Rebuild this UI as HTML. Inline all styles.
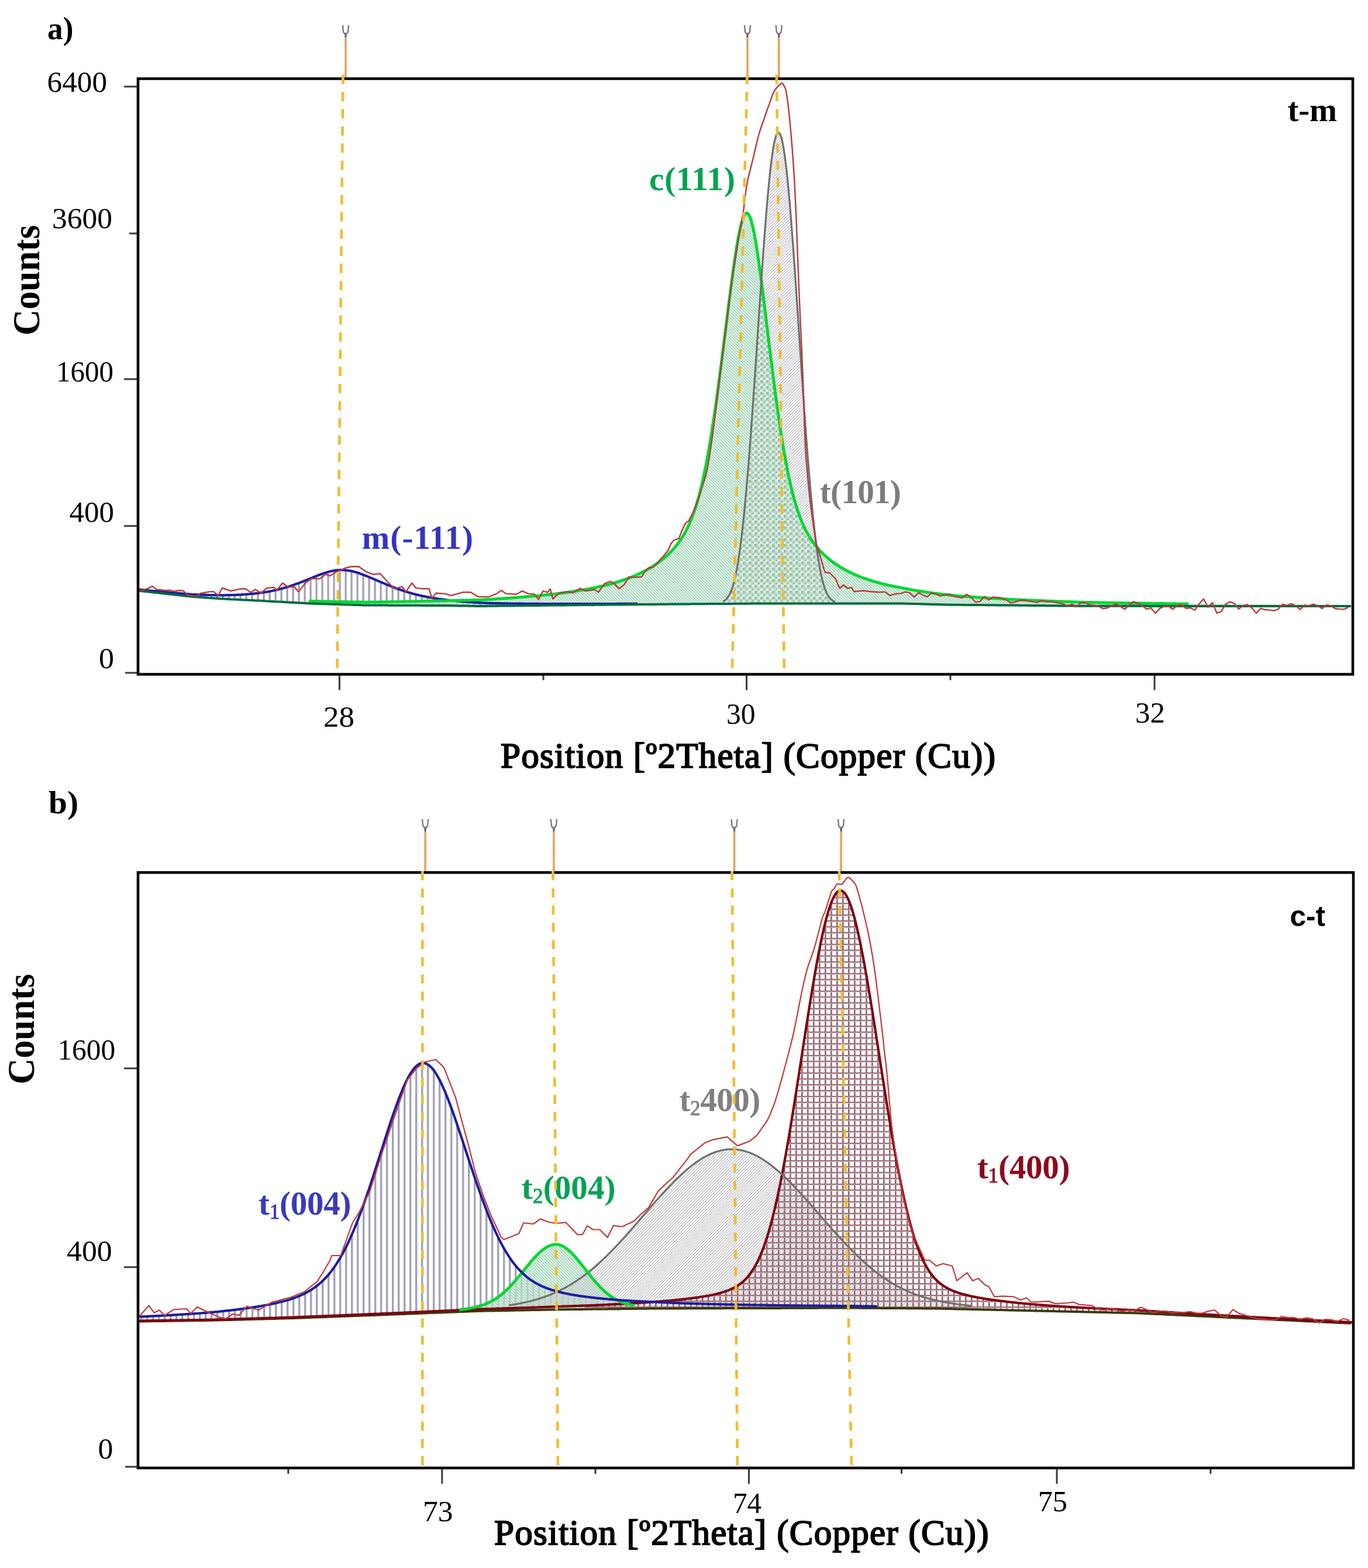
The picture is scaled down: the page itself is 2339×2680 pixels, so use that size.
<!DOCTYPE html><html><head><meta charset="utf-8"><title>XRD</title>
<style>html,body{margin:0;padding:0;background:#fff;width:2339px;height:2680px;overflow:hidden}svg{display:block}.sr{font-family:"Liberation Serif",serif}.sb{font-family:"Liberation Serif",serif;font-weight:bold}.ss{font-family:"Liberation Sans",sans-serif;font-weight:bold}.sbs{font-family:"Liberation Serif",serif;font-weight:bold}.sm{font-family:"Liberation Serif",serif;font-weight:normal;stroke-width:0.6;paint-order:stroke}</style></head><body>
<svg xmlns="http://www.w3.org/2000/svg" width="2339" height="2680" viewBox="0 0 2339 2680">
<rect width="2339" height="2680" fill="#fff"/>
<defs>
<pattern id="pv" patternUnits="userSpaceOnUse" width="10" height="10" x="0"><rect x="0" y="0" width="3.4" height="10" fill="#a2a2b8"/></pattern>
<pattern id="pva" patternUnits="userSpaceOnUse" width="10" height="10" x="-0.5"><rect x="0" y="0" width="3.2" height="10" fill="#9e9eb2"/></pattern>
<pattern id="pg" patternUnits="userSpaceOnUse" width="5" height="5"><path d="M-1,-1L6,6M-1,4L1,6M4,-1L6,1" stroke="#add6bf" stroke-width="1.9"/></pattern>
<pattern id="py" patternUnits="userSpaceOnUse" width="5" height="5"><path d="M-1,6L6,-1M-1,1L1,-1M4,6L6,4" stroke="#c9c9ce" stroke-width="1.6"/></pattern>
<pattern id="pr" patternUnits="userSpaceOnUse" width="10" height="10" x="0" y="3"><rect x="0" y="0" width="2" height="10" fill="#8e5e69"/><rect x="2" y="0" width="1.3" height="10" fill="#c8b0b5"/><rect x="0" y="0" width="10" height="1.9" fill="#976a74"/><rect x="0" y="1.9" width="10" height="1.1" fill="#d0bcc0"/></pattern>
<pattern id="pk" patternUnits="userSpaceOnUse" width="10" height="10"><rect width="10" height="10" fill="#d9efe2"/><rect x="3.8" y="0" width="2" height="10" fill="#b6d6c3"/><rect x="0" y="3.8" width="10" height="2" fill="#b6d6c3"/><rect x="0" y="0" width="3.8" height="3.8" fill="#93baa1"/><rect x="6.3" y="6.3" width="2.4" height="2.4" fill="#7fa48b"/></pattern>
</defs>
<path d="M238,1007.4L240,1007.9L242,1008.1L244,1008.3L246,1008.5L248,1008.7L250,1008.9L252,1009.1L254,1009.3L256,1009.5L258,1009.6L260,1009.8L262,1010L264,1010.2L266,1010.4L268,1010.6L270,1010.8L272,1011L274,1011.2L276,1011.3L278,1011.5L280,1011.7L282,1011.9L284,1012.1L286,1012.3L288,1012.4L290,1012.6L292,1012.8L294,1013L296,1013.2L298,1013.3L300,1013.5L302,1013.7L304,1013.9L306,1014L308,1014.2L310,1014.4L312,1014.6L314,1014.7L316,1014.9L318,1015.1L320,1015.2L322,1015.4L324,1015.6L326,1015.7L328,1015.9L330,1016L332,1016.1L334,1016.2L336,1016.3L338,1016.3L340,1016.4L342,1016.5L344,1016.6L346,1016.6L348,1016.7L350,1016.7L352,1016.8L354,1016.9L356,1016.9L358,1017L360,1017L362,1017.1L364,1017.1L366,1017.2L368,1017.2L370,1017.2L372,1017.3L374,1017.3L376,1017.3L378,1017.4L380,1017.4L382,1017.3L384,1017.3L386,1017.3L388,1017.2L390,1017.2L392,1017.2L394,1017.1L396,1017.1L398,1017L400,1016.9L402,1016.8L404,1016.8L406,1016.7L408,1016.6L410,1016.5L412,1016.4L414,1016.3L416,1016.1L418,1016L420,1015.9L422,1015.7L424,1015.6L426,1015.4L428,1015.2L430,1015L432,1014.8L434,1014.6L436,1014.4L438,1014.2L440,1014L442,1013.7L444,1013.5L446,1013.2L448,1012.9L450,1012.6L452,1012.3L454,1012L456,1011.7L458,1011.3L460,1011L462,1010.6L464,1010.2L466,1009.8L468,1009.4L470,1008.9L472,1008.5L474,1008L476,1007.5L478,1007L480,1006.5L482,1005.9L484,1005.4L486,1004.8L488,1004.2L490,1003.6L492,1003L494,1002.4L496,1001.8L498,1001.1L500,1000.4L502,999.7L504,999L506,998.3L508,997.6L510,996.9L512,996.1L514,995.4L516,994.6L518,993.8L520,993L522,992.3L524,991.5L526,990.7L528,989.8L530,989L532,988.2L534,987.4L536,986.5L538,985.7L540,984.9L542,984.1L544,983.3L546,982.6L548,981.8L550,981.1L552,980.4L554,979.7L556,979L558,978.4L560,977.8L562,977.3L564,976.8L566,976.3L568,975.8L570,975.5L572,975.1L574,974.8L576,974.6L578,974.4L580,974.3L582,974.2L584,974.2L586,974.2L588,974.3L590,974.5L592,974.7L594,974.9L596,975.2L598,975.6L600,975.9L602,976.4L604,976.9L606,977.4L608,977.9L610,978.5L612,979.1L614,979.8L616,980.5L618,981.2L620,982L622,982.7L624,983.5L626,984.3L628,985.1L630,985.9L632,986.7L634,987.6L636,988.4L638,989.2L640,990.1L642,990.9L644,991.8L646,992.7L648,993.5L650,994.4L652,995.2L654,996.1L656,996.9L658,997.8L660,998.6L662,999.4L664,1000.2L666,1001L668,1001.8L670,1002.6L672,1003.4L674,1004.2L676,1004.9L678,1005.7L680,1006.4L682,1007.1L684,1007.8L686,1008.5L688,1009.2L690,1009.8L692,1010.5L694,1011.1L696,1011.8L698,1012.4L700,1013L702,1013.5L704,1014.1L706,1014.7L708,1015.2L710,1015.7L712,1016.2L714,1016.7L716,1017.2L718,1017.7L720,1018.1L722,1018.6L724,1019L726,1019.4L728,1019.8L730,1020.2L732,1020.6L734,1021L736,1021.3L738,1021.7L740,1022L742,1022.4L744,1022.7L746,1023L748,1023.3L750,1023.6L752,1023.8L754,1024.1L756,1024.4L758,1024.6L760,1024.9L762,1025.1L764,1025.4L766,1025.6L768,1025.9L770,1026.1L772,1026.3L774,1026.5L776,1026.8L778,1027L780,1027.2L782,1027.4L784,1027.5L786,1027.7L788,1027.9L790,1028.1L792,1028.3L794,1028.4L796,1028.6L798,1028.7L800,1028.9L802,1029.1L804,1029.2L806,1029.3L808,1029.5L810,1029.6L812,1029.8L814,1029.9L816,1030L818,1030.1L820,1030.3L822,1030.3L824,1030.4L826,1030.5L828,1030.5L830,1030.6L832,1030.7L834,1030.7L836,1030.8L838,1030.8L840,1030.9L842,1030.9L844,1031L846,1031L848,1031.1L850,1031.1L852,1031.1L854,1031.2L856,1031.2L858,1031.3L860,1031.3L862,1031.3L864,1031.4L866,1031.4L868,1031.4L870,1031.5L872,1031.5L874,1031.5L876,1031.5L878,1031.6L880,1031.6L882,1031.6L884,1031.6L886,1031.7L888,1031.7L890,1031.7L892,1031.7L894,1031.7L896,1031.8L898,1031.8L900,1031.8L902,1031.8L904,1031.8L906,1031.9L908,1031.9L910,1031.9L912,1031.9L914,1031.9L916,1031.9L918,1031.9L920,1031.9L922,1032L924,1032L926,1032L928,1032L930,1032L932,1032L934,1032L936,1032L938,1032L940,1032L942,1032L944,1032L946,1032L948,1032L950,1032.1L952,1032.1L954,1032.1L956,1032.1L958,1032.1L960,1032.1L962,1032.1L964,1032.1L966,1032.1L968,1032.1L970,1032.1L972,1032.1L974,1032.1L976,1032.1L978,1032.1L980,1032.1L982,1032.1L984,1032.1L986,1032.1L988,1032.1L990,1032.1L992,1032.1L994,1032.1L996,1032.1L998,1032.1L1000,1032L1000,1034L998,1034L996,1034L994,1034.1L992,1034.1L990,1034.1L988,1034.1L986,1034.2L984,1034.2L982,1034.2L980,1034.2L978,1034.2L976,1034.3L974,1034.3L972,1034.3L970,1034.3L968,1034.4L966,1034.4L964,1034.4L962,1034.4L960,1034.4L958,1034.5L956,1034.5L954,1034.5L952,1034.5L950,1034.6L948,1034.6L946,1034.6L944,1034.6L942,1034.6L940,1034.7L938,1034.7L936,1034.7L934,1034.7L932,1034.8L930,1034.8L928,1034.8L926,1034.8L924,1034.8L922,1034.9L920,1034.9L918,1034.9L916,1034.9L914,1035L912,1035L910,1035L908,1035L906,1035L904,1035.1L902,1035.1L900,1035.1L898,1035.1L896,1035.2L894,1035.2L892,1035.2L890,1035.2L888,1035.2L886,1035.3L884,1035.3L882,1035.3L880,1035.3L878,1035.4L876,1035.4L874,1035.4L872,1035.4L870,1035.4L868,1035.5L866,1035.5L864,1035.5L862,1035.5L860,1035.6L858,1035.6L856,1035.6L854,1035.6L852,1035.6L850,1035.7L848,1035.7L846,1035.7L844,1035.7L842,1035.8L840,1035.8L838,1035.8L836,1035.8L834,1035.8L832,1035.9L830,1035.9L828,1035.9L826,1035.9L824,1036L822,1036L820,1036L818,1036L816,1035.9L814,1035.9L812,1035.9L810,1035.8L808,1035.8L806,1035.8L804,1035.7L802,1035.7L800,1035.7L798,1035.6L796,1035.6L794,1035.6L792,1035.5L790,1035.5L788,1035.5L786,1035.4L784,1035.4L782,1035.4L780,1035.3L778,1035.3L776,1035.3L774,1035.2L772,1035.2L770,1035.2L768,1035.1L766,1035.1L764,1035.1L762,1035L760,1035L758,1035L756,1035L754,1035L752,1035L750,1035L748,1035L746,1034.9L744,1034.9L742,1034.9L740,1034.9L738,1034.9L736,1034.9L734,1034.9L732,1034.9L730,1034.9L728,1034.9L726,1034.9L724,1034.9L722,1034.9L720,1034.9L718,1034.8L716,1034.8L714,1034.8L712,1034.8L710,1034.8L708,1034.8L706,1034.8L704,1034.8L702,1034.8L700,1034.8L698,1034.8L696,1034.8L694,1034.8L692,1034.7L690,1034.7L688,1034.7L686,1034.7L684,1034.7L682,1034.7L680,1034.7L678,1034.7L676,1034.7L674,1034.7L672,1034.7L670,1034.7L668,1034.7L666,1034.7L664,1034.6L662,1034.6L660,1034.6L658,1034.6L656,1034.6L654,1034.6L652,1034.6L650,1034.6L648,1034.6L646,1034.6L644,1034.6L642,1034.6L640,1034.6L638,1034.5L636,1034.5L634,1034.5L632,1034.5L630,1034.5L628,1034.5L626,1034.5L624,1034.5L622,1034.4L620,1034.3L618,1034.3L616,1034.2L614,1034.1L612,1034.1L610,1034L608,1033.9L606,1033.9L604,1033.8L602,1033.7L600,1033.7L598,1033.6L596,1033.6L594,1033.5L592,1033.4L590,1033.4L588,1033.3L586,1033.2L584,1033.2L582,1033.1L580,1033L578,1033L576,1032.9L574,1032.8L572,1032.8L570,1032.7L568,1032.6L566,1032.6L564,1032.5L562,1032.4L560,1032.4L558,1032.3L556,1032.2L554,1032.2L552,1032.1L550,1032.1L548,1032L546,1031.9L544,1031.9L542,1031.8L540,1031.7L538,1031.7L536,1031.6L534,1031.5L532,1031.5L530,1031.4L528,1031.3L526,1031.2L524,1031.1L522,1031L520,1030.9L518,1030.8L516,1030.7L514,1030.6L512,1030.5L510,1030.4L508,1030.3L506,1030.1L504,1030L502,1029.9L500,1029.8L498,1029.7L496,1029.6L494,1029.5L492,1029.4L490,1029.3L488,1029.1L486,1029L484,1028.9L482,1028.8L480,1028.7L478,1028.6L476,1028.5L474,1028.4L472,1028.3L470,1028.2L468,1028L466,1027.9L464,1027.8L462,1027.7L460,1027.6L458,1027.5L456,1027.4L454,1027.3L452,1027.2L450,1027L448,1026.9L446,1026.8L444,1026.7L442,1026.6L440,1026.5L438,1026.4L436,1026.3L434,1026.2L432,1026.1L430,1026L428,1025.9L426,1025.8L424,1025.7L422,1025.6L420,1025.5L418,1025.4L416,1025.3L414,1025.2L412,1025.1L410,1025L408,1024.9L406,1024.8L404,1024.7L402,1024.6L400,1024.5L398,1024.4L396,1024.3L394,1024.2L392,1024.1L390,1024L388,1023.9L386,1023.8L384,1023.7L382,1023.6L380,1023.5L378,1023.4L376,1023.2L374,1023.1L372,1022.9L370,1022.8L368,1022.7L366,1022.5L364,1022.4L362,1022.2L360,1022.1L358,1022L356,1021.8L354,1021.7L352,1021.5L350,1021.4L348,1021.3L346,1021.1L344,1021L342,1020.8L340,1020.7L338,1020.6L336,1020.4L334,1020.3L332,1020.1L330,1020L328,1019.8L326,1019.6L324,1019.3L322,1019.1L320,1018.9L318,1018.7L316,1018.4L314,1018.2L312,1018L310,1017.8L308,1017.6L306,1017.3L304,1017.1L302,1016.9L300,1016.7L298,1016.4L296,1016.2L294,1016L292,1015.8L290,1015.6L288,1015.3L286,1015.1L284,1014.9L282,1014.7L280,1014.4L278,1014.2L276,1014L274,1013.8L272,1013.6L270,1013.3L268,1013.1L266,1012.9L264,1012.7L262,1012.4L260,1012.2L258,1012L256,1011.8L254,1011.6L252,1011.3L250,1011.1L248,1010.9L246,1010.7L244,1010.4L242,1010.2L240,1010L238,1009.5Z" fill="url(#pva)"/>
<path d="M520,1027.1L522,1027.2L524,1027.3L526,1027.3L528,1027.4L530,1027.5L532,1027.5L534,1027.5L536,1027.6L538,1027.6L540,1027.7L542,1027.7L544,1027.7L546,1027.8L548,1027.8L550,1027.9L552,1027.9L554,1028L556,1028L558,1028L560,1028.1L562,1028.1L564,1028.1L566,1028.2L568,1028.2L570,1028.3L572,1028.3L574,1028.3L576,1028.4L578,1028.4L580,1028.5L582,1028.5L584,1028.5L586,1028.6L588,1028.6L590,1028.6L592,1028.7L594,1028.7L596,1028.7L598,1028.8L600,1028.8L602,1028.8L604,1028.9L606,1028.9L608,1028.9L610,1029L612,1029L614,1029L616,1029.1L618,1029.1L620,1029.1L622,1029.2L624,1029.2L626,1029.2L628,1029.2L630,1029.2L632,1029.1L634,1029.1L636,1029.1L638,1029.1L640,1029L642,1029L644,1029L646,1028.9L648,1028.9L650,1028.9L652,1028.9L654,1028.8L656,1028.8L658,1028.8L660,1028.7L662,1028.7L664,1028.7L666,1028.7L668,1028.6L670,1028.6L672,1028.6L674,1028.5L676,1028.5L678,1028.5L680,1028.4L682,1028.4L684,1028.4L686,1028.3L688,1028.3L690,1028.3L692,1028.2L694,1028.2L696,1028.1L698,1028.1L700,1028.1L702,1028L704,1028L706,1028L708,1027.9L710,1027.9L712,1027.8L714,1027.8L716,1027.8L718,1027.7L720,1027.7L722,1027.6L724,1027.6L726,1027.5L728,1027.5L730,1027.4L732,1027.4L734,1027.4L736,1027.3L738,1027.3L740,1027.2L742,1027.2L744,1027.1L746,1027.1L748,1027L750,1027L752,1026.9L754,1026.9L756,1026.8L758,1026.7L760,1026.7L762,1026.7L764,1026.6L766,1026.6L768,1026.6L770,1026.5L772,1026.5L774,1026.5L776,1026.4L778,1026.4L780,1026.4L782,1026.3L784,1026.3L786,1026.2L788,1026.2L790,1026.1L792,1026.1L794,1026.1L796,1026L798,1026L800,1025.9L802,1025.9L804,1025.8L806,1025.8L808,1025.7L810,1025.7L812,1025.6L814,1025.6L816,1025.5L818,1025.5L820,1025.4L822,1025.3L824,1025.2L826,1025.1L828,1025L830,1024.8L832,1024.7L834,1024.6L836,1024.5L838,1024.4L840,1024.3L842,1024.1L844,1024L846,1023.9L848,1023.8L850,1023.6L852,1023.5L854,1023.4L856,1023.3L858,1023.1L860,1023L862,1022.9L864,1022.7L866,1022.6L868,1022.4L870,1022.3L872,1022.2L874,1022L876,1021.9L878,1021.7L880,1021.6L882,1021.4L884,1021.3L886,1021.1L888,1021L890,1020.8L892,1020.6L894,1020.5L896,1020.3L898,1020.2L900,1020L902,1019.8L904,1019.6L906,1019.5L908,1019.3L910,1019.1L912,1018.9L914,1018.7L916,1018.6L918,1018.4L920,1018.2L922,1018L924,1017.8L926,1017.6L928,1017.4L930,1017.2L932,1017L934,1016.8L936,1016.5L938,1016.3L940,1016.1L942,1015.9L944,1015.7L946,1015.4L948,1015.2L950,1015L952,1014.7L954,1014.5L956,1014.2L958,1014L960,1013.7L962,1013.5L964,1013.2L966,1012.9L968,1012.7L970,1012.4L972,1012.1L974,1011.8L976,1011.5L978,1011.2L980,1010.9L982,1010.6L984,1010.3L986,1010L988,1009.7L990,1009.4L992,1009L994,1008.7L996,1008.4L998,1008L1000,1007.7L1002,1007.3L1004,1006.9L1006,1006.6L1008,1006.2L1010,1005.8L1012,1005.4L1014,1005L1016,1004.6L1018,1004.2L1020,1003.8L1022,1003.4L1024,1002.9L1026,1002.5L1028,1002L1030,1001.6L1032,1001.1L1034,1000.6L1036,1000.1L1038,999.6L1040,999.1L1042,998.6L1044,998L1046,997.5L1048,996.9L1050,996.4L1052,995.8L1054,995.2L1056,994.6L1058,994L1060,993.4L1062,992.7L1064,992L1066,991.4L1068,990.7L1070,990L1072,989.3L1074,988.5L1076,987.8L1078,987L1080,986.2L1082,985.4L1084,984.6L1086,983.7L1088,982.8L1090,981.9L1092,981L1094,980.1L1096,979.1L1098,978.1L1100,977.1L1102,976.1L1104,975L1106,973.9L1108,972.8L1110,971.7L1112,970.5L1114,969.3L1116,968L1118,966.7L1120,965.4L1122,964.1L1124,962.7L1126,961.2L1128,959.7L1130,958.2L1132,956.6L1134,955L1136,953.4L1138,951.6L1140,949.8L1142,948L1144,946.1L1146,944.1L1148,942L1150,939.9L1152,937.7L1154,935.3L1156,932.9L1158,930.4L1160,927.8L1162,925L1164,922.1L1166,919L1168,915.8L1170,912.4L1172,908.9L1174,905.1L1176,901L1178,896.8L1180,892.3L1182,887.4L1184,882.3L1186,876.9L1188,871.1L1190,864.9L1192,858.4L1194,851.4L1196,844L1198,836.2L1200,827.9L1202,819.2L1204,809.9L1206,800.2L1208,790L1210,779.2L1212,768L1214,756.3L1216,744.1L1218,731.4L1220,718.2L1222,704.7L1224,690.7L1226,676.3L1228,661.6L1230,646.5L1232,631.2L1234,615.6L1236,599.9L1238,583.9L1240,567.9L1242,551.9L1244,535.9L1246,520L1248,504.3L1250,488.9L1252,473.8L1254,459.2L1256,445.2L1258,431.9L1260,419.4L1262,407.9L1264,397.4L1266,388.2L1268,380.3L1270,373.8L1272,368.9L1274,365.7L1276,364.2L1278,364.4L1280,366.4L1282,370.1L1284,375.6L1286,382.7L1288,391.3L1290,401.3L1292,412.5L1294,424.8L1296,438.1L1298,452.1L1300,466.8L1302,482.1L1304,497.8L1306,513.8L1308,530L1310,546.4L1312,562.9L1314,579.3L1316,595.7L1318,611.9L1320,628L1322,643.8L1324,659.3L1326,674.4L1328,689.2L1330,703.6L1332,717.6L1334,731.1L1336,744.1L1338,756.6L1340,768.6L1342,780.1L1344,791.1L1346,801.5L1348,811.4L1350,820.8L1352,829.7L1354,838L1356,845.9L1358,853.4L1360,860.4L1362,866.9L1364,873.1L1366,878.9L1368,884.3L1370,889.4L1372,894.2L1374,898.7L1376,902.9L1378,906.9L1380,910.6L1382,914.2L1384,917.5L1386,920.7L1388,923.7L1390,926.5L1392,929.3L1394,931.9L1396,934.4L1398,936.7L1400,939L1402,941.2L1404,943.3L1406,945.3L1408,947.3L1410,949.2L1412,951L1414,952.7L1416,954.4L1418,956.1L1420,957.7L1422,959.2L1424,960.7L1426,962.1L1428,963.5L1430,964.9L1432,966.2L1434,967.5L1436,968.8L1438,970L1440,971.2L1442,972.3L1444,973.4L1446,974.5L1448,975.6L1450,976.6L1452,977.6L1454,978.6L1456,979.5L1458,980.5L1460,981.4L1462,982.2L1464,983.1L1466,983.9L1468,984.7L1470,985.5L1472,986.3L1474,987.1L1476,987.8L1478,988.5L1480,989.2L1482,989.9L1484,990.6L1486,991.3L1488,991.9L1490,992.5L1492,993.1L1494,993.7L1496,994.3L1498,994.9L1500,995.5L1502,996L1504,996.5L1506,997.1L1508,997.6L1510,998.1L1512,998.6L1514,999L1516,999.5L1518,1000L1520,1000.4L1522,1000.9L1524,1001.3L1526,1001.7L1528,1002.1L1530,1002.5L1532,1002.9L1534,1003.3L1536,1003.7L1538,1004.1L1540,1004.4L1542,1004.8L1544,1005.2L1546,1005.6L1548,1006L1550,1006.4L1552,1006.8L1554,1007.1L1556,1007.5L1558,1007.9L1560,1008.2L1562,1008.6L1564,1008.9L1566,1009.2L1568,1009.6L1570,1009.9L1572,1010.2L1574,1010.5L1576,1010.8L1578,1011.1L1580,1011.4L1582,1011.7L1584,1012L1586,1012.3L1588,1012.6L1590,1012.9L1592,1013.2L1594,1013.4L1596,1013.7L1598,1014L1600,1014.2L1602,1014.5L1604,1014.7L1606,1015L1608,1015.2L1610,1015.5L1612,1015.7L1614,1016L1616,1016.2L1618,1016.5L1620,1016.7L1622,1016.9L1624,1017.1L1626,1017.3L1628,1017.5L1630,1017.6L1632,1017.8L1634,1018L1636,1018.2L1638,1018.4L1640,1018.5L1642,1018.7L1644,1018.9L1646,1019L1648,1019.2L1650,1019.4L1652,1019.5L1654,1019.7L1656,1019.8L1658,1020L1660,1020.1L1662,1020.3L1664,1020.4L1666,1020.6L1668,1020.7L1670,1020.9L1672,1021L1674,1021.2L1676,1021.3L1678,1021.4L1680,1021.6L1682,1021.7L1684,1021.8L1686,1022L1688,1022.1L1690,1022.2L1692,1022.3L1694,1022.5L1696,1022.6L1698,1022.7L1700,1022.8L1702,1022.9L1704,1023.1L1706,1023.2L1708,1023.3L1710,1023.4L1712,1023.5L1714,1023.6L1716,1023.7L1718,1023.8L1720,1023.9L1722,1024L1724,1024.2L1726,1024.3L1728,1024.4L1730,1024.5L1732,1024.6L1734,1024.7L1736,1024.8L1738,1024.9L1740,1025L1742,1025.1L1744,1025.1L1746,1025.2L1748,1025.3L1750,1025.4L1752,1025.5L1754,1025.6L1756,1025.7L1758,1025.8L1760,1025.9L1762,1026L1764,1026.1L1766,1026.2L1768,1026.3L1770,1026.3L1772,1026.4L1774,1026.5L1776,1026.6L1778,1026.7L1780,1026.8L1782,1026.8L1784,1026.9L1786,1027L1788,1027.1L1790,1027.2L1792,1027.2L1794,1027.3L1796,1027.4L1798,1027.5L1800,1027.6L1802,1027.6L1804,1027.7L1806,1027.8L1808,1027.9L1810,1027.9L1812,1028L1814,1028.1L1816,1028.2L1818,1028.2L1820,1028.3L1822,1028.4L1824,1028.4L1826,1028.5L1828,1028.6L1830,1028.6L1832,1028.7L1834,1028.8L1836,1028.8L1838,1028.9L1840,1029L1842,1029L1844,1029.1L1846,1029.2L1848,1029.2L1850,1029.3L1852,1029.3L1854,1029.4L1856,1029.4L1858,1029.5L1860,1029.5L1862,1029.6L1864,1029.6L1866,1029.6L1868,1029.7L1870,1029.7L1872,1029.8L1874,1029.8L1876,1029.8L1878,1029.9L1880,1029.9L1882,1030L1884,1030L1886,1030L1888,1030.1L1890,1030.1L1892,1030.2L1894,1030.2L1896,1030.2L1898,1030.3L1900,1030.3L1902,1030.3L1904,1030.4L1906,1030.4L1908,1030.4L1910,1030.5L1912,1030.5L1914,1030.5L1916,1030.6L1918,1030.6L1920,1030.6L1922,1030.7L1924,1030.7L1926,1030.7L1928,1030.8L1930,1030.8L1932,1030.8L1934,1030.9L1936,1030.9L1938,1030.9L1940,1030.9L1942,1031L1944,1031L1946,1031L1948,1031.1L1950,1031.1L1952,1031.1L1954,1031.1L1956,1031.2L1958,1031.2L1960,1031.2L1962,1031.3L1964,1031.3L1966,1031.3L1968,1031.3L1970,1031.4L1972,1031.4L1974,1031.4L1976,1031.4L1978,1031.5L1980,1031.5L1982,1031.5L1984,1031.5L1986,1031.6L1988,1031.6L1990,1031.6L1992,1031.6L1994,1031.7L1996,1031.7L1998,1031.7L2000,1031.7L2002,1031.8L2004,1031.8L2006,1031.8L2008,1031.8L2010,1031.8L2012,1031.9L2014,1031.9L2016,1031.9L2018,1031.9L2020,1032L2022,1032L2024,1032L2026,1032L2028,1032L2030,1032.1L2032,1032.1L2034,1032.1L2036,1032.1L2038,1032.1L2040,1032.2L2042,1032.2L2044,1032.2L2046,1032.2L2048,1032.2L2050,1032.3L2052,1032.3L2054,1032.3L2056,1032.3L2058,1032.3L2060,1032.4L2062,1032.4L2064,1032.4L2066,1032.4L2068,1032.4L2070,1032.4L2072,1032.5L2074,1032.5L2076,1032.5L2078,1032.5L2080,1032.5L2082,1032.6L2084,1032.6L2086,1032.6L2088,1032.6L2090,1032.6L2092,1032.6L2094,1032.7L2096,1032.7L2098,1032.7L2100,1032.7L2102,1032.7L2104,1032.7L2106,1032.8L2108,1032.8L2110,1032.8L2112,1032.8L2114,1032.8L2116,1032.8L2118,1032.8L2120,1032.9L2122,1032.9L2124,1032.9L2126,1032.9L2128,1032.9L2130,1032.9L2132,1032.9L2134,1033L2136,1033L2138,1033L2140,1033L2142,1033L2144,1033L2146,1033L2148,1033.1L2150,1033.1L2152,1033.1L2154,1033.1L2156,1033.1L2158,1033.1L2160,1033.1L2162,1033.2L2164,1033.2L2166,1033.2L2168,1033.2L2170,1033.2L2172,1033.2L2174,1033.2L2176,1033.2L2178,1033.3L2180,1033.3L2182,1033.3L2184,1033.3L2186,1033.3L2188,1033.3L2190,1033.3L2192,1033.3L2194,1033.4L2196,1033.4L2198,1033.4L2200,1033.4L2202,1033.4L2204,1033.4L2206,1033.4L2208,1033.4L2210,1033.5L2212,1033.5L2214,1033.5L2216,1033.5L2218,1033.5L2220,1033.5L2222,1033.5L2224,1033.5L2226,1033.5L2228,1033.6L2230,1033.6L2232,1033.6L2234,1033.6L2236,1033.6L2238,1033.6L2240,1033.6L2242,1033.6L2244,1033.6L2246,1033.6L2248,1033.7L2250,1033.7L2252,1033.7L2254,1033.7L2256,1033.7L2258,1033.7L2260,1033.7L2262,1033.7L2264,1033.7L2266,1033.7L2268,1033.8L2270,1033.8L2272,1033.8L2274,1033.8L2276,1033.8L2278,1033.8L2280,1033.8L2282,1033.8L2284,1033.8L2286,1033.8L2288,1033.9L2290,1033.9L2292,1033.9L2294,1033.9L2296,1033.9L2298,1033.9L2300,1033.9L2302,1033.9L2304,1033.9L2306,1033.9L2308,1033.9L2310,1034L2310,1036L2308,1036L2306,1036L2304,1036L2302,1036L2300,1036L2298,1036L2296,1036L2294,1036L2292,1036L2290,1036L2288,1036L2286,1036L2284,1036L2282,1036L2280,1036L2278,1036L2276,1036L2274,1036L2272,1036L2270,1036L2268,1036L2266,1036L2264,1036L2262,1036L2260,1036L2258,1036L2256,1036L2254,1036L2252,1036L2250,1036L2248,1036L2246,1036L2244,1036L2242,1036L2240,1036L2238,1036L2236,1036L2234,1036L2232,1036L2230,1036L2228,1036L2226,1036L2224,1036L2222,1036L2220,1036L2218,1036L2216,1036L2214,1036L2212,1036L2210,1036L2208,1036L2206,1036L2204,1036L2202,1036L2200,1036L2198,1036L2196,1035.9L2194,1035.9L2192,1035.9L2190,1035.9L2188,1035.9L2186,1035.9L2184,1035.9L2182,1035.9L2180,1035.9L2178,1035.9L2176,1035.9L2174,1035.9L2172,1035.9L2170,1035.9L2168,1035.9L2166,1035.9L2164,1035.9L2162,1035.9L2160,1035.9L2158,1035.9L2156,1035.9L2154,1035.9L2152,1035.9L2150,1035.9L2148,1035.9L2146,1035.9L2144,1035.9L2142,1035.9L2140,1035.9L2138,1035.9L2136,1035.9L2134,1035.9L2132,1035.9L2130,1035.9L2128,1035.9L2126,1035.9L2124,1035.9L2122,1035.9L2120,1035.9L2118,1035.9L2116,1035.9L2114,1035.9L2112,1035.9L2110,1035.9L2108,1035.9L2106,1035.9L2104,1035.9L2102,1035.9L2100,1035.9L2098,1035.9L2096,1035.9L2094,1035.9L2092,1035.9L2090,1035.9L2088,1035.9L2086,1035.9L2084,1035.9L2082,1035.9L2080,1035.9L2078,1035.9L2076,1035.9L2074,1035.9L2072,1035.9L2070,1035.9L2068,1035.9L2066,1035.9L2064,1035.9L2062,1035.9L2060,1035.9L2058,1035.9L2056,1035.9L2054,1035.9L2052,1035.9L2050,1035.9L2048,1035.9L2046,1035.9L2044,1035.9L2042,1035.9L2040,1035.9L2038,1035.9L2036,1035.9L2034,1035.9L2032,1035.9L2030,1035.9L2028,1035.9L2026,1035.9L2024,1035.9L2022,1035.9L2020,1035.9L2018,1035.9L2016,1035.9L2014,1035.9L2012,1035.9L2010,1035.9L2008,1035.9L2006,1035.9L2004,1035.9L2002,1035.9L2000,1035.9L1998,1035.9L1996,1035.9L1994,1035.9L1992,1035.9L1990,1035.9L1988,1035.9L1986,1035.9L1984,1035.9L1982,1035.9L1980,1035.9L1978,1035.9L1976,1035.9L1974,1035.9L1972,1035.9L1970,1035.9L1968,1035.9L1966,1035.9L1964,1035.8L1962,1035.8L1960,1035.8L1958,1035.8L1956,1035.8L1954,1035.8L1952,1035.8L1950,1035.8L1948,1035.8L1946,1035.8L1944,1035.8L1942,1035.8L1940,1035.8L1938,1035.8L1936,1035.8L1934,1035.8L1932,1035.8L1930,1035.8L1928,1035.8L1926,1035.8L1924,1035.8L1922,1035.8L1920,1035.8L1918,1035.8L1916,1035.8L1914,1035.8L1912,1035.8L1910,1035.8L1908,1035.8L1906,1035.8L1904,1035.8L1902,1035.8L1900,1035.8L1898,1035.8L1896,1035.8L1894,1035.8L1892,1035.8L1890,1035.8L1888,1035.8L1886,1035.8L1884,1035.8L1882,1035.8L1880,1035.8L1878,1035.8L1876,1035.8L1874,1035.8L1872,1035.8L1870,1035.8L1868,1035.8L1866,1035.8L1864,1035.8L1862,1035.8L1860,1035.8L1858,1035.8L1856,1035.8L1854,1035.8L1852,1035.8L1850,1035.8L1848,1035.8L1846,1035.8L1844,1035.7L1842,1035.7L1840,1035.7L1838,1035.7L1836,1035.7L1834,1035.6L1832,1035.6L1830,1035.6L1828,1035.6L1826,1035.5L1824,1035.5L1822,1035.5L1820,1035.5L1818,1035.5L1816,1035.4L1814,1035.4L1812,1035.4L1810,1035.4L1808,1035.4L1806,1035.3L1804,1035.3L1802,1035.3L1800,1035.3L1798,1035.3L1796,1035.2L1794,1035.2L1792,1035.2L1790,1035.2L1788,1035.2L1786,1035.1L1784,1035.1L1782,1035.1L1780,1035.1L1778,1035L1776,1035L1774,1035L1772,1035L1770,1035L1768,1034.9L1766,1034.9L1764,1034.9L1762,1034.9L1760,1034.9L1758,1034.8L1756,1034.8L1754,1034.8L1752,1034.8L1750,1034.8L1748,1034.7L1746,1034.7L1744,1034.7L1742,1034.7L1740,1034.7L1738,1034.6L1736,1034.6L1734,1034.6L1732,1034.6L1730,1034.6L1728,1034.6L1726,1034.5L1724,1034.5L1722,1034.5L1720,1034.5L1718,1034.5L1716,1034.4L1714,1034.4L1712,1034.4L1710,1034.4L1708,1034.4L1706,1034.4L1704,1034.3L1702,1034.3L1700,1034.3L1698,1034.3L1696,1034.3L1694,1034.3L1692,1034.2L1690,1034.2L1688,1034.2L1686,1034.2L1684,1034.2L1682,1034.1L1680,1034.1L1678,1034.1L1676,1034.1L1674,1034.1L1672,1034.1L1670,1034L1668,1034L1666,1034L1664,1034L1662,1034L1660,1034L1658,1033.9L1656,1033.9L1654,1033.9L1652,1033.9L1650,1033.9L1648,1033.8L1646,1033.8L1644,1033.8L1642,1033.8L1640,1033.8L1638,1033.8L1636,1033.7L1634,1033.7L1632,1033.7L1630,1033.7L1628,1033.7L1626,1033.7L1624,1033.6L1622,1033.6L1620,1033.6L1618,1033.5L1616,1033.5L1614,1033.4L1612,1033.4L1610,1033.3L1608,1033.3L1606,1033.2L1604,1033.2L1602,1033.1L1600,1033L1598,1033L1596,1032.9L1594,1032.9L1592,1032.8L1590,1032.8L1588,1032.7L1586,1032.7L1584,1032.6L1582,1032.6L1580,1032.5L1578,1032.4L1576,1032.4L1574,1032.3L1572,1032.3L1570,1032.2L1568,1032.2L1566,1032.1L1564,1032.1L1562,1032L1560,1032L1558,1031.9L1556,1031.8L1554,1031.8L1552,1031.7L1550,1031.7L1548,1031.6L1546,1031.6L1544,1031.5L1542,1031.5L1540,1031.4L1538,1031.4L1536,1031.4L1534,1031.4L1532,1031.4L1530,1031.4L1528,1031.4L1526,1031.4L1524,1031.4L1522,1031.4L1520,1031.4L1518,1031.4L1516,1031.4L1514,1031.4L1512,1031.4L1510,1031.4L1508,1031.4L1506,1031.4L1504,1031.4L1502,1031.4L1500,1031.4L1498,1031.4L1496,1031.4L1494,1031.4L1492,1031.4L1490,1031.4L1488,1031.4L1486,1031.4L1484,1031.4L1482,1031.4L1480,1031.4L1478,1031.4L1476,1031.4L1474,1031.4L1472,1031.4L1470,1031.4L1468,1031.4L1466,1031.4L1464,1031.4L1462,1031.4L1460,1031.4L1458,1031.4L1456,1031.4L1454,1031.4L1452,1031.4L1450,1031.4L1448,1031.4L1446,1031.4L1444,1031.4L1442,1031.4L1440,1031.4L1438,1031.4L1436,1031.4L1434,1031.4L1432,1031.4L1430,1031.4L1428,1031.4L1426,1031.4L1424,1031.4L1422,1031.4L1420,1031.5L1418,1031.5L1416,1031.5L1414,1031.5L1412,1031.5L1410,1031.5L1408,1031.5L1406,1031.5L1404,1031.5L1402,1031.5L1400,1031.5L1398,1031.5L1396,1031.5L1394,1031.5L1392,1031.5L1390,1031.5L1388,1031.5L1386,1031.5L1384,1031.5L1382,1031.5L1380,1031.5L1378,1031.5L1376,1031.5L1374,1031.5L1372,1031.5L1370,1031.5L1368,1031.5L1366,1031.5L1364,1031.5L1362,1031.5L1360,1031.5L1358,1031.5L1356,1031.5L1354,1031.5L1352,1031.5L1350,1031.5L1348,1031.5L1346,1031.5L1344,1031.5L1342,1031.5L1340,1031.5L1338,1031.5L1336,1031.5L1334,1031.5L1332,1031.5L1330,1031.5L1328,1031.5L1326,1031.5L1324,1031.5L1322,1031.5L1320,1031.5L1318,1031.5L1316,1031.5L1314,1031.5L1312,1031.5L1310,1031.5L1308,1031.5L1306,1031.5L1304,1031.5L1302,1031.5L1300,1031.5L1298,1031.5L1296,1031.5L1294,1031.5L1292,1031.6L1290,1031.6L1288,1031.6L1286,1031.6L1284,1031.6L1282,1031.6L1280,1031.6L1278,1031.7L1276,1031.7L1274,1031.7L1272,1031.7L1270,1031.7L1268,1031.7L1266,1031.7L1264,1031.8L1262,1031.8L1260,1031.8L1258,1031.8L1256,1031.8L1254,1031.8L1252,1031.8L1250,1031.9L1248,1031.9L1246,1031.9L1244,1031.9L1242,1031.9L1240,1031.9L1238,1031.9L1236,1032L1234,1032L1232,1032L1230,1032L1228,1032L1226,1032L1224,1032L1222,1032.1L1220,1032.1L1218,1032.1L1216,1032.1L1214,1032.1L1212,1032.1L1210,1032.1L1208,1032.2L1206,1032.2L1204,1032.2L1202,1032.2L1200,1032.2L1198,1032.2L1196,1032.2L1194,1032.3L1192,1032.3L1190,1032.3L1188,1032.3L1186,1032.3L1184,1032.3L1182,1032.3L1180,1032.4L1178,1032.4L1176,1032.4L1174,1032.4L1172,1032.4L1170,1032.4L1168,1032.4L1166,1032.5L1164,1032.5L1162,1032.5L1160,1032.5L1158,1032.5L1156,1032.5L1154,1032.6L1152,1032.6L1150,1032.6L1148,1032.6L1146,1032.6L1144,1032.7L1142,1032.7L1140,1032.7L1138,1032.7L1136,1032.7L1134,1032.7L1132,1032.8L1130,1032.8L1128,1032.8L1126,1032.8L1124,1032.8L1122,1032.9L1120,1032.9L1118,1032.9L1116,1032.9L1114,1032.9L1112,1033L1110,1033L1108,1033L1106,1033L1104,1033L1102,1033L1100,1033.1L1098,1033.1L1096,1033.1L1094,1033.1L1092,1033.1L1090,1033.2L1088,1033.2L1086,1033.2L1084,1033.2L1082,1033.2L1080,1033.2L1078,1033.3L1076,1033.3L1074,1033.3L1072,1033.3L1070,1033.3L1068,1033.4L1066,1033.4L1064,1033.4L1062,1033.4L1060,1033.4L1058,1033.5L1056,1033.5L1054,1033.5L1052,1033.5L1050,1033.5L1048,1033.5L1046,1033.6L1044,1033.6L1042,1033.6L1040,1033.6L1038,1033.6L1036,1033.7L1034,1033.7L1032,1033.7L1030,1033.7L1028,1033.7L1026,1033.8L1024,1033.8L1022,1033.8L1020,1033.8L1018,1033.8L1016,1033.8L1014,1033.9L1012,1033.9L1010,1033.9L1008,1033.9L1006,1033.9L1004,1034L1002,1034L1000,1034L998,1034L996,1034L994,1034.1L992,1034.1L990,1034.1L988,1034.1L986,1034.2L984,1034.2L982,1034.2L980,1034.2L978,1034.2L976,1034.3L974,1034.3L972,1034.3L970,1034.3L968,1034.4L966,1034.4L964,1034.4L962,1034.4L960,1034.4L958,1034.5L956,1034.5L954,1034.5L952,1034.5L950,1034.6L948,1034.6L946,1034.6L944,1034.6L942,1034.6L940,1034.7L938,1034.7L936,1034.7L934,1034.7L932,1034.8L930,1034.8L928,1034.8L926,1034.8L924,1034.8L922,1034.9L920,1034.9L918,1034.9L916,1034.9L914,1035L912,1035L910,1035L908,1035L906,1035L904,1035.1L902,1035.1L900,1035.1L898,1035.1L896,1035.2L894,1035.2L892,1035.2L890,1035.2L888,1035.2L886,1035.3L884,1035.3L882,1035.3L880,1035.3L878,1035.4L876,1035.4L874,1035.4L872,1035.4L870,1035.4L868,1035.5L866,1035.5L864,1035.5L862,1035.5L860,1035.6L858,1035.6L856,1035.6L854,1035.6L852,1035.6L850,1035.7L848,1035.7L846,1035.7L844,1035.7L842,1035.8L840,1035.8L838,1035.8L836,1035.8L834,1035.8L832,1035.9L830,1035.9L828,1035.9L826,1035.9L824,1036L822,1036L820,1036L818,1036L816,1035.9L814,1035.9L812,1035.9L810,1035.8L808,1035.8L806,1035.8L804,1035.7L802,1035.7L800,1035.7L798,1035.6L796,1035.6L794,1035.6L792,1035.5L790,1035.5L788,1035.5L786,1035.4L784,1035.4L782,1035.4L780,1035.3L778,1035.3L776,1035.3L774,1035.2L772,1035.2L770,1035.2L768,1035.1L766,1035.1L764,1035.1L762,1035L760,1035L758,1035L756,1035L754,1035L752,1035L750,1035L748,1035L746,1034.9L744,1034.9L742,1034.9L740,1034.9L738,1034.9L736,1034.9L734,1034.9L732,1034.9L730,1034.9L728,1034.9L726,1034.9L724,1034.9L722,1034.9L720,1034.9L718,1034.8L716,1034.8L714,1034.8L712,1034.8L710,1034.8L708,1034.8L706,1034.8L704,1034.8L702,1034.8L700,1034.8L698,1034.8L696,1034.8L694,1034.8L692,1034.7L690,1034.7L688,1034.7L686,1034.7L684,1034.7L682,1034.7L680,1034.7L678,1034.7L676,1034.7L674,1034.7L672,1034.7L670,1034.7L668,1034.7L666,1034.7L664,1034.6L662,1034.6L660,1034.6L658,1034.6L656,1034.6L654,1034.6L652,1034.6L650,1034.6L648,1034.6L646,1034.6L644,1034.6L642,1034.6L640,1034.6L638,1034.5L636,1034.5L634,1034.5L632,1034.5L630,1034.5L628,1034.5L626,1034.5L624,1034.5L622,1034.4L620,1034.3L618,1034.3L616,1034.2L614,1034.1L612,1034.1L610,1034L608,1033.9L606,1033.9L604,1033.8L602,1033.7L600,1033.7L598,1033.6L596,1033.6L594,1033.5L592,1033.4L590,1033.4L588,1033.3L586,1033.2L584,1033.2L582,1033.1L580,1033L578,1033L576,1032.9L574,1032.8L572,1032.8L570,1032.7L568,1032.6L566,1032.6L564,1032.5L562,1032.4L560,1032.4L558,1032.3L556,1032.2L554,1032.2L552,1032.1L550,1032.1L548,1032L546,1031.9L544,1031.9L542,1031.8L540,1031.7L538,1031.7L536,1031.6L534,1031.5L532,1031.5L530,1031.4L528,1031.3L526,1031.2L524,1031.1L522,1031L520,1030.9Z" fill="#c8f2da" fill-opacity="0.5"/>
<path d="M520,1027.1L522,1027.2L524,1027.3L526,1027.3L528,1027.4L530,1027.5L532,1027.5L534,1027.5L536,1027.6L538,1027.6L540,1027.7L542,1027.7L544,1027.7L546,1027.8L548,1027.8L550,1027.9L552,1027.9L554,1028L556,1028L558,1028L560,1028.1L562,1028.1L564,1028.1L566,1028.2L568,1028.2L570,1028.3L572,1028.3L574,1028.3L576,1028.4L578,1028.4L580,1028.5L582,1028.5L584,1028.5L586,1028.6L588,1028.6L590,1028.6L592,1028.7L594,1028.7L596,1028.7L598,1028.8L600,1028.8L602,1028.8L604,1028.9L606,1028.9L608,1028.9L610,1029L612,1029L614,1029L616,1029.1L618,1029.1L620,1029.1L622,1029.2L624,1029.2L626,1029.2L628,1029.2L630,1029.2L632,1029.1L634,1029.1L636,1029.1L638,1029.1L640,1029L642,1029L644,1029L646,1028.9L648,1028.9L650,1028.9L652,1028.9L654,1028.8L656,1028.8L658,1028.8L660,1028.7L662,1028.7L664,1028.7L666,1028.7L668,1028.6L670,1028.6L672,1028.6L674,1028.5L676,1028.5L678,1028.5L680,1028.4L682,1028.4L684,1028.4L686,1028.3L688,1028.3L690,1028.3L692,1028.2L694,1028.2L696,1028.1L698,1028.1L700,1028.1L702,1028L704,1028L706,1028L708,1027.9L710,1027.9L712,1027.8L714,1027.8L716,1027.8L718,1027.7L720,1027.7L722,1027.6L724,1027.6L726,1027.5L728,1027.5L730,1027.4L732,1027.4L734,1027.4L736,1027.3L738,1027.3L740,1027.2L742,1027.2L744,1027.1L746,1027.1L748,1027L750,1027L752,1026.9L754,1026.9L756,1026.8L758,1026.7L760,1026.7L762,1026.7L764,1026.6L766,1026.6L768,1026.6L770,1026.5L772,1026.5L774,1026.5L776,1026.4L778,1026.4L780,1026.4L782,1026.3L784,1026.3L786,1026.2L788,1026.2L790,1026.1L792,1026.1L794,1026.1L796,1026L798,1026L800,1025.9L802,1025.9L804,1025.8L806,1025.8L808,1025.7L810,1025.7L812,1025.6L814,1025.6L816,1025.5L818,1025.5L820,1025.4L822,1025.3L824,1025.2L826,1025.1L828,1025L830,1024.8L832,1024.7L834,1024.6L836,1024.5L838,1024.4L840,1024.3L842,1024.1L844,1024L846,1023.9L848,1023.8L850,1023.6L852,1023.5L854,1023.4L856,1023.3L858,1023.1L860,1023L862,1022.9L864,1022.7L866,1022.6L868,1022.4L870,1022.3L872,1022.2L874,1022L876,1021.9L878,1021.7L880,1021.6L882,1021.4L884,1021.3L886,1021.1L888,1021L890,1020.8L892,1020.6L894,1020.5L896,1020.3L898,1020.2L900,1020L902,1019.8L904,1019.6L906,1019.5L908,1019.3L910,1019.1L912,1018.9L914,1018.7L916,1018.6L918,1018.4L920,1018.2L922,1018L924,1017.8L926,1017.6L928,1017.4L930,1017.2L932,1017L934,1016.8L936,1016.5L938,1016.3L940,1016.1L942,1015.9L944,1015.7L946,1015.4L948,1015.2L950,1015L952,1014.7L954,1014.5L956,1014.2L958,1014L960,1013.7L962,1013.5L964,1013.2L966,1012.9L968,1012.7L970,1012.4L972,1012.1L974,1011.8L976,1011.5L978,1011.2L980,1010.9L982,1010.6L984,1010.3L986,1010L988,1009.7L990,1009.4L992,1009L994,1008.7L996,1008.4L998,1008L1000,1007.7L1002,1007.3L1004,1006.9L1006,1006.6L1008,1006.2L1010,1005.8L1012,1005.4L1014,1005L1016,1004.6L1018,1004.2L1020,1003.8L1022,1003.4L1024,1002.9L1026,1002.5L1028,1002L1030,1001.6L1032,1001.1L1034,1000.6L1036,1000.1L1038,999.6L1040,999.1L1042,998.6L1044,998L1046,997.5L1048,996.9L1050,996.4L1052,995.8L1054,995.2L1056,994.6L1058,994L1060,993.4L1062,992.7L1064,992L1066,991.4L1068,990.7L1070,990L1072,989.3L1074,988.5L1076,987.8L1078,987L1080,986.2L1082,985.4L1084,984.6L1086,983.7L1088,982.8L1090,981.9L1092,981L1094,980.1L1096,979.1L1098,978.1L1100,977.1L1102,976.1L1104,975L1106,973.9L1108,972.8L1110,971.7L1112,970.5L1114,969.3L1116,968L1118,966.7L1120,965.4L1122,964.1L1124,962.7L1126,961.2L1128,959.7L1130,958.2L1132,956.6L1134,955L1136,953.4L1138,951.6L1140,949.8L1142,948L1144,946.1L1146,944.1L1148,942L1150,939.9L1152,937.7L1154,935.3L1156,932.9L1158,930.4L1160,927.8L1162,925L1164,922.1L1166,919L1168,915.8L1170,912.4L1172,908.9L1174,905.1L1176,901L1178,896.8L1180,892.3L1182,887.4L1184,882.3L1186,876.9L1188,871.1L1190,864.9L1192,858.4L1194,851.4L1196,844L1198,836.2L1200,827.9L1202,819.2L1204,809.9L1206,800.2L1208,790L1210,779.2L1212,768L1214,756.3L1216,744.1L1218,731.4L1220,718.2L1222,704.7L1224,690.7L1226,676.3L1228,661.6L1230,646.5L1232,631.2L1234,615.6L1236,599.9L1238,583.9L1240,567.9L1242,551.9L1244,535.9L1246,520L1248,504.3L1250,488.9L1252,473.8L1254,459.2L1256,445.2L1258,431.9L1260,419.4L1262,407.9L1264,397.4L1266,388.2L1268,380.3L1270,373.8L1272,368.9L1274,365.7L1276,364.2L1278,364.4L1280,366.4L1282,370.1L1284,375.6L1286,382.7L1288,391.3L1290,401.3L1292,412.5L1294,424.8L1296,438.1L1298,452.1L1300,466.8L1302,482.1L1304,497.8L1306,513.8L1308,530L1310,546.4L1312,562.9L1314,579.3L1316,595.7L1318,611.9L1320,628L1322,643.8L1324,659.3L1326,674.4L1328,689.2L1330,703.6L1332,717.6L1334,731.1L1336,744.1L1338,756.6L1340,768.6L1342,780.1L1344,791.1L1346,801.5L1348,811.4L1350,820.8L1352,829.7L1354,838L1356,845.9L1358,853.4L1360,860.4L1362,866.9L1364,873.1L1366,878.9L1368,884.3L1370,889.4L1372,894.2L1374,898.7L1376,902.9L1378,906.9L1380,910.6L1382,914.2L1384,917.5L1386,920.7L1388,923.7L1390,926.5L1392,929.3L1394,931.9L1396,934.4L1398,936.7L1400,939L1402,941.2L1404,943.3L1406,945.3L1408,947.3L1410,949.2L1412,951L1414,952.7L1416,954.4L1418,956.1L1420,957.7L1422,959.2L1424,960.7L1426,962.1L1428,963.5L1430,964.9L1432,966.2L1434,967.5L1436,968.8L1438,970L1440,971.2L1442,972.3L1444,973.4L1446,974.5L1448,975.6L1450,976.6L1452,977.6L1454,978.6L1456,979.5L1458,980.5L1460,981.4L1462,982.2L1464,983.1L1466,983.9L1468,984.7L1470,985.5L1472,986.3L1474,987.1L1476,987.8L1478,988.5L1480,989.2L1482,989.9L1484,990.6L1486,991.3L1488,991.9L1490,992.5L1492,993.1L1494,993.7L1496,994.3L1498,994.9L1500,995.5L1502,996L1504,996.5L1506,997.1L1508,997.6L1510,998.1L1512,998.6L1514,999L1516,999.5L1518,1000L1520,1000.4L1522,1000.9L1524,1001.3L1526,1001.7L1528,1002.1L1530,1002.5L1532,1002.9L1534,1003.3L1536,1003.7L1538,1004.1L1540,1004.4L1542,1004.8L1544,1005.2L1546,1005.6L1548,1006L1550,1006.4L1552,1006.8L1554,1007.1L1556,1007.5L1558,1007.9L1560,1008.2L1562,1008.6L1564,1008.9L1566,1009.2L1568,1009.6L1570,1009.9L1572,1010.2L1574,1010.5L1576,1010.8L1578,1011.1L1580,1011.4L1582,1011.7L1584,1012L1586,1012.3L1588,1012.6L1590,1012.9L1592,1013.2L1594,1013.4L1596,1013.7L1598,1014L1600,1014.2L1602,1014.5L1604,1014.7L1606,1015L1608,1015.2L1610,1015.5L1612,1015.7L1614,1016L1616,1016.2L1618,1016.5L1620,1016.7L1622,1016.9L1624,1017.1L1626,1017.3L1628,1017.5L1630,1017.6L1632,1017.8L1634,1018L1636,1018.2L1638,1018.4L1640,1018.5L1642,1018.7L1644,1018.9L1646,1019L1648,1019.2L1650,1019.4L1652,1019.5L1654,1019.7L1656,1019.8L1658,1020L1660,1020.1L1662,1020.3L1664,1020.4L1666,1020.6L1668,1020.7L1670,1020.9L1672,1021L1674,1021.2L1676,1021.3L1678,1021.4L1680,1021.6L1682,1021.7L1684,1021.8L1686,1022L1688,1022.1L1690,1022.2L1692,1022.3L1694,1022.5L1696,1022.6L1698,1022.7L1700,1022.8L1702,1022.9L1704,1023.1L1706,1023.2L1708,1023.3L1710,1023.4L1712,1023.5L1714,1023.6L1716,1023.7L1718,1023.8L1720,1023.9L1722,1024L1724,1024.2L1726,1024.3L1728,1024.4L1730,1024.5L1732,1024.6L1734,1024.7L1736,1024.8L1738,1024.9L1740,1025L1742,1025.1L1744,1025.1L1746,1025.2L1748,1025.3L1750,1025.4L1752,1025.5L1754,1025.6L1756,1025.7L1758,1025.8L1760,1025.9L1762,1026L1764,1026.1L1766,1026.2L1768,1026.3L1770,1026.3L1772,1026.4L1774,1026.5L1776,1026.6L1778,1026.7L1780,1026.8L1782,1026.8L1784,1026.9L1786,1027L1788,1027.1L1790,1027.2L1792,1027.2L1794,1027.3L1796,1027.4L1798,1027.5L1800,1027.6L1802,1027.6L1804,1027.7L1806,1027.8L1808,1027.9L1810,1027.9L1812,1028L1814,1028.1L1816,1028.2L1818,1028.2L1820,1028.3L1822,1028.4L1824,1028.4L1826,1028.5L1828,1028.6L1830,1028.6L1832,1028.7L1834,1028.8L1836,1028.8L1838,1028.9L1840,1029L1842,1029L1844,1029.1L1846,1029.2L1848,1029.2L1850,1029.3L1852,1029.3L1854,1029.4L1856,1029.4L1858,1029.5L1860,1029.5L1862,1029.6L1864,1029.6L1866,1029.6L1868,1029.7L1870,1029.7L1872,1029.8L1874,1029.8L1876,1029.8L1878,1029.9L1880,1029.9L1882,1030L1884,1030L1886,1030L1888,1030.1L1890,1030.1L1892,1030.2L1894,1030.2L1896,1030.2L1898,1030.3L1900,1030.3L1902,1030.3L1904,1030.4L1906,1030.4L1908,1030.4L1910,1030.5L1912,1030.5L1914,1030.5L1916,1030.6L1918,1030.6L1920,1030.6L1922,1030.7L1924,1030.7L1926,1030.7L1928,1030.8L1930,1030.8L1932,1030.8L1934,1030.9L1936,1030.9L1938,1030.9L1940,1030.9L1942,1031L1944,1031L1946,1031L1948,1031.1L1950,1031.1L1952,1031.1L1954,1031.1L1956,1031.2L1958,1031.2L1960,1031.2L1962,1031.3L1964,1031.3L1966,1031.3L1968,1031.3L1970,1031.4L1972,1031.4L1974,1031.4L1976,1031.4L1978,1031.5L1980,1031.5L1982,1031.5L1984,1031.5L1986,1031.6L1988,1031.6L1990,1031.6L1992,1031.6L1994,1031.7L1996,1031.7L1998,1031.7L2000,1031.7L2002,1031.8L2004,1031.8L2006,1031.8L2008,1031.8L2010,1031.8L2012,1031.9L2014,1031.9L2016,1031.9L2018,1031.9L2020,1032L2022,1032L2024,1032L2026,1032L2028,1032L2030,1032.1L2032,1032.1L2034,1032.1L2036,1032.1L2038,1032.1L2040,1032.2L2042,1032.2L2044,1032.2L2046,1032.2L2048,1032.2L2050,1032.3L2052,1032.3L2054,1032.3L2056,1032.3L2058,1032.3L2060,1032.4L2062,1032.4L2064,1032.4L2066,1032.4L2068,1032.4L2070,1032.4L2072,1032.5L2074,1032.5L2076,1032.5L2078,1032.5L2080,1032.5L2082,1032.6L2084,1032.6L2086,1032.6L2088,1032.6L2090,1032.6L2092,1032.6L2094,1032.7L2096,1032.7L2098,1032.7L2100,1032.7L2102,1032.7L2104,1032.7L2106,1032.8L2108,1032.8L2110,1032.8L2112,1032.8L2114,1032.8L2116,1032.8L2118,1032.8L2120,1032.9L2122,1032.9L2124,1032.9L2126,1032.9L2128,1032.9L2130,1032.9L2132,1032.9L2134,1033L2136,1033L2138,1033L2140,1033L2142,1033L2144,1033L2146,1033L2148,1033.1L2150,1033.1L2152,1033.1L2154,1033.1L2156,1033.1L2158,1033.1L2160,1033.1L2162,1033.2L2164,1033.2L2166,1033.2L2168,1033.2L2170,1033.2L2172,1033.2L2174,1033.2L2176,1033.2L2178,1033.3L2180,1033.3L2182,1033.3L2184,1033.3L2186,1033.3L2188,1033.3L2190,1033.3L2192,1033.3L2194,1033.4L2196,1033.4L2198,1033.4L2200,1033.4L2202,1033.4L2204,1033.4L2206,1033.4L2208,1033.4L2210,1033.5L2212,1033.5L2214,1033.5L2216,1033.5L2218,1033.5L2220,1033.5L2222,1033.5L2224,1033.5L2226,1033.5L2228,1033.6L2230,1033.6L2232,1033.6L2234,1033.6L2236,1033.6L2238,1033.6L2240,1033.6L2242,1033.6L2244,1033.6L2246,1033.6L2248,1033.7L2250,1033.7L2252,1033.7L2254,1033.7L2256,1033.7L2258,1033.7L2260,1033.7L2262,1033.7L2264,1033.7L2266,1033.7L2268,1033.8L2270,1033.8L2272,1033.8L2274,1033.8L2276,1033.8L2278,1033.8L2280,1033.8L2282,1033.8L2284,1033.8L2286,1033.8L2288,1033.9L2290,1033.9L2292,1033.9L2294,1033.9L2296,1033.9L2298,1033.9L2300,1033.9L2302,1033.9L2304,1033.9L2306,1033.9L2308,1033.9L2310,1034L2310,1036L2308,1036L2306,1036L2304,1036L2302,1036L2300,1036L2298,1036L2296,1036L2294,1036L2292,1036L2290,1036L2288,1036L2286,1036L2284,1036L2282,1036L2280,1036L2278,1036L2276,1036L2274,1036L2272,1036L2270,1036L2268,1036L2266,1036L2264,1036L2262,1036L2260,1036L2258,1036L2256,1036L2254,1036L2252,1036L2250,1036L2248,1036L2246,1036L2244,1036L2242,1036L2240,1036L2238,1036L2236,1036L2234,1036L2232,1036L2230,1036L2228,1036L2226,1036L2224,1036L2222,1036L2220,1036L2218,1036L2216,1036L2214,1036L2212,1036L2210,1036L2208,1036L2206,1036L2204,1036L2202,1036L2200,1036L2198,1036L2196,1035.9L2194,1035.9L2192,1035.9L2190,1035.9L2188,1035.9L2186,1035.9L2184,1035.9L2182,1035.9L2180,1035.9L2178,1035.9L2176,1035.9L2174,1035.9L2172,1035.9L2170,1035.9L2168,1035.9L2166,1035.9L2164,1035.9L2162,1035.9L2160,1035.9L2158,1035.9L2156,1035.9L2154,1035.9L2152,1035.9L2150,1035.9L2148,1035.9L2146,1035.9L2144,1035.9L2142,1035.9L2140,1035.9L2138,1035.9L2136,1035.9L2134,1035.9L2132,1035.9L2130,1035.9L2128,1035.9L2126,1035.9L2124,1035.9L2122,1035.9L2120,1035.9L2118,1035.9L2116,1035.9L2114,1035.9L2112,1035.9L2110,1035.9L2108,1035.9L2106,1035.9L2104,1035.9L2102,1035.9L2100,1035.9L2098,1035.9L2096,1035.9L2094,1035.9L2092,1035.9L2090,1035.9L2088,1035.9L2086,1035.9L2084,1035.9L2082,1035.9L2080,1035.9L2078,1035.9L2076,1035.9L2074,1035.9L2072,1035.9L2070,1035.9L2068,1035.9L2066,1035.9L2064,1035.9L2062,1035.9L2060,1035.9L2058,1035.9L2056,1035.9L2054,1035.9L2052,1035.9L2050,1035.9L2048,1035.9L2046,1035.9L2044,1035.9L2042,1035.9L2040,1035.9L2038,1035.9L2036,1035.9L2034,1035.9L2032,1035.9L2030,1035.9L2028,1035.9L2026,1035.9L2024,1035.9L2022,1035.9L2020,1035.9L2018,1035.9L2016,1035.9L2014,1035.9L2012,1035.9L2010,1035.9L2008,1035.9L2006,1035.9L2004,1035.9L2002,1035.9L2000,1035.9L1998,1035.9L1996,1035.9L1994,1035.9L1992,1035.9L1990,1035.9L1988,1035.9L1986,1035.9L1984,1035.9L1982,1035.9L1980,1035.9L1978,1035.9L1976,1035.9L1974,1035.9L1972,1035.9L1970,1035.9L1968,1035.9L1966,1035.9L1964,1035.8L1962,1035.8L1960,1035.8L1958,1035.8L1956,1035.8L1954,1035.8L1952,1035.8L1950,1035.8L1948,1035.8L1946,1035.8L1944,1035.8L1942,1035.8L1940,1035.8L1938,1035.8L1936,1035.8L1934,1035.8L1932,1035.8L1930,1035.8L1928,1035.8L1926,1035.8L1924,1035.8L1922,1035.8L1920,1035.8L1918,1035.8L1916,1035.8L1914,1035.8L1912,1035.8L1910,1035.8L1908,1035.8L1906,1035.8L1904,1035.8L1902,1035.8L1900,1035.8L1898,1035.8L1896,1035.8L1894,1035.8L1892,1035.8L1890,1035.8L1888,1035.8L1886,1035.8L1884,1035.8L1882,1035.8L1880,1035.8L1878,1035.8L1876,1035.8L1874,1035.8L1872,1035.8L1870,1035.8L1868,1035.8L1866,1035.8L1864,1035.8L1862,1035.8L1860,1035.8L1858,1035.8L1856,1035.8L1854,1035.8L1852,1035.8L1850,1035.8L1848,1035.8L1846,1035.8L1844,1035.7L1842,1035.7L1840,1035.7L1838,1035.7L1836,1035.7L1834,1035.6L1832,1035.6L1830,1035.6L1828,1035.6L1826,1035.5L1824,1035.5L1822,1035.5L1820,1035.5L1818,1035.5L1816,1035.4L1814,1035.4L1812,1035.4L1810,1035.4L1808,1035.4L1806,1035.3L1804,1035.3L1802,1035.3L1800,1035.3L1798,1035.3L1796,1035.2L1794,1035.2L1792,1035.2L1790,1035.2L1788,1035.2L1786,1035.1L1784,1035.1L1782,1035.1L1780,1035.1L1778,1035L1776,1035L1774,1035L1772,1035L1770,1035L1768,1034.9L1766,1034.9L1764,1034.9L1762,1034.9L1760,1034.9L1758,1034.8L1756,1034.8L1754,1034.8L1752,1034.8L1750,1034.8L1748,1034.7L1746,1034.7L1744,1034.7L1742,1034.7L1740,1034.7L1738,1034.6L1736,1034.6L1734,1034.6L1732,1034.6L1730,1034.6L1728,1034.6L1726,1034.5L1724,1034.5L1722,1034.5L1720,1034.5L1718,1034.5L1716,1034.4L1714,1034.4L1712,1034.4L1710,1034.4L1708,1034.4L1706,1034.4L1704,1034.3L1702,1034.3L1700,1034.3L1698,1034.3L1696,1034.3L1694,1034.3L1692,1034.2L1690,1034.2L1688,1034.2L1686,1034.2L1684,1034.2L1682,1034.1L1680,1034.1L1678,1034.1L1676,1034.1L1674,1034.1L1672,1034.1L1670,1034L1668,1034L1666,1034L1664,1034L1662,1034L1660,1034L1658,1033.9L1656,1033.9L1654,1033.9L1652,1033.9L1650,1033.9L1648,1033.8L1646,1033.8L1644,1033.8L1642,1033.8L1640,1033.8L1638,1033.8L1636,1033.7L1634,1033.7L1632,1033.7L1630,1033.7L1628,1033.7L1626,1033.7L1624,1033.6L1622,1033.6L1620,1033.6L1618,1033.5L1616,1033.5L1614,1033.4L1612,1033.4L1610,1033.3L1608,1033.3L1606,1033.2L1604,1033.2L1602,1033.1L1600,1033L1598,1033L1596,1032.9L1594,1032.9L1592,1032.8L1590,1032.8L1588,1032.7L1586,1032.7L1584,1032.6L1582,1032.6L1580,1032.5L1578,1032.4L1576,1032.4L1574,1032.3L1572,1032.3L1570,1032.2L1568,1032.2L1566,1032.1L1564,1032.1L1562,1032L1560,1032L1558,1031.9L1556,1031.8L1554,1031.8L1552,1031.7L1550,1031.7L1548,1031.6L1546,1031.6L1544,1031.5L1542,1031.5L1540,1031.4L1538,1031.4L1536,1031.4L1534,1031.4L1532,1031.4L1530,1031.4L1528,1031.4L1526,1031.4L1524,1031.4L1522,1031.4L1520,1031.4L1518,1031.4L1516,1031.4L1514,1031.4L1512,1031.4L1510,1031.4L1508,1031.4L1506,1031.4L1504,1031.4L1502,1031.4L1500,1031.4L1498,1031.4L1496,1031.4L1494,1031.4L1492,1031.4L1490,1031.4L1488,1031.4L1486,1031.4L1484,1031.4L1482,1031.4L1480,1031.4L1478,1031.4L1476,1031.4L1474,1031.4L1472,1031.4L1470,1031.4L1468,1031.4L1466,1031.4L1464,1031.4L1462,1031.4L1460,1031.4L1458,1031.4L1456,1031.4L1454,1031.4L1452,1031.4L1450,1031.4L1448,1031.4L1446,1031.4L1444,1031.4L1442,1031.4L1440,1031.4L1438,1031.4L1436,1031.4L1434,1031.4L1432,1031.4L1430,1031.4L1428,1031.4L1426,1031.4L1424,1031.4L1422,1031.4L1420,1031.5L1418,1031.5L1416,1031.5L1414,1031.5L1412,1031.5L1410,1031.5L1408,1031.5L1406,1031.5L1404,1031.5L1402,1031.5L1400,1031.5L1398,1031.5L1396,1031.5L1394,1031.5L1392,1031.5L1390,1031.5L1388,1031.5L1386,1031.5L1384,1031.5L1382,1031.5L1380,1031.5L1378,1031.5L1376,1031.5L1374,1031.5L1372,1031.5L1370,1031.5L1368,1031.5L1366,1031.5L1364,1031.5L1362,1031.5L1360,1031.5L1358,1031.5L1356,1031.5L1354,1031.5L1352,1031.5L1350,1031.5L1348,1031.5L1346,1031.5L1344,1031.5L1342,1031.5L1340,1031.5L1338,1031.5L1336,1031.5L1334,1031.5L1332,1031.5L1330,1031.5L1328,1031.5L1326,1031.5L1324,1031.5L1322,1031.5L1320,1031.5L1318,1031.5L1316,1031.5L1314,1031.5L1312,1031.5L1310,1031.5L1308,1031.5L1306,1031.5L1304,1031.5L1302,1031.5L1300,1031.5L1298,1031.5L1296,1031.5L1294,1031.5L1292,1031.6L1290,1031.6L1288,1031.6L1286,1031.6L1284,1031.6L1282,1031.6L1280,1031.6L1278,1031.7L1276,1031.7L1274,1031.7L1272,1031.7L1270,1031.7L1268,1031.7L1266,1031.7L1264,1031.8L1262,1031.8L1260,1031.8L1258,1031.8L1256,1031.8L1254,1031.8L1252,1031.8L1250,1031.9L1248,1031.9L1246,1031.9L1244,1031.9L1242,1031.9L1240,1031.9L1238,1031.9L1236,1032L1234,1032L1232,1032L1230,1032L1228,1032L1226,1032L1224,1032L1222,1032.1L1220,1032.1L1218,1032.1L1216,1032.1L1214,1032.1L1212,1032.1L1210,1032.1L1208,1032.2L1206,1032.2L1204,1032.2L1202,1032.2L1200,1032.2L1198,1032.2L1196,1032.2L1194,1032.3L1192,1032.3L1190,1032.3L1188,1032.3L1186,1032.3L1184,1032.3L1182,1032.3L1180,1032.4L1178,1032.4L1176,1032.4L1174,1032.4L1172,1032.4L1170,1032.4L1168,1032.4L1166,1032.5L1164,1032.5L1162,1032.5L1160,1032.5L1158,1032.5L1156,1032.5L1154,1032.6L1152,1032.6L1150,1032.6L1148,1032.6L1146,1032.6L1144,1032.7L1142,1032.7L1140,1032.7L1138,1032.7L1136,1032.7L1134,1032.7L1132,1032.8L1130,1032.8L1128,1032.8L1126,1032.8L1124,1032.8L1122,1032.9L1120,1032.9L1118,1032.9L1116,1032.9L1114,1032.9L1112,1033L1110,1033L1108,1033L1106,1033L1104,1033L1102,1033L1100,1033.1L1098,1033.1L1096,1033.1L1094,1033.1L1092,1033.1L1090,1033.2L1088,1033.2L1086,1033.2L1084,1033.2L1082,1033.2L1080,1033.2L1078,1033.3L1076,1033.3L1074,1033.3L1072,1033.3L1070,1033.3L1068,1033.4L1066,1033.4L1064,1033.4L1062,1033.4L1060,1033.4L1058,1033.5L1056,1033.5L1054,1033.5L1052,1033.5L1050,1033.5L1048,1033.5L1046,1033.6L1044,1033.6L1042,1033.6L1040,1033.6L1038,1033.6L1036,1033.7L1034,1033.7L1032,1033.7L1030,1033.7L1028,1033.7L1026,1033.8L1024,1033.8L1022,1033.8L1020,1033.8L1018,1033.8L1016,1033.8L1014,1033.9L1012,1033.9L1010,1033.9L1008,1033.9L1006,1033.9L1004,1034L1002,1034L1000,1034L998,1034L996,1034L994,1034.1L992,1034.1L990,1034.1L988,1034.1L986,1034.2L984,1034.2L982,1034.2L980,1034.2L978,1034.2L976,1034.3L974,1034.3L972,1034.3L970,1034.3L968,1034.4L966,1034.4L964,1034.4L962,1034.4L960,1034.4L958,1034.5L956,1034.5L954,1034.5L952,1034.5L950,1034.6L948,1034.6L946,1034.6L944,1034.6L942,1034.6L940,1034.7L938,1034.7L936,1034.7L934,1034.7L932,1034.8L930,1034.8L928,1034.8L926,1034.8L924,1034.8L922,1034.9L920,1034.9L918,1034.9L916,1034.9L914,1035L912,1035L910,1035L908,1035L906,1035L904,1035.1L902,1035.1L900,1035.1L898,1035.1L896,1035.2L894,1035.2L892,1035.2L890,1035.2L888,1035.2L886,1035.3L884,1035.3L882,1035.3L880,1035.3L878,1035.4L876,1035.4L874,1035.4L872,1035.4L870,1035.4L868,1035.5L866,1035.5L864,1035.5L862,1035.5L860,1035.6L858,1035.6L856,1035.6L854,1035.6L852,1035.6L850,1035.7L848,1035.7L846,1035.7L844,1035.7L842,1035.8L840,1035.8L838,1035.8L836,1035.8L834,1035.8L832,1035.9L830,1035.9L828,1035.9L826,1035.9L824,1036L822,1036L820,1036L818,1036L816,1035.9L814,1035.9L812,1035.9L810,1035.8L808,1035.8L806,1035.8L804,1035.7L802,1035.7L800,1035.7L798,1035.6L796,1035.6L794,1035.6L792,1035.5L790,1035.5L788,1035.5L786,1035.4L784,1035.4L782,1035.4L780,1035.3L778,1035.3L776,1035.3L774,1035.2L772,1035.2L770,1035.2L768,1035.1L766,1035.1L764,1035.1L762,1035L760,1035L758,1035L756,1035L754,1035L752,1035L750,1035L748,1035L746,1034.9L744,1034.9L742,1034.9L740,1034.9L738,1034.9L736,1034.9L734,1034.9L732,1034.9L730,1034.9L728,1034.9L726,1034.9L724,1034.9L722,1034.9L720,1034.9L718,1034.8L716,1034.8L714,1034.8L712,1034.8L710,1034.8L708,1034.8L706,1034.8L704,1034.8L702,1034.8L700,1034.8L698,1034.8L696,1034.8L694,1034.8L692,1034.7L690,1034.7L688,1034.7L686,1034.7L684,1034.7L682,1034.7L680,1034.7L678,1034.7L676,1034.7L674,1034.7L672,1034.7L670,1034.7L668,1034.7L666,1034.7L664,1034.6L662,1034.6L660,1034.6L658,1034.6L656,1034.6L654,1034.6L652,1034.6L650,1034.6L648,1034.6L646,1034.6L644,1034.6L642,1034.6L640,1034.6L638,1034.5L636,1034.5L634,1034.5L632,1034.5L630,1034.5L628,1034.5L626,1034.5L624,1034.5L622,1034.4L620,1034.3L618,1034.3L616,1034.2L614,1034.1L612,1034.1L610,1034L608,1033.9L606,1033.9L604,1033.8L602,1033.7L600,1033.7L598,1033.6L596,1033.6L594,1033.5L592,1033.4L590,1033.4L588,1033.3L586,1033.2L584,1033.2L582,1033.1L580,1033L578,1033L576,1032.9L574,1032.8L572,1032.8L570,1032.7L568,1032.6L566,1032.6L564,1032.5L562,1032.4L560,1032.4L558,1032.3L556,1032.2L554,1032.2L552,1032.1L550,1032.1L548,1032L546,1031.9L544,1031.9L542,1031.8L540,1031.7L538,1031.7L536,1031.6L534,1031.5L532,1031.5L530,1031.4L528,1031.3L526,1031.2L524,1031.1L522,1031L520,1030.9Z" fill="url(#pg)"/>
<path d="M1230,1030.6L1231,1030.3L1232,1030L1233,1029.7L1234,1029.3L1235,1028.9L1236,1028.4L1237,1027.9L1238,1027.3L1239,1026.6L1240,1025.8L1241,1024.9L1242,1023.9L1243,1022.7L1244,1021.5L1245,1020L1246,1018.5L1247,1016.7L1248,1014.8L1249,1012.6L1250,1010.3L1251,1007.7L1252,1004.8L1253,1001.7L1254,998.3L1255,994.7L1256,990.7L1257,986.5L1258,981.9L1259,976.9L1260,971.7L1261,966.1L1262,960.1L1263,953.8L1264,947.1L1265,940.1L1266,932.6L1267,924.8L1268,916.7L1269,908.1L1270,899.2L1271,889.9L1272,880.3L1273,870.3L1274,859.9L1275,849.2L1276,838.1L1277,826.7L1278,815L1279,803L1280,790.6L1281,778L1282,765.1L1283,751.9L1284,738.4L1285,724.8L1286,710.9L1287,696.7L1288,682.5L1289,668L1290,653.4L1291,638.6L1292,623.8L1293,608.9L1294,593.9L1295,578.9L1296,563.8L1297,548.8L1298,533.8L1299,518.9L1300,504L1301,489.3L1302,474.8L1303,460.3L1304,446.1L1305,432.2L1306,418.4L1307,405L1308,391.8L1309,379L1310,366.6L1311,354.5L1312,342.8L1313,331.6L1314,320.8L1315,310.6L1316,300.8L1317,291.5L1318,282.8L1319,274.7L1320,267.2L1321,260.2L1322,253.9L1323,248.2L1324,243.1L1325,238.7L1326,235L1327,231.9L1328,229.6L1329,227.9L1330,226.9L1331,226.6L1332,227L1333,228.1L1334,229.9L1335,232.3L1336,235.5L1337,239.3L1338,243.8L1339,248.9L1340,254.7L1341,261.2L1342,268.2L1343,275.8L1344,284.1L1345,292.8L1346,302.2L1347,312L1348,322.4L1349,333.2L1350,344.5L1351,356.2L1352,368.3L1353,380.8L1354,393.7L1355,406.9L1356,420.4L1357,434.2L1358,448.2L1359,462.4L1360,476.8L1361,491.4L1362,506.2L1363,521L1364,536L1365,551L1366,566L1367,581L1368,596L1369,611L1370,625.9L1371,640.8L1372,655.5L1373,670.1L1374,684.5L1375,698.8L1376,712.8L1377,726.7L1378,740.4L1379,753.8L1380,766.9L1381,779.8L1382,792.4L1383,804.7L1384,816.7L1385,828.3L1386,839.7L1387,850.7L1388,861.3L1389,871.7L1390,881.6L1391,891.2L1392,900.4L1393,909.3L1394,917.8L1395,925.9L1396,933.6L1397,941L1398,947.9L1399,954.6L1400,960.8L1401,966.7L1402,972.3L1403,977.5L1404,982.3L1405,986.8L1406,991.1L1407,995L1408,998.6L1409,1001.9L1410,1004.9L1411,1007.7L1412,1010.3L1413,1012.6L1414,1014.7L1415,1016.6L1416,1018.3L1417,1019.8L1418,1021.2L1419,1022.5L1420,1023.6L1421,1024.6L1422,1025.4L1423,1026.2L1424,1026.9L1425,1027.5L1426,1028L1427,1028.5L1428,1028.9L1429,1029.2L1430,1029.5L1430,1031.4L1429,1031.4L1428,1031.4L1427,1031.4L1426,1031.4L1425,1031.4L1424,1031.4L1423,1031.4L1422,1031.4L1421,1031.4L1420,1031.5L1419,1031.5L1418,1031.5L1417,1031.5L1416,1031.5L1415,1031.5L1414,1031.5L1413,1031.5L1412,1031.5L1411,1031.5L1410,1031.5L1409,1031.5L1408,1031.5L1407,1031.5L1406,1031.5L1405,1031.5L1404,1031.5L1403,1031.5L1402,1031.5L1401,1031.5L1400,1031.5L1399,1031.5L1398,1031.5L1397,1031.5L1396,1031.5L1395,1031.5L1394,1031.5L1393,1031.5L1392,1031.5L1391,1031.5L1390,1031.5L1389,1031.5L1388,1031.5L1387,1031.5L1386,1031.5L1385,1031.5L1384,1031.5L1383,1031.5L1382,1031.5L1381,1031.5L1380,1031.5L1379,1031.5L1378,1031.5L1377,1031.5L1376,1031.5L1375,1031.5L1374,1031.5L1373,1031.5L1372,1031.5L1371,1031.5L1370,1031.5L1369,1031.5L1368,1031.5L1367,1031.5L1366,1031.5L1365,1031.5L1364,1031.5L1363,1031.5L1362,1031.5L1361,1031.5L1360,1031.5L1359,1031.5L1358,1031.5L1357,1031.5L1356,1031.5L1355,1031.5L1354,1031.5L1353,1031.5L1352,1031.5L1351,1031.5L1350,1031.5L1349,1031.5L1348,1031.5L1347,1031.5L1346,1031.5L1345,1031.5L1344,1031.5L1343,1031.5L1342,1031.5L1341,1031.5L1340,1031.5L1339,1031.5L1338,1031.5L1337,1031.5L1336,1031.5L1335,1031.5L1334,1031.5L1333,1031.5L1332,1031.5L1331,1031.5L1330,1031.5L1329,1031.5L1328,1031.5L1327,1031.5L1326,1031.5L1325,1031.5L1324,1031.5L1323,1031.5L1322,1031.5L1321,1031.5L1320,1031.5L1319,1031.5L1318,1031.5L1317,1031.5L1316,1031.5L1315,1031.5L1314,1031.5L1313,1031.5L1312,1031.5L1311,1031.5L1310,1031.5L1309,1031.5L1308,1031.5L1307,1031.5L1306,1031.5L1305,1031.5L1304,1031.5L1303,1031.5L1302,1031.5L1301,1031.5L1300,1031.5L1299,1031.5L1298,1031.5L1297,1031.5L1296,1031.5L1295,1031.5L1294,1031.5L1293,1031.5L1292,1031.6L1291,1031.6L1290,1031.6L1289,1031.6L1288,1031.6L1287,1031.6L1286,1031.6L1285,1031.6L1284,1031.6L1283,1031.6L1282,1031.6L1281,1031.6L1280,1031.6L1279,1031.7L1278,1031.7L1277,1031.7L1276,1031.7L1275,1031.7L1274,1031.7L1273,1031.7L1272,1031.7L1271,1031.7L1270,1031.7L1269,1031.7L1268,1031.7L1267,1031.7L1266,1031.7L1265,1031.8L1264,1031.8L1263,1031.8L1262,1031.8L1261,1031.8L1260,1031.8L1259,1031.8L1258,1031.8L1257,1031.8L1256,1031.8L1255,1031.8L1254,1031.8L1253,1031.8L1252,1031.8L1251,1031.8L1250,1031.9L1249,1031.9L1248,1031.9L1247,1031.9L1246,1031.9L1245,1031.9L1244,1031.9L1243,1031.9L1242,1031.9L1241,1031.9L1240,1031.9L1239,1031.9L1238,1031.9L1237,1032L1236,1032L1235,1032L1234,1032L1233,1032L1232,1032L1231,1032L1230,1032Z" fill="url(#py)"/>
<path d="M1230,1030.6L1231,1030.3L1232,1030L1233,1029.7L1234,1029.3L1235,1028.9L1236,1028.4L1237,1027.9L1238,1027.3L1239,1026.6L1240,1025.8L1241,1024.9L1242,1023.9L1243,1022.7L1244,1021.5L1245,1020L1246,1018.5L1247,1016.7L1248,1014.8L1249,1012.6L1250,1010.3L1251,1007.7L1252,1004.8L1253,1001.7L1254,998.3L1255,994.7L1256,990.7L1257,986.5L1258,981.9L1259,976.9L1260,971.7L1261,966.1L1262,960.1L1263,953.8L1264,947.1L1265,940.1L1266,932.6L1267,924.8L1268,916.7L1269,908.1L1270,899.2L1271,889.9L1272,880.3L1273,870.3L1274,859.9L1275,849.2L1276,838.1L1277,826.7L1278,815L1279,803L1280,790.6L1281,778L1282,765.1L1283,751.9L1284,738.4L1285,724.8L1286,710.9L1287,696.7L1288,682.5L1289,668L1290,653.4L1291,638.6L1292,623.8L1293,608.9L1294,593.9L1295,578.9L1296,563.8L1297,548.8L1298,533.8L1299,518.9L1300,504L1301,489.3L1302,482.1L1303,489.9L1304,497.8L1305,505.7L1306,513.8L1307,521.9L1308,530L1309,538.2L1310,546.4L1311,554.7L1312,562.9L1313,571.1L1314,579.3L1315,587.5L1316,595.7L1317,603.9L1318,611.9L1319,620L1320,628L1321,635.9L1322,643.8L1323,651.6L1324,659.3L1325,666.9L1326,674.4L1327,681.9L1328,689.2L1329,696.5L1330,703.6L1331,710.7L1332,717.6L1333,724.4L1334,731.1L1335,737.6L1336,744.1L1337,750.4L1338,756.6L1339,762.7L1340,768.6L1341,774.4L1342,780.1L1343,785.6L1344,791.1L1345,796.3L1346,801.5L1347,806.5L1348,811.4L1349,816.1L1350,820.8L1351,825.3L1352,829.7L1353,833.9L1354,838L1355,842L1356,845.9L1357,849.7L1358,853.4L1359,856.9L1360,860.4L1361,863.7L1362,866.9L1363,870.1L1364,873.1L1365,876L1366,878.9L1367,881.6L1368,884.3L1369,886.9L1370,889.4L1371,891.8L1372,894.2L1373,896.5L1374,898.7L1375,900.8L1376,902.9L1377,904.9L1378,906.9L1379,908.8L1380,910.6L1381,912.4L1382,914.2L1383,915.9L1384,917.5L1385,919.1L1386,920.7L1387,922.2L1388,923.7L1389,925.1L1390,926.5L1391,927.9L1392,929.3L1393,930.6L1394,931.9L1395,933.1L1396,934.4L1397,941L1398,947.9L1399,954.6L1400,960.8L1401,966.7L1402,972.3L1403,977.5L1404,982.3L1405,986.8L1406,991.1L1407,995L1408,998.6L1409,1001.9L1410,1004.9L1411,1007.7L1412,1010.3L1413,1012.6L1414,1014.7L1415,1016.6L1416,1018.3L1417,1019.8L1418,1021.2L1419,1022.5L1420,1023.6L1421,1024.6L1422,1025.4L1423,1026.2L1424,1026.9L1425,1027.5L1426,1028L1427,1028.5L1428,1028.9L1429,1029.2L1430,1029.5L1430,1031.4L1429,1031.4L1428,1031.4L1427,1031.4L1426,1031.4L1425,1031.4L1424,1031.4L1423,1031.4L1422,1031.4L1421,1031.4L1420,1031.5L1419,1031.5L1418,1031.5L1417,1031.5L1416,1031.5L1415,1031.5L1414,1031.5L1413,1031.5L1412,1031.5L1411,1031.5L1410,1031.5L1409,1031.5L1408,1031.5L1407,1031.5L1406,1031.5L1405,1031.5L1404,1031.5L1403,1031.5L1402,1031.5L1401,1031.5L1400,1031.5L1399,1031.5L1398,1031.5L1397,1031.5L1396,1031.5L1395,1031.5L1394,1031.5L1393,1031.5L1392,1031.5L1391,1031.5L1390,1031.5L1389,1031.5L1388,1031.5L1387,1031.5L1386,1031.5L1385,1031.5L1384,1031.5L1383,1031.5L1382,1031.5L1381,1031.5L1380,1031.5L1379,1031.5L1378,1031.5L1377,1031.5L1376,1031.5L1375,1031.5L1374,1031.5L1373,1031.5L1372,1031.5L1371,1031.5L1370,1031.5L1369,1031.5L1368,1031.5L1367,1031.5L1366,1031.5L1365,1031.5L1364,1031.5L1363,1031.5L1362,1031.5L1361,1031.5L1360,1031.5L1359,1031.5L1358,1031.5L1357,1031.5L1356,1031.5L1355,1031.5L1354,1031.5L1353,1031.5L1352,1031.5L1351,1031.5L1350,1031.5L1349,1031.5L1348,1031.5L1347,1031.5L1346,1031.5L1345,1031.5L1344,1031.5L1343,1031.5L1342,1031.5L1341,1031.5L1340,1031.5L1339,1031.5L1338,1031.5L1337,1031.5L1336,1031.5L1335,1031.5L1334,1031.5L1333,1031.5L1332,1031.5L1331,1031.5L1330,1031.5L1329,1031.5L1328,1031.5L1327,1031.5L1326,1031.5L1325,1031.5L1324,1031.5L1323,1031.5L1322,1031.5L1321,1031.5L1320,1031.5L1319,1031.5L1318,1031.5L1317,1031.5L1316,1031.5L1315,1031.5L1314,1031.5L1313,1031.5L1312,1031.5L1311,1031.5L1310,1031.5L1309,1031.5L1308,1031.5L1307,1031.5L1306,1031.5L1305,1031.5L1304,1031.5L1303,1031.5L1302,1031.5L1301,1031.5L1300,1031.5L1299,1031.5L1298,1031.5L1297,1031.5L1296,1031.5L1295,1031.5L1294,1031.5L1293,1031.5L1292,1031.6L1291,1031.6L1290,1031.6L1289,1031.6L1288,1031.6L1287,1031.6L1286,1031.6L1285,1031.6L1284,1031.6L1283,1031.6L1282,1031.6L1281,1031.6L1280,1031.6L1279,1031.7L1278,1031.7L1277,1031.7L1276,1031.7L1275,1031.7L1274,1031.7L1273,1031.7L1272,1031.7L1271,1031.7L1270,1031.7L1269,1031.7L1268,1031.7L1267,1031.7L1266,1031.7L1265,1031.8L1264,1031.8L1263,1031.8L1262,1031.8L1261,1031.8L1260,1031.8L1259,1031.8L1258,1031.8L1257,1031.8L1256,1031.8L1255,1031.8L1254,1031.8L1253,1031.8L1252,1031.8L1251,1031.8L1250,1031.9L1249,1031.9L1248,1031.9L1247,1031.9L1246,1031.9L1245,1031.9L1244,1031.9L1243,1031.9L1242,1031.9L1241,1031.9L1240,1031.9L1239,1031.9L1238,1031.9L1237,1032L1236,1032L1235,1032L1234,1032L1233,1032L1232,1032L1231,1032L1230,1032Z" fill="url(#pk)"/>
<path d="M238,1007.4L240,1007.9L242,1008.1L244,1008.3L246,1008.5L248,1008.7L250,1008.9L252,1009.1L254,1009.3L256,1009.5L258,1009.6L260,1009.8L262,1010L264,1010.2L266,1010.4L268,1010.6L270,1010.8L272,1011L274,1011.2L276,1011.3L278,1011.5L280,1011.7L282,1011.9L284,1012.1L286,1012.3L288,1012.4L290,1012.6L292,1012.8L294,1013L296,1013.2L298,1013.3L300,1013.5L302,1013.7L304,1013.9L306,1014L308,1014.2L310,1014.4L312,1014.6L314,1014.7L316,1014.9L318,1015.1L320,1015.2L322,1015.4L324,1015.6L326,1015.7L328,1015.9L330,1016L332,1016.1L334,1016.2L336,1016.3L338,1016.3L340,1016.4L342,1016.5L344,1016.6L346,1016.6L348,1016.7L350,1016.7L352,1016.8L354,1016.9L356,1016.9L358,1017L360,1017L362,1017.1L364,1017.1L366,1017.2L368,1017.2L370,1017.2L372,1017.3L374,1017.3L376,1017.3L378,1017.4L380,1017.4L382,1017.3L384,1017.3L386,1017.3L388,1017.2L390,1017.2L392,1017.2L394,1017.1L396,1017.1L398,1017L400,1016.9L402,1016.8L404,1016.8L406,1016.7L408,1016.6L410,1016.5L412,1016.4L414,1016.3L416,1016.1L418,1016L420,1015.9L422,1015.7L424,1015.6L426,1015.4L428,1015.2L430,1015L432,1014.8L434,1014.6L436,1014.4L438,1014.2L440,1014L442,1013.7L444,1013.5L446,1013.2L448,1012.9L450,1012.6L452,1012.3L454,1012L456,1011.7L458,1011.3L460,1011L462,1010.6L464,1010.2L466,1009.8L468,1009.4L470,1008.9L472,1008.5L474,1008L476,1007.5L478,1007L480,1006.5L482,1005.9L484,1005.4L486,1004.8L488,1004.2L490,1003.6L492,1003L494,1002.4L496,1001.8L498,1001.1L500,1000.4L502,999.7L504,999L506,998.3L508,997.6L510,996.9L512,996.1L514,995.4L516,994.6L518,993.8L520,993L522,992.3L524,991.5L526,990.7L528,989.8L530,989L532,988.2L534,987.4L536,986.5L538,985.7L540,984.9L542,984.1L544,983.3L546,982.6L548,981.8L550,981.1L552,980.4L554,979.7L556,979L558,978.4L560,977.8L562,977.3L564,976.8L566,976.3L568,975.8L570,975.5L572,975.1L574,974.8L576,974.6L578,974.4L580,974.3L582,974.2L584,974.2L586,974.2L588,974.3L590,974.5L592,974.7L594,974.9L596,975.2L598,975.6L600,975.9L602,976.4L604,976.9L606,977.4L608,977.9L610,978.5L612,979.1L614,979.8L616,980.5L618,981.2L620,982L622,982.7L624,983.5L626,984.3L628,985.1L630,985.9L632,986.7L634,987.6L636,988.4L638,989.2L640,990.1L642,990.9L644,991.8L646,992.7L648,993.5L650,994.4L652,995.2L654,996.1L656,996.9L658,997.8L660,998.6L662,999.4L664,1000.2L666,1001L668,1001.8L670,1002.6L672,1003.4L674,1004.2L676,1004.9L678,1005.7L680,1006.4L682,1007.1L684,1007.8L686,1008.5L688,1009.2L690,1009.8L692,1010.5L694,1011.1L696,1011.8L698,1012.4L700,1013L702,1013.5L704,1014.1L706,1014.7L708,1015.2L710,1015.7L712,1016.2L714,1016.7L716,1017.2L718,1017.7L720,1018.1L722,1018.6L724,1019L726,1019.4L728,1019.8L730,1020.2L732,1020.6L734,1021L736,1021.3L738,1021.7L740,1022L742,1022.4L744,1022.7L746,1023L748,1023.3L750,1023.6L752,1023.8L754,1024.1L756,1024.4L758,1024.6L760,1024.9L762,1025.1L764,1025.4L766,1025.6L768,1025.9L770,1026.1L772,1026.3L774,1026.5L776,1026.8L778,1027L780,1027.2L782,1027.4L784,1027.5L786,1027.7L788,1027.9L790,1028.1L792,1028.3L794,1028.4L796,1028.6L798,1028.7L800,1028.9L802,1029.1L804,1029.2L806,1029.3L808,1029.5L810,1029.6L812,1029.8L814,1029.9L816,1030L818,1030.1L820,1030.3L822,1030.3L824,1030.4L826,1030.5L828,1030.5L830,1030.6L832,1030.7L834,1030.7L836,1030.8L838,1030.8L840,1030.9L842,1030.9L844,1031L846,1031L848,1031.1L850,1031.1L852,1031.1L854,1031.2L856,1031.2L858,1031.3L860,1031.3L862,1031.3L864,1031.4L866,1031.4L868,1031.4L870,1031.5L872,1031.5L874,1031.5L876,1031.5L878,1031.6L880,1031.6L882,1031.6L884,1031.6L886,1031.7L888,1031.7L890,1031.7L892,1031.7L894,1031.7L896,1031.8L898,1031.8L900,1031.8L902,1031.8L904,1031.8L906,1031.9L908,1031.9L910,1031.9L912,1031.9L914,1031.9L916,1031.9L918,1031.9L920,1031.9L922,1032L924,1032L926,1032L928,1032L930,1032L932,1032L934,1032L936,1032L938,1032L940,1032L942,1032L944,1032L946,1032L948,1032L950,1032.1L952,1032.1L954,1032.1L956,1032.1L958,1032.1L960,1032.1L962,1032.1L964,1032.1L966,1032.1L968,1032.1L970,1032.1L972,1032.1L974,1032.1L976,1032.1L978,1032.1L980,1032.1L982,1032.1L984,1032.1L986,1032.1L988,1032.1L990,1032.1L992,1032.1L994,1032.1L996,1032.1L998,1032.1L1000,1032L1002,1032L1004,1032L1006,1032L1008,1032L1010,1032L1012,1032L1014,1032L1016,1032L1018,1032L1020,1032L1022,1032L1024,1032L1026,1032L1028,1032L1030,1032L1032,1032L1034,1032L1036,1032L1038,1032L1040,1032L1042,1032L1044,1032L1046,1032L1048,1032L1050,1032L1052,1032L1054,1032L1056,1031.9L1058,1031.9L1060,1031.9L1062,1031.9L1064,1031.9L1066,1031.9L1068,1031.9L1070,1031.9L1072,1031.9L1074,1031.9L1076,1031.9L1078,1031.9L1080,1031.9L1082,1031.9L1084,1031.9L1086,1031.8L1088,1031.8L1090,1031.8" fill="none" stroke="#1c1ca8" stroke-width="4.2"/>
<path d="M528,1027.4L530,1027.5L532,1027.5L534,1027.5L536,1027.6L538,1027.6L540,1027.7L542,1027.7L544,1027.7L546,1027.8L548,1027.8L550,1027.9L552,1027.9L554,1028L556,1028L558,1028L560,1028.1L562,1028.1L564,1028.1L566,1028.2L568,1028.2L570,1028.3L572,1028.3L574,1028.3L576,1028.4L578,1028.4L580,1028.5L582,1028.5L584,1028.5L586,1028.6L588,1028.6L590,1028.6L592,1028.7L594,1028.7L596,1028.7L598,1028.8L600,1028.8L602,1028.8L604,1028.9L606,1028.9L608,1028.9L610,1029L612,1029L614,1029L616,1029.1L618,1029.1L620,1029.1L622,1029.2L624,1029.2L626,1029.2L628,1029.2L630,1029.2L632,1029.1L634,1029.1L636,1029.1L638,1029.1L640,1029L642,1029L644,1029L646,1028.9L648,1028.9L650,1028.9L652,1028.9L654,1028.8L656,1028.8L658,1028.8L660,1028.7L662,1028.7L664,1028.7L666,1028.7L668,1028.6L670,1028.6L672,1028.6L674,1028.5L676,1028.5L678,1028.5L680,1028.4L682,1028.4L684,1028.4L686,1028.3L688,1028.3L690,1028.3L692,1028.2L694,1028.2L696,1028.1L698,1028.1L700,1028.1L702,1028L704,1028L706,1028L708,1027.9L710,1027.9L712,1027.8L714,1027.8L716,1027.8L718,1027.7L720,1027.7L722,1027.6L724,1027.6L726,1027.5L728,1027.5L730,1027.4L732,1027.4L734,1027.4L736,1027.3L738,1027.3L740,1027.2L742,1027.2L744,1027.1L746,1027.1L748,1027L750,1027L752,1026.9L754,1026.9L756,1026.8L758,1026.7L760,1026.7L762,1026.7L764,1026.6L766,1026.6L768,1026.6L770,1026.5L772,1026.5L774,1026.5L776,1026.4L778,1026.4L780,1026.4L782,1026.3L784,1026.3L786,1026.2L788,1026.2L790,1026.1L792,1026.1L794,1026.1L796,1026L798,1026L800,1025.9L802,1025.9L804,1025.8L806,1025.8L808,1025.7L810,1025.7L812,1025.6L814,1025.6L816,1025.5L818,1025.5L820,1025.4L822,1025.3L824,1025.2L826,1025.1L828,1025L830,1024.8L832,1024.7L834,1024.6L836,1024.5L838,1024.4L840,1024.3L842,1024.1L844,1024L846,1023.9L848,1023.8L850,1023.6L852,1023.5L854,1023.4L856,1023.3L858,1023.1L860,1023L862,1022.9L864,1022.7L866,1022.6L868,1022.4L870,1022.3L872,1022.2L874,1022L876,1021.9L878,1021.7L880,1021.6L882,1021.4L884,1021.3L886,1021.1L888,1021L890,1020.8L892,1020.6L894,1020.5L896,1020.3L898,1020.2L900,1020L902,1019.8L904,1019.6L906,1019.5L908,1019.3L910,1019.1L912,1018.9L914,1018.7L916,1018.6L918,1018.4L920,1018.2L922,1018L924,1017.8L926,1017.6L928,1017.4L930,1017.2L932,1017L934,1016.8L936,1016.5L938,1016.3L940,1016.1L942,1015.9L944,1015.7L946,1015.4L948,1015.2L950,1015L952,1014.7L954,1014.5L956,1014.2L958,1014L960,1013.7L962,1013.5L964,1013.2L966,1012.9L968,1012.7L970,1012.4L972,1012.1L974,1011.8L976,1011.5L978,1011.2L980,1010.9L982,1010.6L984,1010.3L986,1010L988,1009.7L990,1009.4L992,1009L994,1008.7L996,1008.4L998,1008L1000,1007.7L1002,1007.3L1004,1006.9L1006,1006.6L1008,1006.2L1010,1005.8L1012,1005.4L1014,1005L1016,1004.6L1018,1004.2L1020,1003.8L1022,1003.4L1024,1002.9L1026,1002.5L1028,1002L1030,1001.6L1032,1001.1L1034,1000.6L1036,1000.1L1038,999.6L1040,999.1L1042,998.6L1044,998L1046,997.5L1048,996.9L1050,996.4L1052,995.8L1054,995.2L1056,994.6L1058,994L1060,993.4L1062,992.7L1064,992L1066,991.4L1068,990.7L1070,990L1072,989.3L1074,988.5L1076,987.8L1078,987L1080,986.2L1082,985.4L1084,984.6L1086,983.7L1088,982.8L1090,981.9L1092,981L1094,980.1L1096,979.1L1098,978.1L1100,977.1L1102,976.1L1104,975L1106,973.9L1108,972.8L1110,971.7L1112,970.5L1114,969.3L1116,968L1118,966.7L1120,965.4L1122,964.1L1124,962.7L1126,961.2L1128,959.7L1130,958.2L1132,956.6L1134,955L1136,953.4L1138,951.6L1140,949.8L1142,948L1144,946.1L1146,944.1L1148,942L1150,939.9L1152,937.7L1154,935.3L1156,932.9L1158,930.4L1160,927.8L1162,925L1164,922.1L1166,919L1168,915.8L1170,912.4L1172,908.9L1174,905.1L1176,901L1178,896.8L1180,892.3L1182,887.4L1184,882.3L1186,876.9L1188,871.1L1190,864.9L1192,858.4L1194,851.4L1196,844L1198,836.2L1200,827.9L1202,819.2L1204,809.9L1206,800.2L1208,790L1210,779.2L1212,768L1214,756.3L1216,744.1L1218,731.4L1220,718.2L1222,704.7L1224,690.7L1226,676.3L1228,661.6L1230,646.5L1232,631.2L1234,615.6L1236,599.9L1238,583.9L1240,567.9L1242,551.9L1244,535.9L1246,520L1248,504.3L1250,488.9L1252,473.8L1254,459.2L1256,445.2L1258,431.9L1260,419.4L1262,407.9L1264,397.4L1266,388.2L1268,380.3L1270,373.8L1272,368.9L1274,365.7L1276,364.2L1278,364.4L1280,366.4L1282,370.1L1284,375.6L1286,382.7L1288,391.3L1290,401.3L1292,412.5L1294,424.8L1296,438.1L1298,452.1L1300,466.8L1302,482.1L1304,497.8L1306,513.8L1308,530L1310,546.4L1312,562.9L1314,579.3L1316,595.7L1318,611.9L1320,628L1322,643.8L1324,659.3L1326,674.4L1328,689.2L1330,703.6L1332,717.6L1334,731.1L1336,744.1L1338,756.6L1340,768.6L1342,780.1L1344,791.1L1346,801.5L1348,811.4L1350,820.8L1352,829.7L1354,838L1356,845.9L1358,853.4L1360,860.4L1362,866.9L1364,873.1L1366,878.9L1368,884.3L1370,889.4L1372,894.2L1374,898.7L1376,902.9L1378,906.9L1380,910.6L1382,914.2L1384,917.5L1386,920.7L1388,923.7L1390,926.5L1392,929.3L1394,931.9L1396,934.4L1398,936.7L1400,939L1402,941.2L1404,943.3L1406,945.3L1408,947.3L1410,949.2L1412,951L1414,952.7L1416,954.4L1418,956.1L1420,957.7L1422,959.2L1424,960.7L1426,962.1L1428,963.5L1430,964.9L1432,966.2L1434,967.5L1436,968.8L1438,970L1440,971.2L1442,972.3L1444,973.4L1446,974.5L1448,975.6L1450,976.6L1452,977.6L1454,978.6L1456,979.5L1458,980.5L1460,981.4L1462,982.2L1464,983.1L1466,983.9L1468,984.7L1470,985.5L1472,986.3L1474,987.1L1476,987.8L1478,988.5L1480,989.2L1482,989.9L1484,990.6L1486,991.3L1488,991.9L1490,992.5L1492,993.1L1494,993.7L1496,994.3L1498,994.9L1500,995.5L1502,996L1504,996.5L1506,997.1L1508,997.6L1510,998.1L1512,998.6L1514,999L1516,999.5L1518,1000L1520,1000.4L1522,1000.9L1524,1001.3L1526,1001.7L1528,1002.1L1530,1002.5L1532,1002.9L1534,1003.3L1536,1003.7L1538,1004.1L1540,1004.4L1542,1004.8L1544,1005.2L1546,1005.6L1548,1006L1550,1006.4L1552,1006.8L1554,1007.1L1556,1007.5L1558,1007.9L1560,1008.2L1562,1008.6L1564,1008.9L1566,1009.2L1568,1009.6L1570,1009.9L1572,1010.2L1574,1010.5L1576,1010.8L1578,1011.1L1580,1011.4L1582,1011.7L1584,1012L1586,1012.3L1588,1012.6L1590,1012.9L1592,1013.2L1594,1013.4L1596,1013.7L1598,1014L1600,1014.2L1602,1014.5L1604,1014.7L1606,1015L1608,1015.2L1610,1015.5L1612,1015.7L1614,1016L1616,1016.2L1618,1016.5L1620,1016.7L1622,1016.9L1624,1017.1L1626,1017.3L1628,1017.5L1630,1017.6L1632,1017.8L1634,1018L1636,1018.2L1638,1018.4L1640,1018.5L1642,1018.7L1644,1018.9L1646,1019L1648,1019.2L1650,1019.4L1652,1019.5L1654,1019.7L1656,1019.8L1658,1020L1660,1020.1L1662,1020.3L1664,1020.4L1666,1020.6L1668,1020.7L1670,1020.9L1672,1021L1674,1021.2L1676,1021.3L1678,1021.4L1680,1021.6L1682,1021.7L1684,1021.8L1686,1022L1688,1022.1L1690,1022.2L1692,1022.3L1694,1022.5L1696,1022.6L1698,1022.7L1700,1022.8L1702,1022.9L1704,1023.1L1706,1023.2L1708,1023.3L1710,1023.4L1712,1023.5L1714,1023.6L1716,1023.7L1718,1023.8L1720,1023.9L1722,1024L1724,1024.2L1726,1024.3L1728,1024.4L1730,1024.5L1732,1024.6L1734,1024.7L1736,1024.8L1738,1024.9L1740,1025L1742,1025.1L1744,1025.1L1746,1025.2L1748,1025.3L1750,1025.4L1752,1025.5L1754,1025.6L1756,1025.7L1758,1025.8L1760,1025.9L1762,1026L1764,1026.1L1766,1026.2L1768,1026.3L1770,1026.3L1772,1026.4L1774,1026.5L1776,1026.6L1778,1026.7L1780,1026.8L1782,1026.8L1784,1026.9L1786,1027L1788,1027.1L1790,1027.2L1792,1027.2L1794,1027.3L1796,1027.4L1798,1027.5L1800,1027.6L1802,1027.6L1804,1027.7L1806,1027.8L1808,1027.9L1810,1027.9L1812,1028L1814,1028.1L1816,1028.2L1818,1028.2L1820,1028.3L1822,1028.4L1824,1028.4L1826,1028.5L1828,1028.6L1830,1028.6L1832,1028.7L1834,1028.8L1836,1028.8L1838,1028.9L1840,1029L1842,1029L1844,1029.1L1846,1029.2L1848,1029.2L1850,1029.3L1852,1029.3L1854,1029.4L1856,1029.4L1858,1029.5L1860,1029.5L1862,1029.6L1864,1029.6L1866,1029.6L1868,1029.7L1870,1029.7L1872,1029.8L1874,1029.8L1876,1029.8L1878,1029.9L1880,1029.9L1882,1030L1884,1030L1886,1030L1888,1030.1L1890,1030.1L1892,1030.2L1894,1030.2L1896,1030.2L1898,1030.3L1900,1030.3L1902,1030.3L1904,1030.4L1906,1030.4L1908,1030.4L1910,1030.5L1912,1030.5L1914,1030.5L1916,1030.6L1918,1030.6L1920,1030.6L1922,1030.7L1924,1030.7L1926,1030.7L1928,1030.8L1930,1030.8L1932,1030.8L1934,1030.9L1936,1030.9L1938,1030.9L1940,1030.9L1942,1031L1944,1031L1946,1031L1948,1031.1L1950,1031.1L1952,1031.1L1954,1031.1L1956,1031.2L1958,1031.2L1960,1031.2L1962,1031.3L1964,1031.3L1966,1031.3L1968,1031.3L1970,1031.4L1972,1031.4L1974,1031.4L1976,1031.4L1978,1031.5L1980,1031.5L1982,1031.5L1984,1031.5L1986,1031.6L1988,1031.6L1990,1031.6L1992,1031.6L1994,1031.7L1996,1031.7L1998,1031.7L2000,1031.7L2002,1031.8L2004,1031.8L2006,1031.8L2008,1031.8L2010,1031.8L2012,1031.9L2014,1031.9L2016,1031.9L2018,1031.9L2020,1032L2022,1032L2024,1032L2026,1032L2028,1032L2030,1032.1L2032,1032.1" fill="none" stroke="#00d830" stroke-width="5"/>
<path d="M1236,1028.4L1237,1027.9L1238,1027.3L1239,1026.6L1240,1025.8L1241,1024.9L1242,1023.9L1243,1022.7L1244,1021.5L1245,1020L1246,1018.5L1247,1016.7L1248,1014.8L1249,1012.6L1250,1010.3L1251,1007.7L1252,1004.8L1253,1001.7L1254,998.3L1255,994.7L1256,990.7L1257,986.5L1258,981.9L1259,976.9L1260,971.7L1261,966.1L1262,960.1L1263,953.8L1264,947.1L1265,940.1L1266,932.6L1267,924.8L1268,916.7L1269,908.1L1270,899.2L1271,889.9L1272,880.3L1273,870.3L1274,859.9L1275,849.2L1276,838.1L1277,826.7L1278,815L1279,803L1280,790.6L1281,778L1282,765.1L1283,751.9L1284,738.4L1285,724.8L1286,710.9L1287,696.7L1288,682.5L1289,668L1290,653.4L1291,638.6L1292,623.8L1293,608.9L1294,593.9L1295,578.9L1296,563.8L1297,548.8L1298,533.8L1299,518.9L1300,504L1301,489.3L1302,474.8L1303,460.3L1304,446.1L1305,432.2L1306,418.4L1307,405L1308,391.8L1309,379L1310,366.6L1311,354.5L1312,342.8L1313,331.6L1314,320.8L1315,310.6L1316,300.8L1317,291.5L1318,282.8L1319,274.7L1320,267.2L1321,260.2L1322,253.9L1323,248.2L1324,243.1L1325,238.7L1326,235L1327,231.9L1328,229.6L1329,227.9L1330,226.9L1331,226.6L1332,227L1333,228.1L1334,229.9L1335,232.3L1336,235.5L1337,239.3L1338,243.8L1339,248.9L1340,254.7L1341,261.2L1342,268.2L1343,275.8L1344,284.1L1345,292.8L1346,302.2L1347,312L1348,322.4L1349,333.2L1350,344.5L1351,356.2L1352,368.3L1353,380.8L1354,393.7L1355,406.9L1356,420.4L1357,434.2L1358,448.2L1359,462.4L1360,476.8L1361,491.4L1362,506.2L1363,521L1364,536L1365,551L1366,566L1367,581L1368,596L1369,611L1370,625.9L1371,640.8L1372,655.5L1373,670.1L1374,684.5L1375,698.8L1376,712.8L1377,726.7L1378,740.4L1379,753.8L1380,766.9L1381,779.8L1382,792.4L1383,804.7L1384,816.7L1385,828.3L1386,839.7L1387,850.7L1388,861.3L1389,871.7L1390,881.6L1391,891.2L1392,900.4L1393,909.3L1394,917.8L1395,925.9L1396,933.6L1397,941L1398,947.9L1399,954.6L1400,960.8L1401,966.7L1402,972.3L1403,977.5L1404,982.3L1405,986.8L1406,991.1L1407,995L1408,998.6L1409,1001.9L1410,1004.9L1411,1007.7L1412,1010.3L1413,1012.6L1414,1014.7L1415,1016.6L1416,1018.3L1417,1019.8L1418,1021.2L1419,1022.5L1420,1023.6L1421,1024.6L1422,1025.4L1423,1026.2L1424,1026.9L1425,1027.5L1426,1028L1427,1028.5L1428,1028.9" fill="none" stroke="#6f6f6f" stroke-width="3.2"/>
<path d="M238,1009.5L242,1010.2L246,1010.7L250,1011.1L254,1011.6L258,1012L262,1012.4L266,1012.9L270,1013.3L274,1013.8L278,1014.2L282,1014.7L286,1015.1L290,1015.6L294,1016L298,1016.4L302,1016.9L306,1017.3L310,1017.8L314,1018.2L318,1018.7L322,1019.1L326,1019.6L330,1020L334,1020.3L338,1020.6L342,1020.8L346,1021.1L350,1021.4L354,1021.7L358,1022L362,1022.2L366,1022.5L370,1022.8L374,1023.1L378,1023.4L382,1023.6L386,1023.8L390,1024L394,1024.2L398,1024.4L402,1024.6L406,1024.8L410,1025L414,1025.2L418,1025.4L422,1025.6L426,1025.8L430,1026L434,1026.2L438,1026.4L442,1026.6L446,1026.8L450,1027L454,1027.3L458,1027.5L462,1027.7L466,1027.9L470,1028.2L474,1028.4L478,1028.6L482,1028.8L486,1029L490,1029.3L494,1029.5L498,1029.7L502,1029.9L506,1030.1L510,1030.4L514,1030.6L518,1030.8L522,1031L526,1031.2L530,1031.4L534,1031.5L538,1031.7L542,1031.8L546,1031.9L550,1032.1L554,1032.2L558,1032.3L562,1032.4L566,1032.6L570,1032.7L574,1032.8L578,1033L582,1033.1L586,1033.2L590,1033.4L594,1033.5L598,1033.6L602,1033.7L606,1033.9L610,1034L614,1034.1L618,1034.3L622,1034.4L626,1034.5L630,1034.5L634,1034.5L638,1034.5L642,1034.6L646,1034.6L650,1034.6L654,1034.6L658,1034.6L662,1034.6L666,1034.7L670,1034.7L674,1034.7L678,1034.7L682,1034.7L686,1034.7L690,1034.7L694,1034.8L698,1034.8L702,1034.8L706,1034.8L710,1034.8L714,1034.8L718,1034.8L722,1034.9L726,1034.9L730,1034.9L734,1034.9L738,1034.9L742,1034.9L746,1034.9L750,1035L754,1035L758,1035L762,1035L766,1035.1L770,1035.2L774,1035.2L778,1035.3L782,1035.4L786,1035.4L790,1035.5L794,1035.6L798,1035.6L802,1035.7L806,1035.8L810,1035.8L814,1035.9L818,1036L822,1036L826,1035.9L830,1035.9L834,1035.8L838,1035.8L842,1035.8L846,1035.7L850,1035.7L854,1035.6L858,1035.6L862,1035.5L866,1035.5L870,1035.4L874,1035.4L878,1035.4L882,1035.3L886,1035.3L890,1035.2L894,1035.2L898,1035.1L902,1035.1L906,1035L910,1035L914,1035L918,1034.9L922,1034.9L926,1034.8L930,1034.8L934,1034.7L938,1034.7L942,1034.6L946,1034.6L950,1034.6L954,1034.5L958,1034.5L962,1034.4L966,1034.4L970,1034.3L974,1034.3L978,1034.2L982,1034.2L986,1034.2L990,1034.1L994,1034.1L998,1034L1002,1034L1006,1033.9L1010,1033.9L1014,1033.9L1018,1033.8L1022,1033.8L1026,1033.8L1030,1033.7L1034,1033.7L1038,1033.6L1042,1033.6L1046,1033.6L1050,1033.5L1054,1033.5L1058,1033.5L1062,1033.4L1066,1033.4L1070,1033.3L1074,1033.3L1078,1033.3L1082,1033.2L1086,1033.2L1090,1033.2L1094,1033.1L1098,1033.1L1102,1033L1106,1033L1110,1033L1114,1032.9L1118,1032.9L1122,1032.9L1126,1032.8L1130,1032.8L1134,1032.7L1138,1032.7L1142,1032.7L1146,1032.6L1150,1032.6L1154,1032.6L1158,1032.5L1162,1032.5L1166,1032.5L1170,1032.4L1174,1032.4L1178,1032.4L1182,1032.3L1186,1032.3L1190,1032.3L1194,1032.3L1198,1032.2L1202,1032.2L1206,1032.2L1210,1032.1L1214,1032.1L1218,1032.1L1222,1032.1L1226,1032L1230,1032L1234,1032L1238,1031.9L1242,1031.9L1246,1031.9L1250,1031.9L1254,1031.8L1258,1031.8L1262,1031.8L1266,1031.7L1270,1031.7L1274,1031.7L1278,1031.7L1282,1031.6L1286,1031.6L1290,1031.6L1294,1031.5L1298,1031.5L1302,1031.5L1306,1031.5L1310,1031.5L1314,1031.5L1318,1031.5L1322,1031.5L1326,1031.5L1330,1031.5L1334,1031.5L1338,1031.5L1342,1031.5L1346,1031.5L1350,1031.5L1354,1031.5L1358,1031.5L1362,1031.5L1366,1031.5L1370,1031.5L1374,1031.5L1378,1031.5L1382,1031.5L1386,1031.5L1390,1031.5L1394,1031.5L1398,1031.5L1402,1031.5L1406,1031.5L1410,1031.5L1414,1031.5L1418,1031.5L1422,1031.4L1426,1031.4L1430,1031.4L1434,1031.4L1438,1031.4L1442,1031.4L1446,1031.4L1450,1031.4L1454,1031.4L1458,1031.4L1462,1031.4L1466,1031.4L1470,1031.4L1474,1031.4L1478,1031.4L1482,1031.4L1486,1031.4L1490,1031.4L1494,1031.4L1498,1031.4L1502,1031.4L1506,1031.4L1510,1031.4L1514,1031.4L1518,1031.4L1522,1031.4L1526,1031.4L1530,1031.4L1534,1031.4L1538,1031.4L1542,1031.5L1546,1031.6L1550,1031.7L1554,1031.8L1558,1031.9L1562,1032L1566,1032.1L1570,1032.2L1574,1032.3L1578,1032.4L1582,1032.6L1586,1032.7L1590,1032.8L1594,1032.9L1598,1033L1602,1033.1L1606,1033.2L1610,1033.3L1614,1033.4L1618,1033.5L1622,1033.6L1626,1033.7L1630,1033.7L1634,1033.7L1638,1033.8L1642,1033.8L1646,1033.8L1650,1033.9L1654,1033.9L1658,1033.9L1662,1034L1666,1034L1670,1034L1674,1034.1L1678,1034.1L1682,1034.1L1686,1034.2L1690,1034.2L1694,1034.3L1698,1034.3L1702,1034.3L1706,1034.4L1710,1034.4L1714,1034.4L1718,1034.5L1722,1034.5L1726,1034.5L1730,1034.6L1734,1034.6L1738,1034.6L1742,1034.7L1746,1034.7L1750,1034.8L1754,1034.8L1758,1034.8L1762,1034.9L1766,1034.9L1770,1035L1774,1035L1778,1035L1782,1035.1L1786,1035.1L1790,1035.2L1794,1035.2L1798,1035.3L1802,1035.3L1806,1035.3L1810,1035.4L1814,1035.4L1818,1035.5L1822,1035.5L1826,1035.5L1830,1035.6L1834,1035.6L1838,1035.7L1842,1035.7L1846,1035.8L1850,1035.8L1854,1035.8L1858,1035.8L1862,1035.8L1866,1035.8L1870,1035.8L1874,1035.8L1878,1035.8L1882,1035.8L1886,1035.8L1890,1035.8L1894,1035.8L1898,1035.8L1902,1035.8L1906,1035.8L1910,1035.8L1914,1035.8L1918,1035.8L1922,1035.8L1926,1035.8L1930,1035.8L1934,1035.8L1938,1035.8L1942,1035.8L1946,1035.8L1950,1035.8L1954,1035.8L1958,1035.8L1962,1035.8L1966,1035.9L1970,1035.9L1974,1035.9L1978,1035.9L1982,1035.9L1986,1035.9L1990,1035.9L1994,1035.9L1998,1035.9L2002,1035.9L2006,1035.9L2010,1035.9L2014,1035.9L2018,1035.9L2022,1035.9L2026,1035.9L2030,1035.9L2034,1035.9L2038,1035.9L2042,1035.9L2046,1035.9L2050,1035.9L2054,1035.9L2058,1035.9L2062,1035.9L2066,1035.9L2070,1035.9L2074,1035.9L2078,1035.9L2082,1035.9L2086,1035.9L2090,1035.9L2094,1035.9L2098,1035.9L2102,1035.9L2106,1035.9L2110,1035.9L2114,1035.9L2118,1035.9L2122,1035.9L2126,1035.9L2130,1035.9L2134,1035.9L2138,1035.9L2142,1035.9L2146,1035.9L2150,1035.9L2154,1035.9L2158,1035.9L2162,1035.9L2166,1035.9L2170,1035.9L2174,1035.9L2178,1035.9L2182,1035.9L2186,1035.9L2190,1035.9L2194,1035.9L2198,1036L2202,1036L2206,1036L2210,1036L2214,1036L2218,1036L2222,1036L2226,1036L2230,1036L2234,1036L2238,1036L2242,1036L2246,1036L2250,1036L2254,1036L2258,1036L2262,1036L2266,1036L2270,1036L2274,1036L2278,1036L2282,1036L2286,1036L2290,1036L2294,1036L2298,1036L2302,1036L2306,1036L2310,1036" fill="none" stroke="#006a40" stroke-width="4"/>
<path d="M238,1011.5L245.5,1008.1L253,1005.8L260.5,1002.2L268,1007.5L275.5,1008.3L283,1009.2L290.5,1008.8L298,1010.7L305.5,1009.2L313,1009.5L320.5,1016.7L328,1018.1L335.5,1019.2L343,1014L350.5,1012.7L358,1011.4L365.5,1011.1L373,1017.8L380,1005L394.7,1010L409.5,1006.8L419.3,1006.3L429.1,1012.4L436.5,1007.5L446.3,1013.7L456.1,1005.1L468.4,1003.8L473.3,1008.7L483.1,996.5L492.9,1003.8L502.8,1002.6L510.1,1011.2L522.4,996.5L532.2,989.1L547,989.1L556.8,981.7L564.1,984.2L576.4,976.8L591.1,970.7L600,968.5L613.2,968.2L625.5,976.8L637.8,981.7L650.1,980.5L662.3,994L674.6,1006.3L686.9,1002.6L694.3,1011.2L704.1,996.5L711.5,1005.1L723.7,1006.3L733.5,1006.3L738.5,1022.2L745.8,1013.7L760.6,1014.9L771.2,1017.9L791.3,1012.3L804.6,1012.3L818,1020.1L835.9,1020.1L849.3,1014.6L857.1,1009L864.9,1014.6L882.8,1015.7L892.8,1010.1L902.9,1014.6L914,1015.7L920.7,1024.6L928.5,1010.1L936.3,1012.3L940.8,1006.7L945.3,1023.5L956.4,1013.4L969.8,1011.2L978.8,1013.4L992.1,1005.6L1001.1,1010.1L1016.7,1007.8L1023.4,1012L1033.5,997.7L1043.5,993.5L1050.2,997.7L1058.6,1006.1L1067,999.4L1075.3,986L1083.7,986.9L1097.1,986L1102.1,977.6L1108.8,971L1117.2,969.3L1125.6,960.1L1133.9,950.9L1142.3,940.8L1147.3,929.1L1152.4,923.2L1160.7,920.7L1165.7,907.3L1172.4,893.9L1177.5,890.6L1184.2,877.2L1192.5,857.1C1195.3,849.6 1198.1,841.2 1200.9,832C1203.7,822.8 1206.8,813.9 1209.3,801.9C1211.8,789.9 1213.5,777 1216,760C1218.5,743 1221.5,720 1224,700C1226.5,680 1228.5,660 1231,640C1233.5,620 1235.6,605 1238.8,580C1242,555 1246.3,516.7 1250,490C1253.7,463.3 1257.3,440.9 1260.7,420C1264.1,399.1 1267.8,382 1270.5,364.4C1273.2,346.8 1274.4,329.5 1277.2,314.2C1280,298.9 1284,286.2 1287.3,272.3C1290.6,258.4 1293.9,242.5 1297.3,230.5C1300.7,218.5 1304.1,210.1 1307.4,200.3C1310.8,190.5 1314.6,179.4 1317.4,171.9C1320.2,164.4 1321,160 1324.1,155.1C1327.2,150.2 1333.1,144.1 1335.8,142.6C1338.5,141.1 1338.7,144.2 1340,146C1341.3,147.8 1342.1,147.7 1343.4,153.4C1344.7,159.1 1346.1,167.3 1347.6,180.2C1349.1,193 1350.9,211 1352.6,230.5C1354.3,250 1356.2,275.1 1357.6,297.4C1359,319.7 1360,342.3 1361,364.4C1362,386.5 1362.4,402.1 1363.5,430C1364.6,457.9 1366.6,506.8 1367.7,531.8C1368.8,556.8 1369.1,560.3 1370,580C1370.9,599.7 1371.9,620 1373,650C1374.1,680 1375.5,732.6 1376.8,760C1378.1,787.4 1379.5,798.7 1380.9,814.6C1382.3,830.5 1383.4,841.9 1385,855.5C1386.6,869.1 1388.7,883.9 1390.5,896.4C1392.3,908.9 1393.9,921.4 1395.9,930.5L1402.7,950.9L1408.2,971.4L1410.9,978.2L1419.1,979.6L1428.7,989.1L1435.5,1005.5L1442.3,1000L1449.1,1005.5L1455.9,1004.1L1460,1011L1476.4,1009.6L1487.3,1011L1503.7,1012.3L1513.2,1011.6L1521.4,1017.8L1531,1015L1540,1014.4L1548,1011.6L1555.5,1013.3L1563,1020.7L1570.5,1013.2L1578,1017L1585.5,1020.2L1593,1013L1600.5,1015.8L1608,1018.7L1615.5,1016.7L1623,1015.6L1630.5,1019.4L1638,1020.5L1645.5,1021.8L1653,1015.7L1660.5,1021.5L1668,1029L1675.5,1028.1L1683,1019.5L1690.5,1025.4L1698,1020.4L1705.5,1021.2L1713,1022L1720.5,1025.5L1728,1030.3L1735.5,1028.9L1743,1026.5L1750.5,1025.8L1758,1027.3L1765.5,1028.2L1773,1029.9L1780.5,1026.1L1788,1028.3L1795.5,1028.3L1803,1029.2L1810.5,1030.7L1818,1032.4L1825.5,1035.3L1833,1032.6L1840.5,1036.9L1848,1030.1L1855.5,1030.5L1863,1033.4L1870.5,1034.7L1878,1036L1885.5,1040.3L1893,1039.2L1900.5,1035.7L1908,1032.7L1915.5,1036.2L1923,1041.4L1930.5,1034.1L1938,1028.3L1945.5,1031.4L1953,1034.8L1960.5,1041.2L1968,1039.2L1975.5,1048.3L1983,1039.9L1990.5,1036.5L1998,1036.3L2005.5,1041.4L2013,1034.3L2020.5,1033.7L2028,1039.8L2035.5,1039L2043,1042.8L2050.5,1031.7L2058,1023.7L2065.5,1037.7L2073,1030L2080.5,1047.8L2088,1045.4L2095.5,1032.8L2103,1028.7L2110.5,1031.3L2118,1041L2125.5,1034.9L2133,1033.5L2140.5,1039.2L2148,1048.1L2155.5,1039.9L2163,1042L2170.5,1042.6L2178,1043.9L2185.5,1041.1L2193,1033L2200.5,1034.6L2208,1031.9L2215.5,1035.3L2223,1041.9L2230.5,1034.3L2238,1035.4L2245.5,1032.5L2253,1035.3L2260.5,1040.2L2268,1033.9L2275.5,1035.4L2283,1040.3L2290.5,1040.9L2298,1041.3L2305.5,1037.9" fill="none" stroke="#b83a3a" stroke-width="2.4" stroke-linejoin="round"/>
<path d="M238,2250.5L240,2250.4L242,2250.3L244,2250.3L246,2250.2L248,2250.1L250,2250L252,2249.9L254,2249.8L256,2249.7L258,2249.6L260,2249.5L262,2249.4L264,2249.3L266,2249.2L268,2249.1L270,2249L272,2248.9L274,2248.8L276,2248.7L278,2248.6L280,2248.5L282,2248.3L284,2248.2L286,2248.1L288,2248L290,2247.9L292,2247.8L294,2247.7L296,2247.6L298,2247.4L300,2247.3L302,2247.2L304,2247.1L306,2247L308,2246.8L310,2246.7L312,2246.6L314,2246.5L316,2246.3L318,2246.2L320,2246.1L322,2245.9L324,2245.8L326,2245.7L328,2245.5L330,2245.4L332,2245.2L334,2245.1L336,2245L338,2244.8L340,2244.7L342,2244.5L344,2244.4L346,2244.2L348,2244.1L350,2243.9L352,2243.7L354,2243.6L356,2243.4L358,2243.3L360,2243.1L362,2242.9L364,2242.8L366,2242.6L368,2242.4L370,2242.2L372,2242L374,2241.8L376,2241.5L378,2241.3L380,2241.1L382,2240.9L384,2240.7L386,2240.5L388,2240.2L390,2240L392,2239.8L394,2239.6L396,2239.3L398,2239.1L400,2238.8L402,2238.6L404,2238.4L406,2238.1L408,2237.9L410,2237.6L412,2237.3L414,2237.1L416,2236.8L418,2236.5L420,2236.3L422,2236L424,2235.7L426,2235.4L428,2235.1L430,2234.8L432,2234.5L434,2234.2L436,2233.9L438,2233.6L440,2233.3L442,2232.9L444,2232.6L446,2232.3L448,2231.9L450,2231.6L452,2231.2L454,2230.8L456,2230.5L458,2230.1L460,2229.7L462,2229.3L464,2228.9L466,2228.5L468,2228.1L470,2227.6L472,2227.2L474,2226.7L476,2226.3L478,2225.8L480,2225.3L482,2224.8L484,2224.3L486,2223.8L488,2223.2L490,2222.7L492,2222.1L494,2221.5L496,2220.9L498,2220.2L500,2219.5L502,2218.8L504,2218.1L506,2217.4L508,2216.6L510,2215.8L512,2215L514,2214.1L516,2213.2L518,2212.3L520,2211.3L522,2210.3L524,2209.2L526,2208.1L528,2207L530,2205.8L532,2204.6L534,2203.3L536,2201.9L538,2200.5L540,2199.1L542,2197.5L544,2195.9L546,2194.3L548,2192.5L550,2190.7L552,2188.8L554,2186.9L556,2184.8L558,2182.7L560,2180.5L562,2178.1L564,2175.7L566,2173.2L568,2170.6L570,2167.9L572,2165.1L574,2162.1L576,2159.1L578,2155.9L580,2152.7L582,2149.3L584,2145.8L586,2142.2L588,2138.5L590,2134.7L592,2130.7L594,2126.6L596,2122.5L598,2118.1L600,2113.7L602,2109.2L604,2104.5L606,2099.8L608,2094.9L610,2089.9L612,2084.8L614,2079.6L616,2074.3L618,2068.9L620,2063.5L622,2057.9L624,2052.2L626,2046.5L628,2040.7L630,2034.8L632,2028.8L634,2022.8L636,2016.7L638,2010.6L640,2004.4L642,1998.2L644,1992L646,1985.7L648,1979.5L650,1973.2L652,1966.9L654,1960.6L656,1954.3L658,1948.1L660,1941.8L662,1935.7L664,1929.5L666,1923.4L668,1917.4L670,1911.4L672,1905.6L674,1899.8L676,1894.1L678,1888.6L680,1883.1L682,1877.8L684,1872.7L686,1867.7L688,1862.8L690,1858.2L692,1853.7L694,1849.4L696,1845.4L698,1841.6L700,1838L702,1834.7L704,1831.6L706,1828.8L708,1826.2L710,1824L712,1822.1L714,1820.4L716,1819.1L718,1818L720,1817.3L722,1816.9L724,1816.9L726,1817.1L728,1817.6L730,1818.5L732,1819.7L734,1821.1L736,1822.9L738,1824.9L740,1827.2L742,1829.8L744,1832.7L746,1835.8L748,1839.2L750,1842.8L752,1846.6L754,1850.6L756,1854.8L758,1859.3L760,1863.9L762,1868.6L764,1873.6L766,1878.6L768,1883.8L770,1889.2L772,1894.6L774,1900.2L776,1905.8L778,1911.5L780,1917.3L782,1923.2L784,1929.1L786,1935.1L788,1941.1L790,1947.2L792,1953.2L794,1959.3L796,1965.4L798,1971.5L800,1977.6L802,1983.7L804,1989.7L806,1995.7L808,2001.7L810,2007.7L812,2013.6L814,2019.4L816,2025.2L818,2031L820,2036.6L822,2042.3L824,2047.8L826,2053.3L828,2058.6L830,2063.9L832,2069.1L834,2074.2L836,2079.2L838,2084.1L840,2088.9L842,2093.6L844,2098.2L846,2102.6L848,2107L850,2111.2L852,2115.3L854,2119.4L856,2123.3L858,2127L860,2130.7L862,2134.3L864,2137.7L866,2141L868,2144.2L870,2147.3L872,2150.3L874,2153.2L876,2156L878,2158.7L880,2161.2L882,2163.7L884,2166.1L886,2168.3L888,2170.5L890,2172.6L892,2174.6L894,2176.6L896,2178.4L898,2180.2L900,2181.8L902,2183.5L904,2185L906,2186.5L908,2187.9L910,2189.2L912,2190.5L914,2191.7L916,2192.9L918,2194L920,2195.1L922,2196.1L924,2197.1L926,2198L928,2198.9L930,2199.8L932,2200.6L934,2201.4L936,2202.1L938,2202.8L940,2203.5L942,2204.2L944,2204.8L946,2205.4L948,2206L950,2206.6L952,2207.1L954,2207.6L956,2208.2L958,2208.7L960,2209.1L962,2209.6L964,2210L966,2210.5L968,2210.9L970,2211.3L972,2211.7L974,2212.1L976,2212.5L978,2212.8L980,2213.2L982,2213.5L984,2213.8L986,2214.2L988,2214.5L990,2214.8L992,2215.1L994,2215.4L996,2215.6L998,2215.9L1000,2216.2L1002,2216.5L1004,2216.7L1006,2217L1008,2217.2L1010,2217.5L1012,2217.7L1014,2217.9L1016,2218.1L1018,2218.4L1020,2218.6L1022,2218.8L1024,2219L1026,2219.2L1028,2219.4L1030,2219.6L1032,2219.8L1034,2220L1036,2220.2L1038,2220.3L1040,2220.5L1042,2220.7L1044,2220.9L1046,2221L1048,2221.2L1050,2221.4L1052,2221.5L1054,2221.7L1056,2221.8L1058,2222L1060,2222.1L1062,2222.3L1064,2222.4L1066,2222.5L1068,2222.7L1070,2222.8L1072,2222.9L1074,2223.1L1076,2223.2L1078,2223.3L1080,2223.4L1082,2223.5L1084,2223.7L1086,2223.8L1088,2223.9L1090,2224L1092,2224.1L1094,2224.2L1096,2224.3L1098,2224.4L1100,2224.5L1102,2224.6L1104,2224.7L1106,2224.8L1108,2224.9L1110,2225L1112,2225.1L1114,2225.2L1116,2225.3L1118,2225.4L1120,2225.5L1122,2225.6L1124,2225.6L1126,2225.7L1128,2225.8L1130,2225.9L1132,2226L1134,2226.1L1136,2226.2L1138,2226.3L1140,2226.4L1142,2226.5L1144,2226.5L1146,2226.6L1148,2226.7L1150,2226.8L1152,2226.9L1154,2226.9L1156,2227L1158,2227.1L1160,2227.2L1162,2227.2L1164,2227.3L1166,2227.4L1168,2227.5L1170,2227.5L1172,2227.6L1174,2227.7L1176,2227.7L1178,2227.8L1180,2227.9L1182,2227.9L1184,2228L1186,2228.1L1188,2228.1L1190,2228.2L1192,2228.2L1194,2228.3L1196,2228.4L1198,2228.4L1200,2228.5L1202,2228.5L1204,2228.6L1206,2228.6L1208,2228.7L1210,2228.8L1212,2228.8L1214,2228.9L1216,2228.9L1218,2229L1220,2229L1222,2229.1L1224,2229.1L1226,2229.2L1228,2229.2L1230,2229.3L1232,2229.3L1234,2229.3L1236,2229.4L1238,2229.4L1240,2229.5L1242,2229.5L1244,2229.6L1246,2229.6L1248,2229.6L1250,2229.7L1252,2229.7L1254,2229.8L1256,2229.8L1258,2229.9L1260,2229.9L1262,2229.9L1264,2230L1266,2230L1268,2230L1270,2230.1L1272,2230.1L1274,2230.1L1276,2230.2L1278,2230.2L1280,2230.3L1282,2230.3L1284,2230.3L1286,2230.4L1288,2230.4L1290,2230.4L1292,2230.5L1294,2230.5L1296,2230.5L1298,2230.5L1300,2230.6L1300,2236L1298,2236L1296,2236L1294,2236L1292,2236L1290,2236L1288,2236L1286,2236L1284,2236L1282,2236L1280,2236L1278,2236L1276,2236L1274,2236L1272,2236L1270,2236L1268,2236.1L1266,2236.1L1264,2236.1L1262,2236.1L1260,2236.1L1258,2236.1L1256,2236.1L1254,2236.1L1252,2236.1L1250,2236.1L1248,2236.1L1246,2236.1L1244,2236.1L1242,2236.1L1240,2236.1L1238,2236.1L1236,2236.1L1234,2236.2L1232,2236.2L1230,2236.2L1228,2236.2L1226,2236.2L1224,2236.2L1222,2236.2L1220,2236.2L1218,2236.2L1216,2236.2L1214,2236.2L1212,2236.2L1210,2236.2L1208,2236.2L1206,2236.2L1204,2236.2L1202,2236.3L1200,2236.3L1198,2236.3L1196,2236.3L1194,2236.3L1192,2236.3L1190,2236.3L1188,2236.3L1186,2236.3L1184,2236.3L1182,2236.3L1180,2236.3L1178,2236.3L1176,2236.3L1174,2236.3L1172,2236.3L1170,2236.3L1168,2236.4L1166,2236.4L1164,2236.4L1162,2236.4L1160,2236.4L1158,2236.4L1156,2236.4L1154,2236.4L1152,2236.4L1150,2236.4L1148,2236.4L1146,2236.4L1144,2236.4L1142,2236.4L1140,2236.4L1138,2236.4L1136,2236.5L1134,2236.5L1132,2236.5L1130,2236.5L1128,2236.5L1126,2236.5L1124,2236.5L1122,2236.5L1120,2236.5L1118,2236.5L1116,2236.5L1114,2236.6L1112,2236.6L1110,2236.6L1108,2236.6L1106,2236.7L1104,2236.7L1102,2236.7L1100,2236.7L1098,2236.7L1096,2236.8L1094,2236.8L1092,2236.8L1090,2236.8L1088,2236.8L1086,2236.9L1084,2236.9L1082,2236.9L1080,2236.9L1078,2237L1076,2237L1074,2237L1072,2237L1070,2237L1068,2237.1L1066,2237.1L1064,2237.1L1062,2237.1L1060,2237.2L1058,2237.2L1056,2237.2L1054,2237.2L1052,2237.2L1050,2237.3L1048,2237.3L1046,2237.3L1044,2237.3L1042,2237.3L1040,2237.4L1038,2237.4L1036,2237.4L1034,2237.4L1032,2237.5L1030,2237.5L1028,2237.5L1026,2237.5L1024,2237.5L1022,2237.6L1020,2237.6L1018,2237.6L1016,2237.6L1014,2237.6L1012,2237.7L1010,2237.7L1008,2237.7L1006,2237.7L1004,2237.8L1002,2237.8L1000,2237.8L998,2237.8L996,2237.8L994,2237.9L992,2237.9L990,2237.9L988,2237.9L986,2238L984,2238L982,2238L980,2238L978,2238L976,2238.1L974,2238.1L972,2238.1L970,2238.1L968,2238.1L966,2238.2L964,2238.2L962,2238.2L960,2238.2L958,2238.3L956,2238.3L954,2238.3L952,2238.3L950,2238.4L948,2238.4L946,2238.4L944,2238.5L942,2238.5L940,2238.6L938,2238.6L936,2238.6L934,2238.7L932,2238.7L930,2238.7L928,2238.8L926,2238.8L924,2238.9L922,2238.9L920,2238.9L918,2239L916,2239L914,2239L912,2239.1L910,2239.1L908,2239.2L906,2239.2L904,2239.2L902,2239.3L900,2239.3L898,2239.3L896,2239.4L894,2239.4L892,2239.5L890,2239.5L888,2239.5L886,2239.6L884,2239.6L882,2239.6L880,2239.7L878,2239.7L876,2239.8L874,2239.8L872,2239.8L870,2239.9L868,2239.9L866,2239.9L864,2240L862,2240L860,2240.1L858,2240.1L856,2240.1L854,2240.2L852,2240.2L850,2240.2L848,2240.3L846,2240.3L844,2240.4L842,2240.4L840,2240.4L838,2240.5L836,2240.5L834,2240.5L832,2240.6L830,2240.6L828,2240.7L826,2240.7L824,2240.7L822,2240.8L820,2240.8L818,2240.9L816,2241L814,2241L812,2241.1L810,2241.2L808,2241.3L806,2241.3L804,2241.4L802,2241.5L800,2241.6L798,2241.7L796,2241.7L794,2241.8L792,2241.9L790,2242L788,2242L786,2242.1L784,2242.2L782,2242.3L780,2242.4L778,2242.4L776,2242.5L774,2242.6L772,2242.7L770,2242.7L768,2242.8L766,2242.9L764,2243L762,2243.1L760,2243.1L758,2243.2L756,2243.3L754,2243.4L752,2243.4L750,2243.5L748,2243.6L746,2243.7L744,2243.8L742,2243.8L740,2243.9L738,2244L736,2244.1L734,2244.1L732,2244.2L730,2244.3L728,2244.4L726,2244.5L724,2244.5L722,2244.6L720,2244.7L718,2244.8L716,2244.9L714,2244.9L712,2245L710,2245.1L708,2245.2L706,2245.2L704,2245.3L702,2245.4L700,2245.5L698,2245.6L696,2245.6L694,2245.7L692,2245.8L690,2245.9L688,2245.9L686,2246L684,2246.1L682,2246.2L680,2246.3L678,2246.3L676,2246.4L674,2246.5L672,2246.6L670,2246.6L668,2246.7L666,2246.8L664,2246.9L662,2247L660,2247L658,2247.1L656,2247.2L654,2247.3L652,2247.3L650,2247.4L648,2247.5L646,2247.6L644,2247.7L642,2247.7L640,2247.8L638,2247.9L636,2248L634,2248L632,2248.1L630,2248.2L628,2248.3L626,2248.3L624,2248.4L622,2248.5L620,2248.6L618,2248.6L616,2248.7L614,2248.8L612,2248.9L610,2248.9L608,2249L606,2249.1L604,2249.2L602,2249.2L600,2249.3L598,2249.4L596,2249.5L594,2249.5L592,2249.6L590,2249.7L588,2249.8L586,2249.8L584,2249.9L582,2250L580,2250.1L578,2250.1L576,2250.2L574,2250.3L572,2250.4L570,2250.4L568,2250.5L566,2250.6L564,2250.6L562,2250.7L560,2250.8L558,2250.9L556,2250.9L554,2251L552,2251.1L550,2251.2L548,2251.2L546,2251.3L544,2251.4L542,2251.5L540,2251.5L538,2251.6L536,2251.7L534,2251.8L532,2251.8L530,2251.9L528,2252L526,2252.1L524,2252.1L522,2252.2L520,2252.3L518,2252.4L516,2252.4L514,2252.5L512,2252.6L510,2252.7L508,2252.7L506,2252.8L504,2252.9L502,2252.9L500,2253L498,2253.1L496,2253.2L494,2253.2L492,2253.3L490,2253.3L488,2253.4L486,2253.4L484,2253.5L482,2253.5L480,2253.6L478,2253.6L476,2253.7L474,2253.7L472,2253.8L470,2253.9L468,2253.9L466,2254L464,2254L462,2254.1L460,2254.1L458,2254.2L456,2254.2L454,2254.3L452,2254.3L450,2254.4L448,2254.4L446,2254.5L444,2254.5L442,2254.6L440,2254.7L438,2254.7L436,2254.8L434,2254.8L432,2254.9L430,2254.9L428,2255L426,2255L424,2255.1L422,2255.1L420,2255.2L418,2255.2L416,2255.3L414,2255.4L412,2255.4L410,2255.5L408,2255.5L406,2255.6L404,2255.6L402,2255.7L400,2255.7L398,2255.8L396,2255.8L394,2255.9L392,2255.9L390,2256L388,2256.1L386,2256.1L384,2256.2L382,2256.2L380,2256.3L378,2256.3L376,2256.4L374,2256.4L372,2256.5L370,2256.5L368,2256.6L366,2256.6L364,2256.7L362,2256.7L360,2256.8L358,2256.8L356,2256.8L354,2256.8L352,2256.9L350,2256.9L348,2256.9L346,2257L344,2257L342,2257L340,2257L338,2257.1L336,2257.1L334,2257.1L332,2257.1L330,2257.2L328,2257.2L326,2257.2L324,2257.3L322,2257.3L320,2257.3L318,2257.3L316,2257.4L314,2257.4L312,2257.4L310,2257.5L308,2257.5L306,2257.5L304,2257.5L302,2257.6L300,2257.6L298,2257.6L296,2257.7L294,2257.7L292,2257.7L290,2257.7L288,2257.8L286,2257.8L284,2257.8L282,2257.9L280,2257.9L278,2257.9L276,2257.9L274,2258L272,2258L270,2258L268,2258.1L266,2258.1L264,2258.1L262,2258.1L260,2258.2L258,2258.2L256,2258.2L254,2258.2L252,2258.3L250,2258.3L248,2258.3L246,2258.4L244,2258.4L242,2258.4L240,2258.4L238,2258.5Z" fill="url(#pv)"/>
<path d="M770,2240.2L772,2240L774,2239.8L776,2239.7L778,2239.5L780,2239.3L782,2239.1L784,2238.9L786,2238.7L788,2238.5L790,2238.2L792,2238L794,2237.7L796,2237.4L798,2237.1L800,2236.8L802,2236.5L804,2236.1L806,2235.7L808,2235.3L810,2234.9L812,2234.4L814,2233.9L816,2233.4L818,2232.8L820,2232.2L822,2231.7L824,2231L826,2230.3L828,2229.6L830,2228.8L832,2228L834,2227.1L836,2226.2L838,2225.2L840,2224.2L842,2223.1L844,2221.9L846,2220.7L848,2219.4L850,2218.1L852,2216.6L854,2215.2L856,2213.6L858,2212L860,2210.3L862,2208.6L864,2206.7L866,2204.9L868,2202.9L870,2200.9L872,2198.9L874,2196.7L876,2194.6L878,2192.4L880,2190.1L882,2187.8L884,2185.4L886,2183.1L888,2180.7L890,2178.2L892,2175.8L894,2173.3L896,2170.9L898,2168.4L900,2166L902,2163.5L904,2161.1L906,2158.7L908,2156.4L910,2154L912,2151.8L914,2149.5L916,2147.4L918,2145.3L920,2143.3L922,2141.4L924,2139.6L926,2137.8L928,2136.2L930,2134.7L932,2133.3L934,2132L936,2130.9L938,2129.9L940,2129L942,2128.3L944,2127.8L946,2127.3L948,2127.1L950,2127L952,2127L954,2127.2L956,2127.7L958,2128.2L960,2129L962,2129.9L964,2131L966,2132.2L968,2133.6L970,2135.1L972,2136.7L974,2138.4L976,2140.3L978,2142.3L980,2144.4L982,2146.5L984,2148.8L986,2151.1L988,2153.5L990,2155.9L992,2158.4L994,2160.9L996,2163.4L998,2165.9L1000,2168.5L1002,2171.1L1004,2173.6L1006,2176.2L1008,2178.7L1010,2181.2L1012,2183.7L1014,2186.1L1016,2188.5L1018,2190.9L1020,2193.1L1022,2195.4L1024,2197.5L1026,2199.6L1028,2201.7L1030,2203.7L1032,2205.6L1034,2207.4L1036,2209.1L1038,2210.8L1040,2212.4L1042,2213.9L1044,2215.4L1046,2216.7L1048,2218L1050,2219.2L1052,2220.4L1054,2221.5L1056,2222.5L1058,2223.5L1060,2224.3L1062,2225.2L1064,2226L1066,2226.7L1068,2227.3L1070,2228L1072,2228.5L1074,2229.1L1076,2229.6L1078,2230L1080,2230.4L1082,2230.8L1084,2231.1L1086,2231.5L1088,2231.7L1090,2232L1092,2232.3L1094,2232.5L1096,2232.7L1098,2232.9L1100,2233L1102,2233.2L1104,2233.3L1106,2233.4L1108,2233.5L1110,2233.6L1112,2233.7L1114,2233.8L1116,2233.9L1118,2234L1120,2234L1120,2236.5L1118,2236.5L1116,2236.5L1114,2236.6L1112,2236.6L1110,2236.6L1108,2236.6L1106,2236.7L1104,2236.7L1102,2236.7L1100,2236.7L1098,2236.7L1096,2236.8L1094,2236.8L1092,2236.8L1090,2236.8L1088,2236.8L1086,2236.9L1084,2236.9L1082,2236.9L1080,2236.9L1078,2237L1076,2237L1074,2237L1072,2237L1070,2237L1068,2237.1L1066,2237.1L1064,2237.1L1062,2237.1L1060,2237.2L1058,2237.2L1056,2237.2L1054,2237.2L1052,2237.2L1050,2237.3L1048,2237.3L1046,2237.3L1044,2237.3L1042,2237.3L1040,2237.4L1038,2237.4L1036,2237.4L1034,2237.4L1032,2237.5L1030,2237.5L1028,2237.5L1026,2237.5L1024,2237.5L1022,2237.6L1020,2237.6L1018,2237.6L1016,2237.6L1014,2237.6L1012,2237.7L1010,2237.7L1008,2237.7L1006,2237.7L1004,2237.8L1002,2237.8L1000,2237.8L998,2237.8L996,2237.8L994,2237.9L992,2237.9L990,2237.9L988,2237.9L986,2238L984,2238L982,2238L980,2238L978,2238L976,2238.1L974,2238.1L972,2238.1L970,2238.1L968,2238.1L966,2238.2L964,2238.2L962,2238.2L960,2238.2L958,2238.3L956,2238.3L954,2238.3L952,2238.3L950,2238.4L948,2238.4L946,2238.4L944,2238.5L942,2238.5L940,2238.6L938,2238.6L936,2238.6L934,2238.7L932,2238.7L930,2238.7L928,2238.8L926,2238.8L924,2238.9L922,2238.9L920,2238.9L918,2239L916,2239L914,2239L912,2239.1L910,2239.1L908,2239.2L906,2239.2L904,2239.2L902,2239.3L900,2239.3L898,2239.3L896,2239.4L894,2239.4L892,2239.5L890,2239.5L888,2239.5L886,2239.6L884,2239.6L882,2239.6L880,2239.7L878,2239.7L876,2239.8L874,2239.8L872,2239.8L870,2239.9L868,2239.9L866,2239.9L864,2240L862,2240L860,2240.1L858,2240.1L856,2240.1L854,2240.2L852,2240.2L850,2240.2L848,2240.3L846,2240.3L844,2240.4L842,2240.4L840,2240.4L838,2240.5L836,2240.5L834,2240.5L832,2240.6L830,2240.6L828,2240.7L826,2240.7L824,2240.7L822,2240.8L820,2240.8L818,2240.9L816,2241L814,2241L812,2241.1L810,2241.2L808,2241.3L806,2241.3L804,2241.4L802,2241.5L800,2241.6L798,2241.7L796,2241.7L794,2241.8L792,2241.9L790,2242L788,2242L786,2242.1L784,2242.2L782,2242.3L780,2242.4L778,2242.4L776,2242.5L774,2242.6L772,2242.7L770,2242.7Z" fill="#c8f2da" fill-opacity="0.5"/>
<path d="M770,2240.2L772,2240L774,2239.8L776,2239.7L778,2239.5L780,2239.3L782,2239.1L784,2238.9L786,2238.7L788,2238.5L790,2238.2L792,2238L794,2237.7L796,2237.4L798,2237.1L800,2236.8L802,2236.5L804,2236.1L806,2235.7L808,2235.3L810,2234.9L812,2234.4L814,2233.9L816,2233.4L818,2232.8L820,2232.2L822,2231.7L824,2231L826,2230.3L828,2229.6L830,2228.8L832,2228L834,2227.1L836,2226.2L838,2225.2L840,2224.2L842,2223.1L844,2221.9L846,2220.7L848,2219.4L850,2218.1L852,2216.6L854,2215.2L856,2213.6L858,2212L860,2210.3L862,2208.6L864,2206.7L866,2204.9L868,2202.9L870,2200.9L872,2198.9L874,2196.7L876,2194.6L878,2192.4L880,2190.1L882,2187.8L884,2185.4L886,2183.1L888,2180.7L890,2178.2L892,2175.8L894,2173.3L896,2170.9L898,2168.4L900,2166L902,2163.5L904,2161.1L906,2158.7L908,2156.4L910,2154L912,2151.8L914,2149.5L916,2147.4L918,2145.3L920,2143.3L922,2141.4L924,2139.6L926,2137.8L928,2136.2L930,2134.7L932,2133.3L934,2132L936,2130.9L938,2129.9L940,2129L942,2128.3L944,2127.8L946,2127.3L948,2127.1L950,2127L952,2127L954,2127.2L956,2127.7L958,2128.2L960,2129L962,2129.9L964,2131L966,2132.2L968,2133.6L970,2135.1L972,2136.7L974,2138.4L976,2140.3L978,2142.3L980,2144.4L982,2146.5L984,2148.8L986,2151.1L988,2153.5L990,2155.9L992,2158.4L994,2160.9L996,2163.4L998,2165.9L1000,2168.5L1002,2171.1L1004,2173.6L1006,2176.2L1008,2178.7L1010,2181.2L1012,2183.7L1014,2186.1L1016,2188.5L1018,2190.9L1020,2193.1L1022,2195.4L1024,2197.5L1026,2199.6L1028,2201.7L1030,2203.7L1032,2205.6L1034,2207.4L1036,2209.1L1038,2210.8L1040,2212.4L1042,2213.9L1044,2215.4L1046,2216.7L1048,2218L1050,2219.2L1052,2220.4L1054,2221.5L1056,2222.5L1058,2223.5L1060,2224.3L1062,2225.2L1064,2226L1066,2226.7L1068,2227.3L1070,2228L1072,2228.5L1074,2229.1L1076,2229.6L1078,2230L1080,2230.4L1082,2230.8L1084,2231.1L1086,2231.5L1088,2231.7L1090,2232L1092,2232.3L1094,2232.5L1096,2232.7L1098,2232.9L1100,2233L1102,2233.2L1104,2233.3L1106,2233.4L1108,2233.5L1110,2233.6L1112,2233.7L1114,2233.8L1116,2233.9L1118,2234L1120,2234L1120,2236.5L1118,2236.5L1116,2236.5L1114,2236.6L1112,2236.6L1110,2236.6L1108,2236.6L1106,2236.7L1104,2236.7L1102,2236.7L1100,2236.7L1098,2236.7L1096,2236.8L1094,2236.8L1092,2236.8L1090,2236.8L1088,2236.8L1086,2236.9L1084,2236.9L1082,2236.9L1080,2236.9L1078,2237L1076,2237L1074,2237L1072,2237L1070,2237L1068,2237.1L1066,2237.1L1064,2237.1L1062,2237.1L1060,2237.2L1058,2237.2L1056,2237.2L1054,2237.2L1052,2237.2L1050,2237.3L1048,2237.3L1046,2237.3L1044,2237.3L1042,2237.3L1040,2237.4L1038,2237.4L1036,2237.4L1034,2237.4L1032,2237.5L1030,2237.5L1028,2237.5L1026,2237.5L1024,2237.5L1022,2237.6L1020,2237.6L1018,2237.6L1016,2237.6L1014,2237.6L1012,2237.7L1010,2237.7L1008,2237.7L1006,2237.7L1004,2237.8L1002,2237.8L1000,2237.8L998,2237.8L996,2237.8L994,2237.9L992,2237.9L990,2237.9L988,2237.9L986,2238L984,2238L982,2238L980,2238L978,2238L976,2238.1L974,2238.1L972,2238.1L970,2238.1L968,2238.1L966,2238.2L964,2238.2L962,2238.2L960,2238.2L958,2238.3L956,2238.3L954,2238.3L952,2238.3L950,2238.4L948,2238.4L946,2238.4L944,2238.5L942,2238.5L940,2238.6L938,2238.6L936,2238.6L934,2238.7L932,2238.7L930,2238.7L928,2238.8L926,2238.8L924,2238.9L922,2238.9L920,2238.9L918,2239L916,2239L914,2239L912,2239.1L910,2239.1L908,2239.2L906,2239.2L904,2239.2L902,2239.3L900,2239.3L898,2239.3L896,2239.4L894,2239.4L892,2239.5L890,2239.5L888,2239.5L886,2239.6L884,2239.6L882,2239.6L880,2239.7L878,2239.7L876,2239.8L874,2239.8L872,2239.8L870,2239.9L868,2239.9L866,2239.9L864,2240L862,2240L860,2240.1L858,2240.1L856,2240.1L854,2240.2L852,2240.2L850,2240.2L848,2240.3L846,2240.3L844,2240.4L842,2240.4L840,2240.4L838,2240.5L836,2240.5L834,2240.5L832,2240.6L830,2240.6L828,2240.7L826,2240.7L824,2240.7L822,2240.8L820,2240.8L818,2240.9L816,2241L814,2241L812,2241.1L810,2241.2L808,2241.3L806,2241.3L804,2241.4L802,2241.5L800,2241.6L798,2241.7L796,2241.7L794,2241.8L792,2241.9L790,2242L788,2242L786,2242.1L784,2242.2L782,2242.3L780,2242.4L778,2242.4L776,2242.5L774,2242.6L772,2242.7L770,2242.7Z" fill="url(#pg)"/>
<path d="M860,2232.3L862,2232L864,2231.8L866,2231.5L868,2231.2L870,2231L872,2230.7L874,2230.4L876,2230.1L878,2229.7L880,2229.4L882,2229.1L884,2228.7L886,2228.4L888,2228L890,2227.6L892,2227.2L894,2226.8L896,2226.4L898,2225.9L900,2225.5L902,2225L904,2224.6L906,2224.1L908,2223.6L910,2223L912,2222.5L914,2222L916,2221.4L918,2220.8L920,2220.2L922,2219.6L924,2219L926,2218.3L928,2217.6L930,2216.9L932,2216.2L934,2215.5L936,2214.8L938,2214L940,2213.2L942,2212.4L944,2211.6L946,2210.7L948,2209.9L950,2209L952,2208L954,2207.1L956,2206.2L958,2205.2L960,2204.2L962,2203.2L964,2202.1L966,2201.1L968,2200L970,2198.9L972,2197.7L974,2196.6L976,2195.4L978,2194.2L980,2192.9L982,2191.7L984,2190.4L986,2189L988,2187.7L990,2186.3L992,2184.9L994,2183.5L996,2182.1L998,2180.6L1000,2179.1L1002,2177.6L1004,2176L1006,2174.4L1008,2172.8L1010,2171.2L1012,2169.6L1014,2167.9L1016,2166.2L1018,2164.5L1020,2162.7L1022,2160.9L1024,2159.1L1026,2157.3L1028,2155.5L1030,2153.6L1032,2151.7L1034,2149.8L1036,2147.9L1038,2145.9L1040,2143.9L1042,2141.9L1044,2139.9L1046,2137.9L1048,2135.8L1050,2133.7L1052,2131.6L1054,2129.5L1056,2127.4L1058,2125.3L1060,2123.1L1062,2120.9L1064,2118.7L1066,2116.5L1068,2114.3L1070,2112.1L1072,2109.8L1074,2107.6L1076,2105.3L1078,2103.1L1080,2100.8L1082,2098.5L1084,2096.2L1086,2093.9L1088,2091.6L1090,2089.3L1092,2086.9L1094,2084.6L1096,2082.3L1098,2080L1100,2077.6L1102,2075.3L1104,2073L1106,2070.7L1108,2068.4L1110,2066L1112,2063.7L1114,2061.4L1116,2059.1L1118,2056.8L1120,2054.5L1122,2052.3L1124,2050L1126,2047.8L1128,2045.5L1130,2043.3L1132,2041.1L1134,2038.9L1136,2036.7L1138,2034.6L1140,2032.4L1142,2030.3L1144,2028.2L1146,2026.1L1148,2024L1150,2022L1152,2019.9L1154,2017.9L1156,2016L1158,2014L1160,2012.1L1162,2010.2L1164,2008.3L1166,2006.5L1168,2004.6L1170,2002.9L1172,2001.1L1174,1999.4L1176,1997.7L1178,1996L1180,1994.4L1182,1992.8L1184,1991.3L1186,1989.8L1188,1988.3L1190,1986.8L1192,1985.4L1194,1984.1L1196,1982.8L1198,1981.5L1200,1980.2L1202,1979L1204,1977.9L1206,1976.8L1208,1975.7L1210,1974.7L1212,1973.7L1214,1972.8L1216,1971.9L1218,1971L1220,1970.3L1222,1969.5L1224,1968.8L1226,1968.2L1228,1967.6L1230,1967L1232,1966.5L1234,1966.1L1236,1965.7L1238,1965.3L1240,1965L1242,1964.7L1244,1964.5L1246,1964.4L1248,1964.3L1250,1964.3L1252,1964.3L1254,1964.3L1256,1964.4L1258,1964.6L1260,1964.8L1262,1965L1264,1965.3L1266,1965.7L1268,1966.1L1270,1966.5L1272,1967L1274,1967.6L1276,1968.2L1278,1968.9L1280,1969.6L1282,1970.3L1284,1971.1L1286,1971.9L1288,1972.8L1290,1973.7L1292,1974.7L1294,1975.7L1296,1976.8L1298,1977.9L1300,1979.1L1302,1980.3L1304,1981.5L1306,1982.8L1308,1984.1L1310,1985.5L1312,1986.9L1314,1988.3L1316,1989.8L1318,1991.3L1320,1992.8L1322,1994.4L1324,1996L1326,1997.7L1328,1999.4L1330,2001.1L1332,2002.8L1334,2004.6L1336,2006.4L1338,2008.3L1340,2010.1L1342,2012L1344,2013.9L1346,2015.9L1348,2017.9L1350,2019.8L1352,2021.9L1354,2023.9L1356,2026L1358,2028L1360,2030.1L1362,2032.3L1364,2034.4L1366,2036.6L1368,2038.7L1370,2040.9L1372,2043.1L1374,2045.3L1376,2047.5L1378,2049.8L1380,2052L1382,2054.3L1384,2056.5L1386,2058.8L1388,2061.1L1390,2063.4L1392,2065.7L1394,2068L1396,2070.3L1398,2072.5L1400,2074.8L1402,2077.1L1404,2079.5L1406,2081.7L1408,2084L1410,2086.3L1412,2088.6L1414,2090.9L1416,2093.2L1418,2095.5L1420,2097.7L1422,2100L1424,2102.3L1426,2104.5L1428,2106.7L1430,2109L1432,2111.2L1434,2113.4L1436,2115.6L1438,2117.7L1440,2119.9L1442,2122L1444,2124.2L1446,2126.3L1448,2128.4L1450,2130.5L1452,2132.5L1454,2134.6L1456,2136.6L1458,2138.7L1460,2140.7L1462,2142.6L1464,2144.6L1466,2146.6L1468,2148.5L1470,2150.4L1472,2152.2L1474,2154.1L1476,2155.9L1478,2157.7L1480,2159.5L1482,2161.3L1484,2163L1486,2164.7L1488,2166.4L1490,2168.1L1492,2169.7L1494,2171.3L1496,2172.9L1498,2174.4L1500,2176L1502,2177.5L1504,2179L1506,2180.4L1508,2181.8L1510,2183.3L1512,2184.6L1514,2186L1516,2187.3L1518,2188.6L1520,2189.9L1522,2191.1L1524,2192.4L1526,2193.6L1528,2194.7L1530,2195.9L1532,2197L1534,2198.1L1536,2199.2L1538,2200.2L1540,2201.3L1542,2202.3L1544,2203.2L1546,2204.2L1548,2205.1L1550,2206L1552,2206.9L1554,2207.8L1556,2208.6L1558,2209.5L1560,2210.3L1562,2211L1564,2211.8L1566,2212.5L1568,2213.3L1570,2214L1572,2214.6L1574,2215.3L1576,2216L1578,2216.6L1580,2217.2L1582,2217.8L1584,2218.3L1586,2218.9L1588,2219.4L1590,2220L1592,2220.5L1594,2221L1596,2221.4L1598,2221.9L1600,2222.4L1602,2222.8L1604,2223.3L1606,2223.7L1608,2224.1L1610,2224.6L1612,2225L1614,2225.3L1616,2225.7L1618,2226.1L1620,2226.4L1622,2226.8L1624,2227.1L1626,2227.5L1628,2227.8L1630,2228.1L1632,2228.4L1634,2228.7L1636,2228.9L1638,2229.2L1640,2229.5L1642,2229.7L1644,2230L1646,2230.2L1648,2230.5L1650,2230.7L1652,2230.9L1654,2231.1L1656,2231.3L1658,2231.5L1660,2231.7L1662,2231.9L1664,2232.1L1666,2232.3L1668,2232.5L1670,2232.6L1672,2232.8L1674,2233L1676,2233.1L1678,2233.3L1680,2233.4L1682,2233.6L1684,2233.7L1686,2233.9L1688,2234L1690,2234.1L1692,2234.3L1694,2234.4L1696,2234.5L1698,2234.6L1700,2234.8L1700,2238.8L1698,2238.7L1696,2238.7L1694,2238.6L1692,2238.6L1690,2238.6L1688,2238.5L1686,2238.5L1684,2238.4L1682,2238.4L1680,2238.3L1678,2238.3L1676,2238.2L1674,2238.2L1672,2238.1L1670,2238.1L1668,2238.1L1666,2238L1664,2238L1662,2237.9L1660,2237.9L1658,2237.8L1656,2237.8L1654,2237.7L1652,2237.7L1650,2237.6L1648,2237.6L1646,2237.6L1644,2237.5L1642,2237.5L1640,2237.4L1638,2237.4L1636,2237.3L1634,2237.3L1632,2237.2L1630,2237.2L1628,2237.1L1626,2237.1L1624,2237L1622,2237L1620,2237L1618,2236.9L1616,2236.9L1614,2236.8L1612,2236.8L1610,2236.7L1608,2236.7L1606,2236.6L1604,2236.6L1602,2236.5L1600,2236.5L1598,2236.5L1596,2236.5L1594,2236.5L1592,2236.4L1590,2236.4L1588,2236.4L1586,2236.4L1584,2236.4L1582,2236.4L1580,2236.4L1578,2236.4L1576,2236.3L1574,2236.3L1572,2236.3L1570,2236.3L1568,2236.3L1566,2236.3L1564,2236.3L1562,2236.2L1560,2236.2L1558,2236.2L1556,2236.2L1554,2236.2L1552,2236.2L1550,2236.2L1548,2236.2L1546,2236.1L1544,2236.1L1542,2236.1L1540,2236.1L1538,2236.1L1536,2236.1L1534,2236.1L1532,2236L1530,2236L1528,2236L1526,2236L1524,2236L1522,2236L1520,2236L1518,2236L1516,2235.9L1514,2235.9L1512,2235.9L1510,2235.9L1508,2235.9L1506,2235.9L1504,2235.9L1502,2235.8L1500,2235.8L1498,2235.8L1496,2235.8L1494,2235.8L1492,2235.8L1490,2235.8L1488,2235.8L1486,2235.7L1484,2235.7L1482,2235.7L1480,2235.7L1478,2235.7L1476,2235.7L1474,2235.7L1472,2235.6L1470,2235.6L1468,2235.6L1466,2235.6L1464,2235.6L1462,2235.6L1460,2235.6L1458,2235.6L1456,2235.5L1454,2235.5L1452,2235.5L1450,2235.5L1448,2235.5L1446,2235.5L1444,2235.5L1442,2235.5L1440,2235.5L1438,2235.5L1436,2235.5L1434,2235.5L1432,2235.6L1430,2235.6L1428,2235.6L1426,2235.6L1424,2235.6L1422,2235.6L1420,2235.6L1418,2235.6L1416,2235.6L1414,2235.6L1412,2235.6L1410,2235.6L1408,2235.6L1406,2235.6L1404,2235.6L1402,2235.6L1400,2235.7L1398,2235.7L1396,2235.7L1394,2235.7L1392,2235.7L1390,2235.7L1388,2235.7L1386,2235.7L1384,2235.7L1382,2235.7L1380,2235.7L1378,2235.7L1376,2235.7L1374,2235.7L1372,2235.7L1370,2235.7L1368,2235.7L1366,2235.8L1364,2235.8L1362,2235.8L1360,2235.8L1358,2235.8L1356,2235.8L1354,2235.8L1352,2235.8L1350,2235.8L1348,2235.8L1346,2235.8L1344,2235.8L1342,2235.8L1340,2235.8L1338,2235.8L1336,2235.8L1334,2235.9L1332,2235.9L1330,2235.9L1328,2235.9L1326,2235.9L1324,2235.9L1322,2235.9L1320,2235.9L1318,2235.9L1316,2235.9L1314,2235.9L1312,2235.9L1310,2235.9L1308,2235.9L1306,2235.9L1304,2235.9L1302,2235.9L1300,2236L1298,2236L1296,2236L1294,2236L1292,2236L1290,2236L1288,2236L1286,2236L1284,2236L1282,2236L1280,2236L1278,2236L1276,2236L1274,2236L1272,2236L1270,2236L1268,2236.1L1266,2236.1L1264,2236.1L1262,2236.1L1260,2236.1L1258,2236.1L1256,2236.1L1254,2236.1L1252,2236.1L1250,2236.1L1248,2236.1L1246,2236.1L1244,2236.1L1242,2236.1L1240,2236.1L1238,2236.1L1236,2236.1L1234,2236.2L1232,2236.2L1230,2236.2L1228,2236.2L1226,2236.2L1224,2236.2L1222,2236.2L1220,2236.2L1218,2236.2L1216,2236.2L1214,2236.2L1212,2236.2L1210,2236.2L1208,2236.2L1206,2236.2L1204,2236.2L1202,2236.3L1200,2236.3L1198,2236.3L1196,2236.3L1194,2236.3L1192,2236.3L1190,2236.3L1188,2236.3L1186,2236.3L1184,2236.3L1182,2236.3L1180,2236.3L1178,2236.3L1176,2236.3L1174,2236.3L1172,2236.3L1170,2236.3L1168,2236.4L1166,2236.4L1164,2236.4L1162,2236.4L1160,2236.4L1158,2236.4L1156,2236.4L1154,2236.4L1152,2236.4L1150,2236.4L1148,2236.4L1146,2236.4L1144,2236.4L1142,2236.4L1140,2236.4L1138,2236.4L1136,2236.5L1134,2236.5L1132,2236.5L1130,2236.5L1128,2236.5L1126,2236.5L1124,2236.5L1122,2236.5L1120,2236.5L1118,2236.5L1116,2236.5L1114,2236.6L1112,2236.6L1110,2236.6L1108,2236.6L1106,2236.7L1104,2236.7L1102,2236.7L1100,2236.7L1098,2236.7L1096,2236.8L1094,2236.8L1092,2236.8L1090,2236.8L1088,2236.8L1086,2236.9L1084,2236.9L1082,2236.9L1080,2236.9L1078,2237L1076,2237L1074,2237L1072,2237L1070,2237L1068,2237.1L1066,2237.1L1064,2237.1L1062,2237.1L1060,2237.2L1058,2237.2L1056,2237.2L1054,2237.2L1052,2237.2L1050,2237.3L1048,2237.3L1046,2237.3L1044,2237.3L1042,2237.3L1040,2237.4L1038,2237.4L1036,2237.4L1034,2237.4L1032,2237.5L1030,2237.5L1028,2237.5L1026,2237.5L1024,2237.5L1022,2237.6L1020,2237.6L1018,2237.6L1016,2237.6L1014,2237.6L1012,2237.7L1010,2237.7L1008,2237.7L1006,2237.7L1004,2237.8L1002,2237.8L1000,2237.8L998,2237.8L996,2237.8L994,2237.9L992,2237.9L990,2237.9L988,2237.9L986,2238L984,2238L982,2238L980,2238L978,2238L976,2238.1L974,2238.1L972,2238.1L970,2238.1L968,2238.1L966,2238.2L964,2238.2L962,2238.2L960,2238.2L958,2238.3L956,2238.3L954,2238.3L952,2238.3L950,2238.4L948,2238.4L946,2238.4L944,2238.5L942,2238.5L940,2238.6L938,2238.6L936,2238.6L934,2238.7L932,2238.7L930,2238.7L928,2238.8L926,2238.8L924,2238.9L922,2238.9L920,2238.9L918,2239L916,2239L914,2239L912,2239.1L910,2239.1L908,2239.2L906,2239.2L904,2239.2L902,2239.3L900,2239.3L898,2239.3L896,2239.4L894,2239.4L892,2239.5L890,2239.5L888,2239.5L886,2239.6L884,2239.6L882,2239.6L880,2239.7L878,2239.7L876,2239.8L874,2239.8L872,2239.8L870,2239.9L868,2239.9L866,2239.9L864,2240L862,2240L860,2240.1Z" fill="url(#py)"/>
<path d="M1000,2231.5L1002,2231.4L1004,2231.4L1006,2231.3L1008,2231.2L1010,2231.1L1012,2231L1014,2231L1016,2230.9L1018,2230.8L1020,2230.7L1022,2230.6L1024,2230.5L1026,2230.5L1028,2230.4L1030,2230.3L1032,2230.2L1034,2230.1L1036,2230L1038,2229.9L1040,2229.8L1042,2229.7L1044,2229.6L1046,2229.5L1048,2229.4L1050,2229.3L1052,2229.2L1054,2229.1L1056,2229L1058,2228.9L1060,2228.8L1062,2228.7L1064,2228.6L1066,2228.5L1068,2228.4L1070,2228.3L1072,2228.2L1074,2228L1076,2227.9L1078,2227.8L1080,2227.7L1082,2227.6L1084,2227.5L1086,2227.3L1088,2227.2L1090,2227.1L1092,2226.9L1094,2226.8L1096,2226.7L1098,2226.6L1100,2226.4L1102,2226.3L1104,2226.1L1106,2226L1108,2225.9L1110,2225.7L1112,2225.6L1114,2225.4L1116,2225.3L1118,2225.1L1120,2224.9L1122,2224.8L1124,2224.7L1126,2224.5L1128,2224.4L1130,2224.2L1132,2224L1134,2223.9L1136,2223.7L1138,2223.6L1140,2223.4L1142,2223.2L1144,2223L1146,2222.9L1148,2222.7L1150,2222.5L1152,2222.3L1154,2222.1L1156,2221.9L1158,2221.7L1160,2221.5L1162,2221.3L1164,2221.1L1166,2220.9L1168,2220.7L1170,2220.4L1172,2220.2L1174,2220L1176,2219.7L1178,2219.5L1180,2219.2L1182,2219L1184,2218.7L1186,2218.5L1188,2218.2L1190,2217.9L1192,2217.6L1194,2217.3L1196,2217L1198,2216.7L1200,2216.4L1202,2216.1L1204,2215.8L1206,2215.4L1208,2215.1L1210,2214.7L1212,2214.3L1214,2214L1216,2213.6L1218,2213.2L1220,2212.7L1222,2212.3L1224,2211.8L1226,2211.4L1228,2210.9L1230,2210.3L1232,2209.8L1234,2209.2L1236,2208.6L1238,2208L1240,2207.3L1242,2206.6L1244,2205.9L1246,2205.1L1248,2204.3L1250,2203.4L1252,2202.5L1254,2201.5L1256,2200.5L1258,2199.4L1260,2198.2L1262,2196.9L1264,2195.5L1266,2194L1268,2192.5L1270,2190.8L1272,2189L1274,2187.1L1276,2185L1278,2182.8L1280,2180.4L1282,2177.9L1284,2175.2L1286,2172.3L1288,2169.2L1290,2165.9L1292,2162.3L1294,2158.6L1296,2154.6L1298,2150.3L1300,2145.8L1302,2141.1L1304,2136L1306,2130.7L1308,2125L1310,2119.1L1312,2112.9L1314,2106.3L1316,2099.4L1318,2092.3L1320,2084.7L1322,2076.9L1324,2068.8L1326,2060.3L1328,2051.5L1330,2042.4L1332,2033L1334,2023.3L1336,2013.3L1338,2003L1340,1992.5L1342,1981.6L1344,1970.5L1346,1959.2L1348,1947.6L1350,1935.9L1352,1923.9L1354,1911.7L1356,1899.4L1358,1886.9L1360,1874.3L1362,1861.6L1364,1848.8L1366,1835.9L1368,1823L1370,1810L1372,1797.1L1374,1784.1L1376,1771.2L1378,1758.4L1380,1745.6L1382,1732.9L1384,1720.4L1386,1708L1388,1695.9L1390,1683.9L1392,1672.1L1394,1660.7L1396,1649.4L1398,1638.5L1400,1628L1402,1617.8L1404,1608L1406,1598.5L1408,1589.6L1410,1581L1412,1573L1414,1565.5L1416,1558.5L1418,1552.1L1420,1546.2L1422,1540.9L1424,1536.3L1426,1532.3L1428,1528.9L1430,1526.2L1432,1524.1L1434,1522.8L1436,1522.1L1438,1522.1L1440,1522.8L1442,1524.2L1444,1526.2L1446,1528.9L1448,1532.3L1450,1536.3L1452,1540.9L1454,1546.1L1456,1551.9L1458,1558.3L1460,1565.3L1462,1572.8L1464,1580.7L1466,1589.2L1468,1598.1L1470,1607.5L1472,1617.2L1474,1627.3L1476,1637.8L1478,1648.7L1480,1659.8L1482,1671.2L1484,1682.9L1486,1694.8L1488,1706.9L1490,1719.2L1492,1731.6L1494,1744.2L1496,1756.9L1498,1769.7L1500,1782.5L1502,1795.4L1504,1808.3L1506,1821.2L1508,1834.1L1510,1846.9L1512,1859.6L1514,1872.3L1516,1884.9L1518,1897.3L1520,1909.6L1522,1921.7L1524,1933.7L1526,1945.5L1528,1957L1530,1968.3L1532,1979.4L1534,1990.3L1536,2000.8L1538,2011.1L1540,2021.2L1542,2030.9L1544,2040.3L1546,2049.5L1548,2058.3L1550,2066.8L1552,2075L1554,2082.9L1556,2090.4L1558,2097.7L1560,2104.6L1562,2111.2L1564,2117.5L1566,2123.5L1568,2129.3L1570,2134.7L1572,2139.8L1574,2144.6L1576,2149.2L1578,2153.5L1580,2157.6L1582,2161.4L1584,2165L1586,2168.4L1588,2171.6L1590,2174.5L1592,2177.3L1594,2179.9L1596,2182.3L1598,2184.6L1600,2186.7L1602,2188.7L1604,2190.6L1606,2192.3L1608,2194L1610,2195.5L1612,2196.9L1614,2198.3L1616,2199.5L1618,2200.7L1620,2201.8L1622,2202.9L1624,2203.9L1626,2204.8L1628,2205.7L1630,2206.5L1632,2207.3L1634,2208L1636,2208.8L1638,2209.4L1640,2210.1L1642,2210.7L1644,2211.3L1646,2211.9L1648,2212.4L1650,2212.9L1652,2213.4L1654,2213.9L1656,2214.4L1658,2214.8L1660,2215.3L1662,2215.7L1664,2216.1L1666,2216.5L1668,2216.9L1670,2217.3L1672,2217.7L1674,2218L1676,2218.4L1678,2218.7L1680,2219.1L1682,2219.4L1684,2219.7L1686,2220.1L1688,2220.4L1690,2220.7L1692,2221L1694,2221.3L1696,2221.6L1698,2221.9L1700,2222.1L1702,2222.4L1704,2222.7L1706,2222.9L1708,2223.2L1710,2223.5L1712,2223.7L1714,2224L1716,2224.2L1718,2224.4L1720,2224.7L1722,2224.9L1724,2225.1L1726,2225.4L1728,2225.6L1730,2225.8L1732,2226L1734,2226.2L1736,2226.4L1738,2226.7L1740,2226.9L1742,2227.1L1744,2227.3L1746,2227.4L1748,2227.6L1750,2227.8L1752,2228L1754,2228.2L1756,2228.4L1758,2228.6L1760,2228.7L1762,2228.9L1764,2229.1L1766,2229.3L1768,2229.4L1770,2229.6L1772,2229.8L1774,2229.9L1776,2230.1L1778,2230.3L1780,2230.4L1782,2230.6L1784,2230.7L1786,2230.9L1788,2231L1790,2231.2L1792,2231.3L1794,2231.5L1796,2231.6L1798,2231.8L1800,2231.9L1802,2232L1804,2232.2L1806,2232.3L1808,2232.4L1810,2232.6L1812,2232.7L1814,2232.8L1816,2233L1818,2233.1L1820,2233.2L1822,2233.4L1824,2233.5L1826,2233.6L1828,2233.7L1830,2233.9L1832,2234L1834,2234.1L1836,2234.2L1838,2234.3L1840,2234.4L1842,2234.6L1844,2234.7L1846,2234.8L1848,2234.9L1850,2235L1852,2235.1L1854,2235.2L1856,2235.3L1858,2235.5L1860,2235.6L1862,2235.7L1864,2235.8L1866,2235.9L1868,2236L1870,2236.1L1872,2236.2L1874,2236.3L1876,2236.4L1878,2236.5L1880,2236.6L1882,2236.7L1884,2236.8L1886,2236.9L1888,2237L1890,2237.1L1892,2237.2L1894,2237.3L1896,2237.4L1898,2237.5L1900,2237.6L1902,2237.7L1904,2237.7L1906,2237.8L1908,2237.9L1910,2238L1912,2238.1L1914,2238.2L1916,2238.3L1918,2238.4L1920,2238.5L1922,2238.6L1924,2238.6L1926,2238.7L1928,2238.8L1930,2238.9L1932,2239L1934,2239.1L1936,2239.2L1938,2239.2L1940,2239.3L1942,2239.4L1944,2239.5L1946,2239.6L1948,2239.7L1950,2239.8L1952,2240L1954,2240.1L1956,2240.2L1958,2240.3L1960,2240.5L1962,2240.6L1964,2240.7L1966,2240.9L1968,2241L1970,2241.1L1972,2241.2L1974,2241.4L1976,2241.5L1978,2241.6L1980,2241.7L1982,2241.9L1984,2242L1986,2242.1L1988,2242.2L1990,2242.4L1992,2242.5L1994,2242.6L1996,2242.7L1998,2242.9L2000,2243L2002,2243.1L2004,2243.2L2006,2243.3L2008,2243.5L2010,2243.6L2012,2243.7L2014,2243.8L2016,2243.9L2018,2244.1L2020,2244.2L2022,2244.3L2024,2244.4L2026,2244.5L2028,2244.7L2030,2244.8L2032,2244.9L2034,2245L2036,2245.1L2038,2245.3L2040,2245.4L2042,2245.5L2044,2245.6L2046,2245.7L2048,2245.8L2050,2246L2052,2246.1L2054,2246.2L2056,2246.3L2058,2246.4L2060,2246.5L2062,2246.6L2064,2246.8L2066,2246.9L2068,2247L2070,2247.1L2072,2247.2L2074,2247.3L2076,2247.4L2078,2247.6L2080,2247.7L2082,2247.8L2084,2247.9L2086,2248L2088,2248.1L2090,2248.2L2092,2248.4L2094,2248.5L2096,2248.6L2098,2248.7L2100,2248.8L2102,2248.9L2104,2249L2106,2249.1L2108,2249.3L2110,2249.4L2112,2249.5L2114,2249.6L2116,2249.7L2118,2249.8L2120,2249.9L2122,2250L2124,2250.1L2126,2250.3L2128,2250.4L2130,2250.5L2132,2250.6L2134,2250.7L2136,2250.8L2138,2250.9L2140,2251L2142,2251.1L2144,2251.2L2146,2251.4L2148,2251.5L2150,2251.6L2152,2251.7L2154,2251.8L2156,2251.9L2158,2252L2160,2252.1L2162,2252.2L2164,2252.3L2166,2252.4L2168,2252.5L2170,2252.7L2172,2252.8L2174,2252.9L2176,2253L2178,2253.1L2180,2253.2L2182,2253.3L2184,2253.4L2186,2253.5L2188,2253.6L2190,2253.7L2192,2253.8L2194,2253.9L2196,2254L2198,2254.2L2200,2254.3L2202,2254.4L2204,2254.5L2206,2254.6L2208,2254.7L2210,2254.8L2212,2254.9L2214,2255L2216,2255.1L2218,2255.2L2220,2255.3L2222,2255.4L2224,2255.5L2226,2255.6L2228,2255.7L2230,2255.9L2232,2256L2234,2256.1L2236,2256.2L2238,2256.3L2240,2256.4L2242,2256.5L2244,2256.6L2246,2256.7L2248,2256.8L2250,2256.9L2252,2257L2254,2257.1L2256,2257.2L2258,2257.3L2260,2257.4L2262,2257.5L2264,2257.6L2266,2257.7L2268,2257.8L2270,2257.9L2272,2258.1L2274,2258.2L2276,2258.3L2278,2258.4L2280,2258.5L2282,2258.6L2284,2258.7L2286,2258.8L2288,2258.9L2290,2259L2292,2259.1L2294,2259.2L2296,2259.3L2298,2259.4L2300,2259.5L2302,2259.6L2304,2259.7L2306,2259.8L2308,2259.9L2310,2260L2312,2260.1L2312,2261.9L2310,2261.8L2308,2261.7L2306,2261.6L2304,2261.5L2302,2261.4L2300,2261.3L2298,2261.2L2296,2261.1L2294,2261L2292,2260.9L2290,2260.9L2288,2260.8L2286,2260.7L2284,2260.6L2282,2260.5L2280,2260.4L2278,2260.3L2276,2260.2L2274,2260.1L2272,2260L2270,2259.9L2268,2259.8L2266,2259.7L2264,2259.6L2262,2259.5L2260,2259.4L2258,2259.3L2256,2259.2L2254,2259.1L2252,2259L2250,2258.9L2248,2258.8L2246,2258.7L2244,2258.7L2242,2258.6L2240,2258.5L2238,2258.4L2236,2258.3L2234,2258.2L2232,2258.1L2230,2258L2228,2257.9L2226,2257.8L2224,2257.7L2222,2257.6L2220,2257.5L2218,2257.4L2216,2257.3L2214,2257.2L2212,2257.1L2210,2257L2208,2256.9L2206,2256.8L2204,2256.7L2202,2256.6L2200,2256.5L2198,2256.5L2196,2256.4L2194,2256.3L2192,2256.2L2190,2256.1L2188,2256L2186,2255.9L2184,2255.8L2182,2255.7L2180,2255.6L2178,2255.5L2176,2255.4L2174,2255.3L2172,2255.2L2170,2255.1L2168,2255L2166,2254.9L2164,2254.8L2162,2254.7L2160,2254.6L2158,2254.5L2156,2254.4L2154,2254.3L2152,2254.3L2150,2254.2L2148,2254.1L2146,2254L2144,2253.9L2142,2253.8L2140,2253.7L2138,2253.6L2136,2253.5L2134,2253.4L2132,2253.3L2130,2253.2L2128,2253.1L2126,2253L2124,2252.9L2122,2252.8L2120,2252.7L2118,2252.6L2116,2252.5L2114,2252.4L2112,2252.3L2110,2252.2L2108,2252.1L2106,2252.1L2104,2252L2102,2251.9L2100,2251.8L2098,2251.7L2096,2251.6L2094,2251.5L2092,2251.4L2090,2251.3L2088,2251.2L2086,2251.1L2084,2251L2082,2250.9L2080,2250.8L2078,2250.7L2076,2250.6L2074,2250.5L2072,2250.4L2070,2250.3L2068,2250.2L2066,2250.1L2064,2250L2062,2249.9L2060,2249.9L2058,2249.8L2056,2249.7L2054,2249.6L2052,2249.5L2050,2249.4L2048,2249.3L2046,2249.2L2044,2249.1L2042,2249L2040,2248.9L2038,2248.8L2036,2248.7L2034,2248.6L2032,2248.5L2030,2248.4L2028,2248.3L2026,2248.2L2024,2248.1L2022,2248L2020,2247.9L2018,2247.8L2016,2247.7L2014,2247.7L2012,2247.6L2010,2247.5L2008,2247.4L2006,2247.3L2004,2247.2L2002,2247.1L2000,2247L1998,2246.9L1996,2246.8L1994,2246.7L1992,2246.6L1990,2246.5L1988,2246.4L1986,2246.3L1984,2246.2L1982,2246.1L1980,2246L1978,2245.9L1976,2245.8L1974,2245.7L1972,2245.6L1970,2245.5L1968,2245.5L1966,2245.4L1964,2245.3L1962,2245.2L1960,2245.1L1958,2245L1956,2244.9L1954,2244.8L1952,2244.7L1950,2244.6L1948,2244.5L1946,2244.4L1944,2244.4L1942,2244.3L1940,2244.3L1938,2244.2L1936,2244.2L1934,2244.1L1932,2244.1L1930,2244L1928,2244L1926,2243.9L1924,2243.9L1922,2243.9L1920,2243.8L1918,2243.8L1916,2243.7L1914,2243.7L1912,2243.6L1910,2243.6L1908,2243.5L1906,2243.5L1904,2243.4L1902,2243.4L1900,2243.3L1898,2243.3L1896,2243.3L1894,2243.2L1892,2243.2L1890,2243.1L1888,2243.1L1886,2243L1884,2243L1882,2242.9L1880,2242.9L1878,2242.8L1876,2242.8L1874,2242.8L1872,2242.7L1870,2242.7L1868,2242.6L1866,2242.6L1864,2242.5L1862,2242.5L1860,2242.4L1858,2242.4L1856,2242.3L1854,2242.3L1852,2242.3L1850,2242.2L1848,2242.2L1846,2242.1L1844,2242.1L1842,2242L1840,2242L1838,2241.9L1836,2241.9L1834,2241.8L1832,2241.8L1830,2241.8L1828,2241.7L1826,2241.7L1824,2241.6L1822,2241.6L1820,2241.5L1818,2241.5L1816,2241.4L1814,2241.4L1812,2241.3L1810,2241.3L1808,2241.2L1806,2241.2L1804,2241.2L1802,2241.1L1800,2241.1L1798,2241L1796,2241L1794,2240.9L1792,2240.9L1790,2240.8L1788,2240.8L1786,2240.7L1784,2240.7L1782,2240.7L1780,2240.6L1778,2240.6L1776,2240.5L1774,2240.5L1772,2240.4L1770,2240.4L1768,2240.3L1766,2240.3L1764,2240.2L1762,2240.2L1760,2240.2L1758,2240.1L1756,2240.1L1754,2240L1752,2240L1750,2239.9L1748,2239.9L1746,2239.8L1744,2239.8L1742,2239.7L1740,2239.7L1738,2239.7L1736,2239.6L1734,2239.6L1732,2239.5L1730,2239.5L1728,2239.4L1726,2239.4L1724,2239.3L1722,2239.3L1720,2239.2L1718,2239.2L1716,2239.1L1714,2239.1L1712,2239.1L1710,2239L1708,2239L1706,2238.9L1704,2238.9L1702,2238.8L1700,2238.8L1698,2238.7L1696,2238.7L1694,2238.6L1692,2238.6L1690,2238.6L1688,2238.5L1686,2238.5L1684,2238.4L1682,2238.4L1680,2238.3L1678,2238.3L1676,2238.2L1674,2238.2L1672,2238.1L1670,2238.1L1668,2238.1L1666,2238L1664,2238L1662,2237.9L1660,2237.9L1658,2237.8L1656,2237.8L1654,2237.7L1652,2237.7L1650,2237.6L1648,2237.6L1646,2237.6L1644,2237.5L1642,2237.5L1640,2237.4L1638,2237.4L1636,2237.3L1634,2237.3L1632,2237.2L1630,2237.2L1628,2237.1L1626,2237.1L1624,2237L1622,2237L1620,2237L1618,2236.9L1616,2236.9L1614,2236.8L1612,2236.8L1610,2236.7L1608,2236.7L1606,2236.6L1604,2236.6L1602,2236.5L1600,2236.5L1598,2236.5L1596,2236.5L1594,2236.5L1592,2236.4L1590,2236.4L1588,2236.4L1586,2236.4L1584,2236.4L1582,2236.4L1580,2236.4L1578,2236.4L1576,2236.3L1574,2236.3L1572,2236.3L1570,2236.3L1568,2236.3L1566,2236.3L1564,2236.3L1562,2236.2L1560,2236.2L1558,2236.2L1556,2236.2L1554,2236.2L1552,2236.2L1550,2236.2L1548,2236.2L1546,2236.1L1544,2236.1L1542,2236.1L1540,2236.1L1538,2236.1L1536,2236.1L1534,2236.1L1532,2236L1530,2236L1528,2236L1526,2236L1524,2236L1522,2236L1520,2236L1518,2236L1516,2235.9L1514,2235.9L1512,2235.9L1510,2235.9L1508,2235.9L1506,2235.9L1504,2235.9L1502,2235.8L1500,2235.8L1498,2235.8L1496,2235.8L1494,2235.8L1492,2235.8L1490,2235.8L1488,2235.8L1486,2235.7L1484,2235.7L1482,2235.7L1480,2235.7L1478,2235.7L1476,2235.7L1474,2235.7L1472,2235.6L1470,2235.6L1468,2235.6L1466,2235.6L1464,2235.6L1462,2235.6L1460,2235.6L1458,2235.6L1456,2235.5L1454,2235.5L1452,2235.5L1450,2235.5L1448,2235.5L1446,2235.5L1444,2235.5L1442,2235.5L1440,2235.5L1438,2235.5L1436,2235.5L1434,2235.5L1432,2235.6L1430,2235.6L1428,2235.6L1426,2235.6L1424,2235.6L1422,2235.6L1420,2235.6L1418,2235.6L1416,2235.6L1414,2235.6L1412,2235.6L1410,2235.6L1408,2235.6L1406,2235.6L1404,2235.6L1402,2235.6L1400,2235.7L1398,2235.7L1396,2235.7L1394,2235.7L1392,2235.7L1390,2235.7L1388,2235.7L1386,2235.7L1384,2235.7L1382,2235.7L1380,2235.7L1378,2235.7L1376,2235.7L1374,2235.7L1372,2235.7L1370,2235.7L1368,2235.7L1366,2235.8L1364,2235.8L1362,2235.8L1360,2235.8L1358,2235.8L1356,2235.8L1354,2235.8L1352,2235.8L1350,2235.8L1348,2235.8L1346,2235.8L1344,2235.8L1342,2235.8L1340,2235.8L1338,2235.8L1336,2235.8L1334,2235.9L1332,2235.9L1330,2235.9L1328,2235.9L1326,2235.9L1324,2235.9L1322,2235.9L1320,2235.9L1318,2235.9L1316,2235.9L1314,2235.9L1312,2235.9L1310,2235.9L1308,2235.9L1306,2235.9L1304,2235.9L1302,2235.9L1300,2236L1298,2236L1296,2236L1294,2236L1292,2236L1290,2236L1288,2236L1286,2236L1284,2236L1282,2236L1280,2236L1278,2236L1276,2236L1274,2236L1272,2236L1270,2236L1268,2236.1L1266,2236.1L1264,2236.1L1262,2236.1L1260,2236.1L1258,2236.1L1256,2236.1L1254,2236.1L1252,2236.1L1250,2236.1L1248,2236.1L1246,2236.1L1244,2236.1L1242,2236.1L1240,2236.1L1238,2236.1L1236,2236.1L1234,2236.2L1232,2236.2L1230,2236.2L1228,2236.2L1226,2236.2L1224,2236.2L1222,2236.2L1220,2236.2L1218,2236.2L1216,2236.2L1214,2236.2L1212,2236.2L1210,2236.2L1208,2236.2L1206,2236.2L1204,2236.2L1202,2236.3L1200,2236.3L1198,2236.3L1196,2236.3L1194,2236.3L1192,2236.3L1190,2236.3L1188,2236.3L1186,2236.3L1184,2236.3L1182,2236.3L1180,2236.3L1178,2236.3L1176,2236.3L1174,2236.3L1172,2236.3L1170,2236.3L1168,2236.4L1166,2236.4L1164,2236.4L1162,2236.4L1160,2236.4L1158,2236.4L1156,2236.4L1154,2236.4L1152,2236.4L1150,2236.4L1148,2236.4L1146,2236.4L1144,2236.4L1142,2236.4L1140,2236.4L1138,2236.4L1136,2236.5L1134,2236.5L1132,2236.5L1130,2236.5L1128,2236.5L1126,2236.5L1124,2236.5L1122,2236.5L1120,2236.5L1118,2236.5L1116,2236.5L1114,2236.6L1112,2236.6L1110,2236.6L1108,2236.6L1106,2236.7L1104,2236.7L1102,2236.7L1100,2236.7L1098,2236.7L1096,2236.8L1094,2236.8L1092,2236.8L1090,2236.8L1088,2236.8L1086,2236.9L1084,2236.9L1082,2236.9L1080,2236.9L1078,2237L1076,2237L1074,2237L1072,2237L1070,2237L1068,2237.1L1066,2237.1L1064,2237.1L1062,2237.1L1060,2237.2L1058,2237.2L1056,2237.2L1054,2237.2L1052,2237.2L1050,2237.3L1048,2237.3L1046,2237.3L1044,2237.3L1042,2237.3L1040,2237.4L1038,2237.4L1036,2237.4L1034,2237.4L1032,2237.5L1030,2237.5L1028,2237.5L1026,2237.5L1024,2237.5L1022,2237.6L1020,2237.6L1018,2237.6L1016,2237.6L1014,2237.6L1012,2237.7L1010,2237.7L1008,2237.7L1006,2237.7L1004,2237.8L1002,2237.8L1000,2237.8Z" fill="url(#pr)"/>
<path d="M238,2258.5L242,2258.4L246,2258.4L250,2258.3L254,2258.2L258,2258.2L262,2258.1L266,2258.1L270,2258L274,2258L278,2257.9L282,2257.9L286,2257.8L290,2257.7L294,2257.7L298,2257.6L302,2257.6L306,2257.5L310,2257.5L314,2257.4L318,2257.3L322,2257.3L326,2257.2L330,2257.2L334,2257.1L338,2257.1L342,2257L346,2257L350,2256.9L354,2256.8L358,2256.8L362,2256.7L366,2256.6L370,2256.5L374,2256.4L378,2256.3L382,2256.2L386,2256.1L390,2256L394,2255.9L398,2255.8L402,2255.7L406,2255.6L410,2255.5L414,2255.4L418,2255.2L422,2255.1L426,2255L430,2254.9L434,2254.8L438,2254.7L442,2254.6L446,2254.5L450,2254.4L454,2254.3L458,2254.2L462,2254.1L466,2254L470,2253.9L474,2253.7L478,2253.6L482,2253.5L486,2253.4L490,2253.3L494,2253.2L498,2253.1L502,2252.9L506,2252.8L510,2252.7L514,2252.5L518,2252.4L522,2252.2L526,2252.1L530,2251.9L534,2251.8L538,2251.6L542,2251.5L546,2251.3L550,2251.2L554,2251L558,2250.9L562,2250.7L566,2250.6L570,2250.4L574,2250.3L578,2250.1L582,2250L586,2249.8L590,2249.7L594,2249.5L598,2249.4L602,2249.2L606,2249.1L610,2248.9L614,2248.8L618,2248.6L622,2248.5L626,2248.3L630,2248.2L634,2248L638,2247.9L642,2247.7L646,2247.6L650,2247.4L654,2247.3L658,2247.1L662,2247L666,2246.8L670,2246.6L674,2246.5L678,2246.3L682,2246.2L686,2246L690,2245.9L694,2245.7L698,2245.6L702,2245.4L706,2245.2L710,2245.1L714,2244.9L718,2244.8L722,2244.6L726,2244.5L730,2244.3L734,2244.1L738,2244L742,2243.8L746,2243.7L750,2243.5L754,2243.4L758,2243.2L762,2243.1L766,2242.9L770,2242.7L774,2242.6L778,2242.4L782,2242.3L786,2242.1L790,2242L794,2241.8L798,2241.7L802,2241.5L806,2241.3L810,2241.2L814,2241L818,2240.9L822,2240.8L826,2240.7L830,2240.6L834,2240.5L838,2240.5L842,2240.4L846,2240.3L850,2240.2L854,2240.2L858,2240.1L862,2240L866,2239.9L870,2239.9L874,2239.8L878,2239.7L882,2239.6L886,2239.6L890,2239.5L894,2239.4L898,2239.3L902,2239.3L906,2239.2L910,2239.1L914,2239L918,2239L922,2238.9L926,2238.8L930,2238.7L934,2238.7L938,2238.6L942,2238.5L946,2238.4L950,2238.4L954,2238.3L958,2238.3L962,2238.2L966,2238.2L970,2238.1L974,2238.1L978,2238L982,2238L986,2238L990,2237.9L994,2237.9L998,2237.8L1002,2237.8L1006,2237.7L1010,2237.7L1014,2237.6L1018,2237.6L1022,2237.6L1026,2237.5L1030,2237.5L1034,2237.4L1038,2237.4L1042,2237.3L1046,2237.3L1050,2237.3L1054,2237.2L1058,2237.2L1062,2237.1L1066,2237.1L1070,2237L1074,2237L1078,2237L1082,2236.9L1086,2236.9L1090,2236.8L1094,2236.8L1098,2236.7L1102,2236.7L1106,2236.7L1110,2236.6L1114,2236.6L1118,2236.5L1122,2236.5L1126,2236.5L1130,2236.5L1134,2236.5L1138,2236.4L1142,2236.4L1146,2236.4L1150,2236.4L1154,2236.4L1158,2236.4L1162,2236.4L1166,2236.4L1170,2236.3L1174,2236.3L1178,2236.3L1182,2236.3L1186,2236.3L1190,2236.3L1194,2236.3L1198,2236.3L1202,2236.3L1206,2236.2L1210,2236.2L1214,2236.2L1218,2236.2L1222,2236.2L1226,2236.2L1230,2236.2L1234,2236.2L1238,2236.1L1242,2236.1L1246,2236.1L1250,2236.1L1254,2236.1L1258,2236.1L1262,2236.1L1266,2236.1L1270,2236L1274,2236L1278,2236L1282,2236L1286,2236L1290,2236L1294,2236L1298,2236L1302,2235.9L1306,2235.9L1310,2235.9L1314,2235.9L1318,2235.9L1322,2235.9L1326,2235.9L1330,2235.9L1334,2235.9L1338,2235.8L1342,2235.8L1346,2235.8L1350,2235.8L1354,2235.8L1358,2235.8L1362,2235.8L1366,2235.8L1370,2235.7L1374,2235.7L1378,2235.7L1382,2235.7L1386,2235.7L1390,2235.7L1394,2235.7L1398,2235.7L1402,2235.6L1406,2235.6L1410,2235.6L1414,2235.6L1418,2235.6L1422,2235.6L1426,2235.6L1430,2235.6L1434,2235.5L1438,2235.5L1442,2235.5L1446,2235.5L1450,2235.5L1454,2235.5L1458,2235.6L1462,2235.6L1466,2235.6L1470,2235.6L1474,2235.7L1478,2235.7L1482,2235.7L1486,2235.7L1490,2235.8L1494,2235.8L1498,2235.8L1502,2235.8L1506,2235.9L1510,2235.9L1514,2235.9L1518,2236L1522,2236L1526,2236L1530,2236L1534,2236.1L1538,2236.1L1542,2236.1L1546,2236.1L1550,2236.2L1554,2236.2L1558,2236.2L1562,2236.2L1566,2236.3L1570,2236.3L1574,2236.3L1578,2236.4L1582,2236.4L1586,2236.4L1590,2236.4L1594,2236.5L1598,2236.5L1602,2236.5L1606,2236.6L1610,2236.7L1614,2236.8L1618,2236.9L1622,2237L1626,2237.1L1630,2237.2L1634,2237.3L1638,2237.4L1642,2237.5L1646,2237.6L1650,2237.6L1654,2237.7L1658,2237.8L1662,2237.9L1666,2238L1670,2238.1L1674,2238.2L1678,2238.3L1682,2238.4L1686,2238.5L1690,2238.6L1694,2238.6L1698,2238.7L1702,2238.8L1706,2238.9L1710,2239L1714,2239.1L1718,2239.2L1722,2239.3L1726,2239.4L1730,2239.5L1734,2239.6L1738,2239.7L1742,2239.7L1746,2239.8L1750,2239.9L1754,2240L1758,2240.1L1762,2240.2L1766,2240.3L1770,2240.4L1774,2240.5L1778,2240.6L1782,2240.7L1786,2240.7L1790,2240.8L1794,2240.9L1798,2241L1802,2241.1L1806,2241.2L1810,2241.3L1814,2241.4L1818,2241.5L1822,2241.6L1826,2241.7L1830,2241.8L1834,2241.8L1838,2241.9L1842,2242L1846,2242.1L1850,2242.2L1854,2242.3L1858,2242.4L1862,2242.5L1866,2242.6L1870,2242.7L1874,2242.8L1878,2242.8L1882,2242.9L1886,2243L1890,2243.1L1894,2243.2L1898,2243.3L1902,2243.4L1906,2243.5L1910,2243.6L1914,2243.7L1918,2243.8L1922,2243.9L1926,2243.9L1930,2244L1934,2244.1L1938,2244.2L1942,2244.3L1946,2244.4L1950,2244.6L1954,2244.8L1958,2245L1962,2245.2L1966,2245.4L1970,2245.5L1974,2245.7L1978,2245.9L1982,2246.1L1986,2246.3L1990,2246.5L1994,2246.7L1998,2246.9L2002,2247.1L2006,2247.3L2010,2247.5L2014,2247.7L2018,2247.8L2022,2248L2026,2248.2L2030,2248.4L2034,2248.6L2038,2248.8L2042,2249L2046,2249.2L2050,2249.4L2054,2249.6L2058,2249.8L2062,2249.9L2066,2250.1L2070,2250.3L2074,2250.5L2078,2250.7L2082,2250.9L2086,2251.1L2090,2251.3L2094,2251.5L2098,2251.7L2102,2251.9L2106,2252.1L2110,2252.2L2114,2252.4L2118,2252.6L2122,2252.8L2126,2253L2130,2253.2L2134,2253.4L2138,2253.6L2142,2253.8L2146,2254L2150,2254.2L2154,2254.3L2158,2254.5L2162,2254.7L2166,2254.9L2170,2255.1L2174,2255.3L2178,2255.5L2182,2255.7L2186,2255.9L2190,2256.1L2194,2256.3L2198,2256.5L2202,2256.6L2206,2256.8L2210,2257L2214,2257.2L2218,2257.4L2222,2257.6L2226,2257.8L2230,2258L2234,2258.2L2238,2258.4L2242,2258.6L2246,2258.7L2250,2258.9L2254,2259.1L2258,2259.3L2262,2259.5L2266,2259.7L2270,2259.9L2274,2260.1L2278,2260.3L2282,2260.5L2286,2260.7L2290,2260.9L2294,2261L2298,2261.2L2302,2261.4L2306,2261.6L2310,2261.8" fill="none" stroke="#3a3a10" stroke-width="4"/>
<path d="M238,2257.5L240,2257.5L242,2257.5L244,2257.4L246,2257.4L248,2257.4L250,2257.4L252,2257.3L254,2257.3L256,2257.3L258,2257.2L260,2257.2L262,2257.2L264,2257.1L266,2257.1L268,2257.1L270,2257L272,2257L274,2257L276,2256.9L278,2256.9L280,2256.9L282,2256.9L284,2256.8L286,2256.8L288,2256.8L290,2256.7L292,2256.7L294,2256.7L296,2256.6L298,2256.6L300,2256.6L302,2256.5L304,2256.5L306,2256.5L308,2256.4L310,2256.4L312,2256.4L314,2256.3L316,2256.3L318,2256.3L320,2256.3L322,2256.2L324,2256.2L326,2256.2L328,2256.1L330,2256.1L332,2256.1L334,2256L336,2256L338,2256L340,2255.9L342,2255.9L344,2255.9L346,2255.8L348,2255.8L350,2255.8L352,2255.7L354,2255.7L356,2255.7L358,2255.6L360,2255.6L362,2255.6L364,2255.5L366,2255.5L368,2255.4L370,2255.4L372,2255.3L374,2255.3L376,2255.2L378,2255.1L380,2255.1L382,2255L384,2255L386,2254.9L388,2254.9L390,2254.8L392,2254.7L394,2254.7L396,2254.6L398,2254.6L400,2254.5L402,2254.4L404,2254.4L406,2254.3L408,2254.3L410,2254.2L412,2254.2L414,2254.1L416,2254L418,2254L420,2253.9L422,2253.9L424,2253.8L426,2253.7L428,2253.7L430,2253.6L432,2253.6L434,2253.5L436,2253.5L438,2253.4L440,2253.3L442,2253.3L444,2253.2L446,2253.2L448,2253.1L450,2253L452,2253L454,2252.9L456,2252.9L458,2252.8L460,2252.7L462,2252.7L464,2252.6L466,2252.6L468,2252.5L470,2252.5L472,2252.4L474,2252.3L476,2252.3L478,2252.2L480,2252.2L482,2252.1L484,2252L486,2252L488,2251.9L490,2251.9L492,2251.8L494,2251.7L496,2251.7L498,2251.6L500,2251.5L502,2251.5L504,2251.4L506,2251.3L508,2251.2L510,2251.1L512,2251.1L514,2251L516,2250.9L518,2250.8L520,2250.7L522,2250.7L524,2250.6L526,2250.5L528,2250.4L530,2250.3L532,2250.3L534,2250.2L536,2250.1L538,2250L540,2249.9L542,2249.8L544,2249.8L546,2249.7L548,2249.6L550,2249.5L552,2249.4L554,2249.4L556,2249.3L558,2249.2L560,2249.1L562,2249L564,2249L566,2248.9L568,2248.8L570,2248.7L572,2248.6L574,2248.5L576,2248.5L578,2248.4L580,2248.3L582,2248.2L584,2248.1L586,2248.1L588,2248L590,2247.9L592,2247.8L594,2247.7L596,2247.6L598,2247.6L600,2247.5L602,2247.4L604,2247.3L606,2247.2L608,2247.2L610,2247.1L612,2247L614,2246.9L616,2246.8L618,2246.7L620,2246.7L622,2246.6L624,2246.5L626,2246.4L628,2246.3L630,2246.2L632,2246.2L634,2246.1L636,2246L638,2245.9L640,2245.8L642,2245.7L644,2245.6L646,2245.5L648,2245.5L650,2245.4L652,2245.3L654,2245.2L656,2245.1L658,2245L660,2244.9L662,2244.8L664,2244.8L666,2244.7L668,2244.6L670,2244.5L672,2244.4L674,2244.3L676,2244.2L678,2244.1L680,2244L682,2244L684,2243.9L686,2243.8L688,2243.7L690,2243.6L692,2243.5L694,2243.4L696,2243.3L698,2243.2L700,2243.2L702,2243.1L704,2243L706,2242.9L708,2242.8L710,2242.7L712,2242.6L714,2242.5L716,2242.4L718,2242.3L720,2242.3L722,2242.2L724,2242.1L726,2242L728,2241.9L730,2241.8L732,2241.7L734,2241.6L736,2241.5L738,2241.4L740,2241.3L742,2241.2L744,2241.2L746,2241.1L748,2241L750,2240.9L752,2240.8L754,2240.7L756,2240.6L758,2240.5L760,2240.4L762,2240.3L764,2240.2L766,2240.1L768,2240L770,2240L772,2239.9L774,2239.8L776,2239.7L778,2239.6L780,2239.5L782,2239.4L784,2239.3L786,2239.2L788,2239.1L790,2239L792,2238.9L794,2238.8L796,2238.7L798,2238.6L800,2238.5L802,2238.4L804,2238.3L806,2238.2L808,2238.1L810,2238L812,2238L814,2237.9L816,2237.8L818,2237.7L820,2237.6L822,2237.5L824,2237.4L826,2237.4L828,2237.3L830,2237.3L832,2237.2L834,2237.2L836,2237.1L838,2237L840,2237L842,2236.9L844,2236.9L846,2236.8L848,2236.7L850,2236.7L852,2236.6L854,2236.6L856,2236.5L858,2236.4L860,2236.4L862,2236.3L864,2236.2L866,2236.2L868,2236.1L870,2236.1L872,2236L874,2235.9L876,2235.9L878,2235.8L880,2235.7L882,2235.7L884,2235.6L886,2235.5L888,2235.5L890,2235.4L892,2235.3L894,2235.3L896,2235.2L898,2235.1L900,2235.1L902,2235L904,2234.9L906,2234.9L908,2234.8L910,2234.7L912,2234.7L914,2234.6L916,2234.5L918,2234.5L920,2234.4L922,2234.3L924,2234.2L926,2234.2L928,2234.1L930,2234L932,2234L934,2233.9L936,2233.8L938,2233.7L940,2233.7L942,2233.6L944,2233.5L946,2233.4L948,2233.4L950,2233.3L952,2233.2L954,2233.1L956,2233.1L958,2233L960,2232.9L962,2232.9L964,2232.8L966,2232.7L968,2232.7L970,2232.6L972,2232.5L974,2232.5L976,2232.4L978,2232.3L980,2232.3L982,2232.2L984,2232.1L986,2232L988,2232L990,2231.9L992,2231.8L994,2231.7L996,2231.7L998,2231.6L1000,2231.5L1002,2231.4L1004,2231.4L1006,2231.3L1008,2231.2L1010,2231.1L1012,2231L1014,2231L1016,2230.9L1018,2230.8L1020,2230.7L1022,2230.6L1024,2230.5L1026,2230.5L1028,2230.4L1030,2230.3L1032,2230.2L1034,2230.1L1036,2230L1038,2229.9L1040,2229.8L1042,2229.7L1044,2229.6L1046,2229.5L1048,2229.4L1050,2229.3L1052,2229.2L1054,2229.1L1056,2229L1058,2228.9L1060,2228.8L1062,2228.7L1064,2228.6L1066,2228.5L1068,2228.4L1070,2228.3L1072,2228.2L1074,2228L1076,2227.9L1078,2227.8L1080,2227.7L1082,2227.6L1084,2227.5L1086,2227.3L1088,2227.2L1090,2227.1L1092,2226.9L1094,2226.8L1096,2226.7L1098,2226.6L1100,2226.4L1102,2226.3L1104,2226.1L1106,2226L1108,2225.9L1110,2225.7L1112,2225.6L1114,2225.4L1116,2225.3L1118,2225.1L1120,2224.9L1122,2224.8L1124,2224.7L1126,2224.5L1128,2224.4L1130,2224.2L1132,2224L1134,2223.9L1136,2223.7L1138,2223.6L1140,2223.4L1142,2223.2L1144,2223L1146,2222.9L1148,2222.7L1150,2222.5L1152,2222.3L1154,2222.1L1156,2221.9L1158,2221.7L1160,2221.5L1162,2221.3L1164,2221.1L1166,2220.9L1168,2220.7L1170,2220.4L1172,2220.2L1174,2220L1176,2219.7L1178,2219.5L1180,2219.2L1182,2219L1184,2218.7L1186,2218.5L1188,2218.2L1190,2217.9L1192,2217.6L1194,2217.3L1196,2217L1198,2216.7L1200,2216.4L1202,2216.1L1204,2215.8L1206,2215.4L1208,2215.1L1210,2214.7L1212,2214.3L1214,2214L1216,2213.6L1218,2213.2L1220,2212.7L1222,2212.3L1224,2211.8L1226,2211.4L1228,2210.9L1230,2210.3L1232,2209.8L1234,2209.2L1236,2208.6L1238,2208L1240,2207.3L1242,2206.6L1244,2205.9L1246,2205.1L1248,2204.3L1250,2203.4L1252,2202.5L1254,2201.5L1256,2200.5L1258,2199.4L1260,2198.2L1262,2196.9L1264,2195.5L1266,2194L1268,2192.5L1270,2190.8L1272,2189L1274,2187.1L1276,2185L1278,2182.8L1280,2180.4L1282,2177.9L1284,2175.2L1286,2172.3L1288,2169.2L1290,2165.9L1292,2162.3L1294,2158.6L1296,2154.6L1298,2150.3L1300,2145.8L1302,2141.1L1304,2136L1306,2130.7L1308,2125L1310,2119.1L1312,2112.9L1314,2106.3L1316,2099.4L1318,2092.3L1320,2084.7L1322,2076.9L1324,2068.8L1326,2060.3L1328,2051.5L1330,2042.4L1332,2033L1334,2023.3L1336,2013.3L1338,2003L1340,1992.5L1342,1981.6L1344,1970.5L1346,1959.2L1348,1947.6L1350,1935.9L1352,1923.9L1354,1911.7L1356,1899.4L1358,1886.9L1360,1874.3L1362,1861.6L1364,1848.8L1366,1835.9L1368,1823L1370,1810L1372,1797.1L1374,1784.1L1376,1771.2L1378,1758.4L1380,1745.6L1382,1732.9L1384,1720.4L1386,1708L1388,1695.9L1390,1683.9L1392,1672.1L1394,1660.7L1396,1649.4L1398,1638.5L1400,1628L1402,1617.8L1404,1608L1406,1598.5L1408,1589.6L1410,1581L1412,1573L1414,1565.5L1416,1558.5L1418,1552.1L1420,1546.2L1422,1540.9L1424,1536.3L1426,1532.3L1428,1528.9L1430,1526.2L1432,1524.1L1434,1522.8L1436,1522.1L1438,1522.1L1440,1522.8L1442,1524.2L1444,1526.2L1446,1528.9L1448,1532.3L1450,1536.3L1452,1540.9L1454,1546.1L1456,1551.9L1458,1558.3L1460,1565.3L1462,1572.8L1464,1580.7L1466,1589.2L1468,1598.1L1470,1607.5L1472,1617.2L1474,1627.3L1476,1637.8L1478,1648.7L1480,1659.8L1482,1671.2L1484,1682.9L1486,1694.8L1488,1706.9L1490,1719.2L1492,1731.6L1494,1744.2L1496,1756.9L1498,1769.7L1500,1782.5L1502,1795.4L1504,1808.3L1506,1821.2L1508,1834.1L1510,1846.9L1512,1859.6L1514,1872.3L1516,1884.9L1518,1897.3L1520,1909.6L1522,1921.7L1524,1933.7L1526,1945.5L1528,1957L1530,1968.3L1532,1979.4L1534,1990.3L1536,2000.8L1538,2011.1L1540,2021.2L1542,2030.9L1544,2040.3L1546,2049.5L1548,2058.3L1550,2066.8L1552,2075L1554,2082.9L1556,2090.4L1558,2097.7L1560,2104.6L1562,2111.2L1564,2117.5L1566,2123.5L1568,2129.3L1570,2134.7L1572,2139.8L1574,2144.6L1576,2149.2L1578,2153.5L1580,2157.6L1582,2161.4L1584,2165L1586,2168.4L1588,2171.6L1590,2174.5L1592,2177.3L1594,2179.9L1596,2182.3L1598,2184.6L1600,2186.7L1602,2188.7L1604,2190.6L1606,2192.3L1608,2194L1610,2195.5L1612,2196.9L1614,2198.3L1616,2199.5L1618,2200.7L1620,2201.8L1622,2202.9L1624,2203.9L1626,2204.8L1628,2205.7L1630,2206.5L1632,2207.3L1634,2208L1636,2208.8L1638,2209.4L1640,2210.1L1642,2210.7L1644,2211.3L1646,2211.9L1648,2212.4L1650,2212.9L1652,2213.4L1654,2213.9L1656,2214.4L1658,2214.8L1660,2215.3L1662,2215.7L1664,2216.1L1666,2216.5L1668,2216.9L1670,2217.3L1672,2217.7L1674,2218L1676,2218.4L1678,2218.7L1680,2219.1L1682,2219.4L1684,2219.7L1686,2220.1L1688,2220.4L1690,2220.7L1692,2221L1694,2221.3L1696,2221.6L1698,2221.9L1700,2222.1L1702,2222.4L1704,2222.7L1706,2222.9L1708,2223.2L1710,2223.5L1712,2223.7L1714,2224L1716,2224.2L1718,2224.4L1720,2224.7L1722,2224.9L1724,2225.1L1726,2225.4L1728,2225.6L1730,2225.8L1732,2226L1734,2226.2L1736,2226.4L1738,2226.7L1740,2226.9L1742,2227.1L1744,2227.3L1746,2227.4L1748,2227.6L1750,2227.8L1752,2228L1754,2228.2L1756,2228.4L1758,2228.6L1760,2228.7L1762,2228.9L1764,2229.1L1766,2229.3L1768,2229.4L1770,2229.6L1772,2229.8L1774,2229.9L1776,2230.1L1778,2230.3L1780,2230.4L1782,2230.6L1784,2230.7L1786,2230.9L1788,2231L1790,2231.2L1792,2231.3L1794,2231.5L1796,2231.6L1798,2231.8L1800,2231.9L1802,2232L1804,2232.2L1806,2232.3L1808,2232.4L1810,2232.6L1812,2232.7L1814,2232.8L1816,2233L1818,2233.1L1820,2233.2L1822,2233.4L1824,2233.5L1826,2233.6L1828,2233.7L1830,2233.9L1832,2234L1834,2234.1L1836,2234.2L1838,2234.3L1840,2234.4L1842,2234.6L1844,2234.7L1846,2234.8L1848,2234.9L1850,2235L1852,2235.1L1854,2235.2L1856,2235.3L1858,2235.5L1860,2235.6L1862,2235.7L1864,2235.8L1866,2235.9L1868,2236L1870,2236.1L1872,2236.2L1874,2236.3L1876,2236.4L1878,2236.5L1880,2236.6L1882,2236.7L1884,2236.8L1886,2236.9L1888,2237L1890,2237.1L1892,2237.2L1894,2237.3L1896,2237.4L1898,2237.5L1900,2237.6L1902,2237.7L1904,2237.7L1906,2237.8L1908,2237.9L1910,2238L1912,2238.1L1914,2238.2L1916,2238.3L1918,2238.4L1920,2238.5L1922,2238.6L1924,2238.6L1926,2238.7L1928,2238.8L1930,2238.9L1932,2239L1934,2239.1L1936,2239.2L1938,2239.2L1940,2239.3L1942,2239.4L1944,2239.5L1946,2239.6L1948,2239.7L1950,2239.8L1952,2240L1954,2240.1L1956,2240.2L1958,2240.3L1960,2240.5L1962,2240.6L1964,2240.7L1966,2240.9L1968,2241L1970,2241.1L1972,2241.2L1974,2241.4L1976,2241.5L1978,2241.6L1980,2241.7L1982,2241.9L1984,2242L1986,2242.1L1988,2242.2L1990,2242.4L1992,2242.5L1994,2242.6L1996,2242.7L1998,2242.9L2000,2243L2002,2243.1L2004,2243.2L2006,2243.3L2008,2243.5L2010,2243.6L2012,2243.7L2014,2243.8L2016,2243.9L2018,2244.1L2020,2244.2L2022,2244.3L2024,2244.4L2026,2244.5L2028,2244.7L2030,2244.8L2032,2244.9L2034,2245L2036,2245.1L2038,2245.3L2040,2245.4L2042,2245.5L2044,2245.6L2046,2245.7L2048,2245.8L2050,2246L2052,2246.1L2054,2246.2L2056,2246.3L2058,2246.4L2060,2246.5L2062,2246.6L2064,2246.8L2066,2246.9L2068,2247L2070,2247.1L2072,2247.2L2074,2247.3L2076,2247.4L2078,2247.6L2080,2247.7L2082,2247.8L2084,2247.9L2086,2248L2088,2248.1L2090,2248.2L2092,2248.4L2094,2248.5L2096,2248.6L2098,2248.7L2100,2248.8L2102,2248.9L2104,2249L2106,2249.1L2108,2249.3L2110,2249.4L2112,2249.5L2114,2249.6L2116,2249.7L2118,2249.8L2120,2249.9L2122,2250L2124,2250.1L2126,2250.3L2128,2250.4L2130,2250.5L2132,2250.6L2134,2250.7L2136,2250.8L2138,2250.9L2140,2251L2142,2251.1L2144,2251.2L2146,2251.4L2148,2251.5L2150,2251.6L2152,2251.7L2154,2251.8L2156,2251.9L2158,2252L2160,2252.1L2162,2252.2L2164,2252.3L2166,2252.4L2168,2252.5L2170,2252.7L2172,2252.8L2174,2252.9L2176,2253L2178,2253.1L2180,2253.2L2182,2253.3L2184,2253.4L2186,2253.5L2188,2253.6L2190,2253.7L2192,2253.8L2194,2253.9L2196,2254L2198,2254.2L2200,2254.3L2202,2254.4L2204,2254.5L2206,2254.6L2208,2254.7L2210,2254.8L2212,2254.9L2214,2255L2216,2255.1L2218,2255.2L2220,2255.3L2222,2255.4L2224,2255.5L2226,2255.6L2228,2255.7L2230,2255.9L2232,2256L2234,2256.1L2236,2256.2L2238,2256.3L2240,2256.4L2242,2256.5L2244,2256.6L2246,2256.7L2248,2256.8L2250,2256.9L2252,2257L2254,2257.1L2256,2257.2L2258,2257.3L2260,2257.4L2262,2257.5L2264,2257.6L2266,2257.7L2268,2257.8L2270,2257.9L2272,2258.1L2274,2258.2L2276,2258.3L2278,2258.4L2280,2258.5L2282,2258.6L2284,2258.7L2286,2258.8L2288,2258.9L2290,2259L2292,2259.1L2294,2259.2L2296,2259.3L2298,2259.4L2300,2259.5L2302,2259.6L2304,2259.7L2306,2259.8L2308,2259.9L2310,2260L2312,2260.1" fill="none" stroke="#7e0010" stroke-width="4.2"/>
<path d="M870,2231L872,2230.7L874,2230.4L876,2230.1L878,2229.7L880,2229.4L882,2229.1L884,2228.7L886,2228.4L888,2228L890,2227.6L892,2227.2L894,2226.8L896,2226.4L898,2225.9L900,2225.5L902,2225L904,2224.6L906,2224.1L908,2223.6L910,2223L912,2222.5L914,2222L916,2221.4L918,2220.8L920,2220.2L922,2219.6L924,2219L926,2218.3L928,2217.6L930,2216.9L932,2216.2L934,2215.5L936,2214.8L938,2214L940,2213.2L942,2212.4L944,2211.6L946,2210.7L948,2209.9L950,2209L952,2208L954,2207.1L956,2206.2L958,2205.2L960,2204.2L962,2203.2L964,2202.1L966,2201.1L968,2200L970,2198.9L972,2197.7L974,2196.6L976,2195.4L978,2194.2L980,2192.9L982,2191.7L984,2190.4L986,2189L988,2187.7L990,2186.3L992,2184.9L994,2183.5L996,2182.1L998,2180.6L1000,2179.1L1002,2177.6L1004,2176L1006,2174.4L1008,2172.8L1010,2171.2L1012,2169.6L1014,2167.9L1016,2166.2L1018,2164.5L1020,2162.7L1022,2160.9L1024,2159.1L1026,2157.3L1028,2155.5L1030,2153.6L1032,2151.7L1034,2149.8L1036,2147.9L1038,2145.9L1040,2143.9L1042,2141.9L1044,2139.9L1046,2137.9L1048,2135.8L1050,2133.7L1052,2131.6L1054,2129.5L1056,2127.4L1058,2125.3L1060,2123.1L1062,2120.9L1064,2118.7L1066,2116.5L1068,2114.3L1070,2112.1L1072,2109.8L1074,2107.6L1076,2105.3L1078,2103.1L1080,2100.8L1082,2098.5L1084,2096.2L1086,2093.9L1088,2091.6L1090,2089.3L1092,2086.9L1094,2084.6L1096,2082.3L1098,2080L1100,2077.6L1102,2075.3L1104,2073L1106,2070.7L1108,2068.4L1110,2066L1112,2063.7L1114,2061.4L1116,2059.1L1118,2056.8L1120,2054.5L1122,2052.3L1124,2050L1126,2047.8L1128,2045.5L1130,2043.3L1132,2041.1L1134,2038.9L1136,2036.7L1138,2034.6L1140,2032.4L1142,2030.3L1144,2028.2L1146,2026.1L1148,2024L1150,2022L1152,2019.9L1154,2017.9L1156,2016L1158,2014L1160,2012.1L1162,2010.2L1164,2008.3L1166,2006.5L1168,2004.6L1170,2002.9L1172,2001.1L1174,1999.4L1176,1997.7L1178,1996L1180,1994.4L1182,1992.8L1184,1991.3L1186,1989.8L1188,1988.3L1190,1986.8L1192,1985.4L1194,1984.1L1196,1982.8L1198,1981.5L1200,1980.2L1202,1979L1204,1977.9L1206,1976.8L1208,1975.7L1210,1974.7L1212,1973.7L1214,1972.8L1216,1971.9L1218,1971L1220,1970.3L1222,1969.5L1224,1968.8L1226,1968.2L1228,1967.6L1230,1967L1232,1966.5L1234,1966.1L1236,1965.7L1238,1965.3L1240,1965L1242,1964.7L1244,1964.5L1246,1964.4L1248,1964.3L1250,1964.3L1252,1964.3L1254,1964.3L1256,1964.4L1258,1964.6L1260,1964.8L1262,1965L1264,1965.3L1266,1965.7L1268,1966.1L1270,1966.5L1272,1967L1274,1967.6L1276,1968.2L1278,1968.9L1280,1969.6L1282,1970.3L1284,1971.1L1286,1971.9L1288,1972.8L1290,1973.7L1292,1974.7L1294,1975.7L1296,1976.8L1298,1977.9L1300,1979.1L1302,1980.3L1304,1981.5L1306,1982.8L1308,1984.1L1310,1985.5L1312,1986.9L1314,1988.3L1316,1989.8L1318,1991.3L1320,1992.8L1322,1994.4L1324,1996L1326,1997.7L1328,1999.4L1330,2001.1L1332,2002.8L1334,2004.6L1336,2006.4L1338,2008.3L1340,2010.1L1342,2012L1344,2013.9L1346,2015.9L1348,2017.9L1350,2019.8L1352,2021.9L1354,2023.9L1356,2026L1358,2028L1360,2030.1L1362,2032.3L1364,2034.4L1366,2036.6L1368,2038.7L1370,2040.9L1372,2043.1L1374,2045.3L1376,2047.5L1378,2049.8L1380,2052L1382,2054.3L1384,2056.5L1386,2058.8L1388,2061.1L1390,2063.4L1392,2065.7L1394,2068L1396,2070.3L1398,2072.5L1400,2074.8L1402,2077.1L1404,2079.5L1406,2081.7L1408,2084L1410,2086.3L1412,2088.6L1414,2090.9L1416,2093.2L1418,2095.5L1420,2097.7L1422,2100L1424,2102.3L1426,2104.5L1428,2106.7L1430,2109L1432,2111.2L1434,2113.4L1436,2115.6L1438,2117.7L1440,2119.9L1442,2122L1444,2124.2L1446,2126.3L1448,2128.4L1450,2130.5L1452,2132.5L1454,2134.6L1456,2136.6L1458,2138.7L1460,2140.7L1462,2142.6L1464,2144.6L1466,2146.6L1468,2148.5L1470,2150.4L1472,2152.2L1474,2154.1L1476,2155.9L1478,2157.7L1480,2159.5L1482,2161.3L1484,2163L1486,2164.7L1488,2166.4L1490,2168.1L1492,2169.7L1494,2171.3L1496,2172.9L1498,2174.4L1500,2176L1502,2177.5L1504,2179L1506,2180.4L1508,2181.8L1510,2183.3L1512,2184.6L1514,2186L1516,2187.3L1518,2188.6L1520,2189.9L1522,2191.1L1524,2192.4L1526,2193.6L1528,2194.7L1530,2195.9L1532,2197L1534,2198.1L1536,2199.2L1538,2200.2L1540,2201.3L1542,2202.3L1544,2203.2L1546,2204.2L1548,2205.1L1550,2206L1552,2206.9L1554,2207.8L1556,2208.6L1558,2209.5L1560,2210.3L1562,2211L1564,2211.8L1566,2212.5L1568,2213.3L1570,2214L1572,2214.6L1574,2215.3L1576,2216L1578,2216.6L1580,2217.2L1582,2217.8L1584,2218.3L1586,2218.9L1588,2219.4L1590,2220L1592,2220.5L1594,2221L1596,2221.4L1598,2221.9L1600,2222.4L1602,2222.8L1604,2223.3L1606,2223.7L1608,2224.1L1610,2224.6L1612,2225L1614,2225.3L1616,2225.7L1618,2226.1L1620,2226.4L1622,2226.8L1624,2227.1L1626,2227.5L1628,2227.8L1630,2228.1L1632,2228.4L1634,2228.7L1636,2228.9L1638,2229.2L1640,2229.5L1642,2229.7L1644,2230L1646,2230.2L1648,2230.5L1650,2230.7L1652,2230.9L1654,2231.1L1656,2231.3L1658,2231.5L1660,2231.7" fill="none" stroke="#707070" stroke-width="3.2"/>
<path d="M785,2238.8L787,2238.6L789,2238.3L791,2238.1L793,2237.8L795,2237.6L797,2237.3L799,2237L801,2236.6L803,2236.3L805,2235.9L807,2235.5L809,2235.1L811,2234.7L813,2234.2L815,2233.7L817,2233.1L819,2232.5L821,2232L823,2231.3L825,2230.7L827,2230L829,2229.2L831,2228.4L833,2227.6L835,2226.7L837,2225.7L839,2224.7L841,2223.6L843,2222.5L845,2221.3L847,2220.1L849,2218.7L851,2217.4L853,2215.9L855,2214.4L857,2212.8L859,2211.2L861,2209.4L863,2207.7L865,2205.8L867,2203.9L869,2201.9L871,2199.9L873,2197.8L875,2195.7L877,2193.5L879,2191.2L881,2188.9L883,2186.6L885,2184.3L887,2181.9L889,2179.5L891,2177L893,2174.6L895,2172.1L897,2169.6L899,2167.2L901,2164.7L903,2162.3L905,2159.9L907,2157.5L909,2155.2L911,2152.9L913,2150.6L915,2148.5L917,2146.3L919,2144.3L921,2142.3L923,2140.5L925,2138.7L927,2137L929,2135.4L931,2134L933,2132.7L935,2131.5L937,2130.4L939,2129.5L941,2128.7L943,2128L945,2127.5L947,2127.2L949,2127L951,2127L953,2127.1L955,2127.4L957,2127.9L959,2128.6L961,2129.4L963,2130.4L965,2131.6L967,2132.9L969,2134.3L971,2135.9L973,2137.6L975,2139.4L977,2141.3L979,2143.3L981,2145.4L983,2147.6L985,2149.9L987,2152.3L989,2154.7L991,2157.1L993,2159.6L995,2162.1L997,2164.7L999,2167.2L1001,2169.8L1003,2172.4L1005,2174.9L1007,2177.4L1009,2180L1011,2182.5L1013,2184.9L1015,2187.3L1017,2189.7L1019,2192L1021,2194.3L1023,2196.5L1025,2198.6L1027,2200.7L1029,2202.7L1031,2204.6L1033,2206.5L1035,2208.3L1037,2210L1039,2211.6L1041,2213.2L1043,2214.6L1045,2216L1047,2217.4L1049,2218.6L1051,2219.8L1053,2220.9L1055,2222L1057,2223L1059,2223.9L1061,2224.8L1063,2225.6L1065,2226.3L1067,2227L1069,2227.7L1071,2228.3L1073,2228.8L1075,2229.3L1077,2229.8L1079,2230.2L1081,2230.6L1083,2231L1085,2231.3" fill="none" stroke="#00d830" stroke-width="5"/>
<path d="M238,2250.5L240,2250.4L242,2250.3L244,2250.3L246,2250.2L248,2250.1L250,2250L252,2249.9L254,2249.8L256,2249.7L258,2249.6L260,2249.5L262,2249.4L264,2249.3L266,2249.2L268,2249.1L270,2249L272,2248.9L274,2248.8L276,2248.7L278,2248.6L280,2248.5L282,2248.3L284,2248.2L286,2248.1L288,2248L290,2247.9L292,2247.8L294,2247.7L296,2247.6L298,2247.4L300,2247.3L302,2247.2L304,2247.1L306,2247L308,2246.8L310,2246.7L312,2246.6L314,2246.5L316,2246.3L318,2246.2L320,2246.1L322,2245.9L324,2245.8L326,2245.7L328,2245.5L330,2245.4L332,2245.2L334,2245.1L336,2245L338,2244.8L340,2244.7L342,2244.5L344,2244.4L346,2244.2L348,2244.1L350,2243.9L352,2243.7L354,2243.6L356,2243.4L358,2243.3L360,2243.1L362,2242.9L364,2242.8L366,2242.6L368,2242.4L370,2242.2L372,2242L374,2241.8L376,2241.5L378,2241.3L380,2241.1L382,2240.9L384,2240.7L386,2240.5L388,2240.2L390,2240L392,2239.8L394,2239.6L396,2239.3L398,2239.1L400,2238.8L402,2238.6L404,2238.4L406,2238.1L408,2237.9L410,2237.6L412,2237.3L414,2237.1L416,2236.8L418,2236.5L420,2236.3L422,2236L424,2235.7L426,2235.4L428,2235.1L430,2234.8L432,2234.5L434,2234.2L436,2233.9L438,2233.6L440,2233.3L442,2232.9L444,2232.6L446,2232.3L448,2231.9L450,2231.6L452,2231.2L454,2230.8L456,2230.5L458,2230.1L460,2229.7L462,2229.3L464,2228.9L466,2228.5L468,2228.1L470,2227.6L472,2227.2L474,2226.7L476,2226.3L478,2225.8L480,2225.3L482,2224.8L484,2224.3L486,2223.8L488,2223.2L490,2222.7L492,2222.1L494,2221.5L496,2220.9L498,2220.2L500,2219.5L502,2218.8L504,2218.1L506,2217.4L508,2216.6L510,2215.8L512,2215L514,2214.1L516,2213.2L518,2212.3L520,2211.3L522,2210.3L524,2209.2L526,2208.1L528,2207L530,2205.8L532,2204.6L534,2203.3L536,2201.9L538,2200.5L540,2199.1L542,2197.5L544,2195.9L546,2194.3L548,2192.5L550,2190.7L552,2188.8L554,2186.9L556,2184.8L558,2182.7L560,2180.5L562,2178.1L564,2175.7L566,2173.2L568,2170.6L570,2167.9L572,2165.1L574,2162.1L576,2159.1L578,2155.9L580,2152.7L582,2149.3L584,2145.8L586,2142.2L588,2138.5L590,2134.7L592,2130.7L594,2126.6L596,2122.5L598,2118.1L600,2113.7L602,2109.2L604,2104.5L606,2099.8L608,2094.9L610,2089.9L612,2084.8L614,2079.6L616,2074.3L618,2068.9L620,2063.5L622,2057.9L624,2052.2L626,2046.5L628,2040.7L630,2034.8L632,2028.8L634,2022.8L636,2016.7L638,2010.6L640,2004.4L642,1998.2L644,1992L646,1985.7L648,1979.5L650,1973.2L652,1966.9L654,1960.6L656,1954.3L658,1948.1L660,1941.8L662,1935.7L664,1929.5L666,1923.4L668,1917.4L670,1911.4L672,1905.6L674,1899.8L676,1894.1L678,1888.6L680,1883.1L682,1877.8L684,1872.7L686,1867.7L688,1862.8L690,1858.2L692,1853.7L694,1849.4L696,1845.4L698,1841.6L700,1838L702,1834.7L704,1831.6L706,1828.8L708,1826.2L710,1824L712,1822.1L714,1820.4L716,1819.1L718,1818L720,1817.3L722,1816.9L724,1816.9L726,1817.1L728,1817.6L730,1818.5L732,1819.7L734,1821.1L736,1822.9L738,1824.9L740,1827.2L742,1829.8L744,1832.7L746,1835.8L748,1839.2L750,1842.8L752,1846.6L754,1850.6L756,1854.8L758,1859.3L760,1863.9L762,1868.6L764,1873.6L766,1878.6L768,1883.8L770,1889.2L772,1894.6L774,1900.2L776,1905.8L778,1911.5L780,1917.3L782,1923.2L784,1929.1L786,1935.1L788,1941.1L790,1947.2L792,1953.2L794,1959.3L796,1965.4L798,1971.5L800,1977.6L802,1983.7L804,1989.7L806,1995.7L808,2001.7L810,2007.7L812,2013.6L814,2019.4L816,2025.2L818,2031L820,2036.6L822,2042.3L824,2047.8L826,2053.3L828,2058.6L830,2063.9L832,2069.1L834,2074.2L836,2079.2L838,2084.1L840,2088.9L842,2093.6L844,2098.2L846,2102.6L848,2107L850,2111.2L852,2115.3L854,2119.4L856,2123.3L858,2127L860,2130.7L862,2134.3L864,2137.7L866,2141L868,2144.2L870,2147.3L872,2150.3L874,2153.2L876,2156L878,2158.7L880,2161.2L882,2163.7L884,2166.1L886,2168.3L888,2170.5L890,2172.6L892,2174.6L894,2176.6L896,2178.4L898,2180.2L900,2181.8L902,2183.5L904,2185L906,2186.5L908,2187.9L910,2189.2L912,2190.5L914,2191.7L916,2192.9L918,2194L920,2195.1L922,2196.1L924,2197.1L926,2198L928,2198.9L930,2199.8L932,2200.6L934,2201.4L936,2202.1L938,2202.8L940,2203.5L942,2204.2L944,2204.8L946,2205.4L948,2206L950,2206.6L952,2207.1L954,2207.6L956,2208.2L958,2208.7L960,2209.1L962,2209.6L964,2210L966,2210.5L968,2210.9L970,2211.3L972,2211.7L974,2212.1L976,2212.5L978,2212.8L980,2213.2L982,2213.5L984,2213.8L986,2214.2L988,2214.5L990,2214.8L992,2215.1L994,2215.4L996,2215.6L998,2215.9L1000,2216.2L1002,2216.5L1004,2216.7L1006,2217L1008,2217.2L1010,2217.5L1012,2217.7L1014,2217.9L1016,2218.1L1018,2218.4L1020,2218.6L1022,2218.8L1024,2219L1026,2219.2L1028,2219.4L1030,2219.6L1032,2219.8L1034,2220L1036,2220.2L1038,2220.3L1040,2220.5L1042,2220.7L1044,2220.9L1046,2221L1048,2221.2L1050,2221.4L1052,2221.5L1054,2221.7L1056,2221.8L1058,2222L1060,2222.1L1062,2222.3L1064,2222.4L1066,2222.5L1068,2222.7L1070,2222.8L1072,2222.9L1074,2223.1L1076,2223.2L1078,2223.3L1080,2223.4L1082,2223.5L1084,2223.7L1086,2223.8L1088,2223.9L1090,2224L1092,2224.1L1094,2224.2L1096,2224.3L1098,2224.4L1100,2224.5L1102,2224.6L1104,2224.7L1106,2224.8L1108,2224.9L1110,2225L1112,2225.1L1114,2225.2L1116,2225.3L1118,2225.4L1120,2225.5L1122,2225.6L1124,2225.6L1126,2225.7L1128,2225.8L1130,2225.9L1132,2226L1134,2226.1L1136,2226.2L1138,2226.3L1140,2226.4L1142,2226.5L1144,2226.5L1146,2226.6L1148,2226.7L1150,2226.8L1152,2226.9L1154,2226.9L1156,2227L1158,2227.1L1160,2227.2L1162,2227.2L1164,2227.3L1166,2227.4L1168,2227.5L1170,2227.5L1172,2227.6L1174,2227.7L1176,2227.7L1178,2227.8L1180,2227.9L1182,2227.9L1184,2228L1186,2228.1L1188,2228.1L1190,2228.2L1192,2228.2L1194,2228.3L1196,2228.4L1198,2228.4L1200,2228.5L1202,2228.5L1204,2228.6L1206,2228.6L1208,2228.7L1210,2228.8L1212,2228.8L1214,2228.9L1216,2228.9L1218,2229L1220,2229L1222,2229.1L1224,2229.1L1226,2229.2L1228,2229.2L1230,2229.3L1232,2229.3L1234,2229.3L1236,2229.4L1238,2229.4L1240,2229.5L1242,2229.5L1244,2229.6L1246,2229.6L1248,2229.6L1250,2229.7L1252,2229.7L1254,2229.8L1256,2229.8L1258,2229.9L1260,2229.9L1262,2229.9L1264,2230L1266,2230L1268,2230L1270,2230.1L1272,2230.1L1274,2230.1L1276,2230.2L1278,2230.2L1280,2230.3L1282,2230.3L1284,2230.3L1286,2230.4L1288,2230.4L1290,2230.4L1292,2230.5L1294,2230.5L1296,2230.5L1298,2230.5L1300,2230.6L1302,2230.6L1304,2230.6L1306,2230.7L1308,2230.7L1310,2230.7L1312,2230.8L1314,2230.8L1316,2230.8L1318,2230.8L1320,2230.9L1322,2230.9L1324,2230.9L1326,2230.9L1328,2231L1330,2231L1332,2231L1334,2231L1336,2231.1L1338,2231.1L1340,2231.1L1342,2231.1L1344,2231.2L1346,2231.2L1348,2231.2L1350,2231.2L1352,2231.3L1354,2231.3L1356,2231.3L1358,2231.3L1360,2231.3L1362,2231.4L1364,2231.4L1366,2231.4L1368,2231.4L1370,2231.4L1372,2231.5L1374,2231.5L1376,2231.5L1378,2231.5L1380,2231.5L1382,2231.6L1384,2231.6L1386,2231.6L1388,2231.6L1390,2231.6L1392,2231.7L1394,2231.7L1396,2231.7L1398,2231.7L1400,2231.7L1402,2231.7L1404,2231.8L1406,2231.8L1408,2231.8L1410,2231.8L1412,2231.8L1414,2231.8L1416,2231.8L1418,2231.9L1420,2231.9L1422,2231.9L1424,2231.9L1426,2231.9L1428,2231.9L1430,2232L1432,2232L1434,2232L1436,2232L1438,2232L1440,2232L1442,2232L1444,2232L1446,2232.1L1448,2232.1L1450,2232.1L1452,2232.1L1454,2232.1L1456,2232.2L1458,2232.2L1460,2232.2L1462,2232.3L1464,2232.3L1466,2232.3L1468,2232.4L1470,2232.4L1472,2232.4L1474,2232.5L1476,2232.5L1478,2232.5L1480,2232.5L1482,2232.6L1484,2232.6L1486,2232.6L1488,2232.7L1490,2232.7L1492,2232.7L1494,2232.7L1496,2232.8L1498,2232.8L1500,2232.8" fill="none" stroke="#1c1ca0" stroke-width="4.2"/>
<path d="M238,2250L254.6,2231.5L263.5,2243.8L272.4,2239.3L281.3,2248.2L297,2238.2L319.3,2237L326,2244.9L337.1,2233.7L346,2238.2L352.8,2241.5L375,2251.6L386.2,2253.8L397.4,2246L408.6,2248.2L422,2232.6L442,2239.3L464.4,2225.9L497.9,2217L520.2,2208L542.5,2190.2L553.7,2172.3L564.8,2153.3L567,2146L582.6,2146L602.7,2090L614,2072L631.8,2038L651.8,1975L674,1910L696.4,1846L712,1826L726.6,1815L745.5,1811L759,1824.6L779,1876L790.2,1918L801.3,1958.6L812.5,2003L826,2043L839.3,2077L857,2114.8L861.9,2118.6L887,2108.6L895.3,2090L912,2092L923.8,2083.4L937.2,2088.5L950.6,2091L967.3,2089.3L987.4,2110.2L995.8,2110.2L1004.2,2095.2L1013.6,2101.5L1025.3,2101.5L1038.7,2114.9L1048.8,2094.8L1063.8,2096.5L1083.9,2087.3L1096.2,2075L1109,2063.8L1125.8,2035.4L1150.9,2012L1176,1980.1L1180,1973.6L1192.7,1963.4L1205.3,1953.3L1218,1948.2L1243.3,1943.2L1261,1958.4L1281.3,1950.8L1294,1940.6L1311.7,1915.3C1317.2,1904.8 1321.4,1894.2 1326.9,1877.3C1332.4,1860.4 1339.5,1833 1344.6,1814C1349.7,1795 1353.1,1782.3 1357.3,1763.3C1361.5,1744.3 1366.3,1717.5 1370,1700C1373.7,1682.5 1375.7,1672.2 1379.5,1658.6C1383.3,1645 1388.5,1633.3 1392.9,1618.4C1397.3,1603.5 1403,1579.1 1406,1569C1409,1558.9 1408.1,1565.4 1410.7,1558C1413.3,1550.6 1418.9,1531 1421.5,1524.5C1424.1,1518 1424.7,1521.2 1426.3,1519C1427.9,1516.8 1428.8,1512.3 1431,1511C1433.2,1509.7 1436.6,1512.9 1439.7,1511C1442.8,1509.1 1446.3,1499.9 1449.8,1499.6C1453.3,1499.3 1458.1,1506.3 1460.5,1509C1462.9,1511.7 1461.8,1507.9 1464.3,1515.7C1466.8,1523.5 1471.7,1541.1 1475.4,1556C1479.1,1570.9 1483.2,1587.9 1486.6,1605C1489.9,1622.1 1492.2,1634.8 1495.5,1658.6C1498.8,1682.4 1503.9,1724.4 1506.7,1748C1509.5,1771.6 1510.8,1785.2 1512.5,1800C1514.2,1814.8 1514.7,1816.2 1516.7,1837C1518.8,1857.8 1521.5,1897.3 1524.8,1925C1528.1,1952.7 1532.6,1980.2 1536.5,2003C1540.4,2025.8 1544,2044 1548.2,2062C1552.4,2080 1556.3,2095.7 1561.8,2111L1581.3,2154L1589.1,2154L1600.8,2163.7L1612.5,2159.8L1628.1,2163.7L1635.9,2189L1653.4,2175.4L1663.1,2189L1672.9,2185.1L1684.6,2196.8L1690.4,2198.8L1700.2,2216.3L1713.8,2215.3L1733.3,2216.3L1745,2222.1L1754.7,2218.2L1762.5,2225L1772,2225.3L1782.5,2224.6L1793,2224.1L1803.5,2227.9L1814,2227.6L1824.5,2227L1835,2225.6L1845.5,2229.7L1856,2230.7L1866.5,2231.4L1877,2236.9L1887.5,2239.4L1898,2236.1L1908.5,2239L1919,2241.4L1929.5,2238.9L1940,2240.3L1950.5,2234.3L1961,2238.8L1971.5,2243.2L1982,2241.4L1992.5,2241L2003,2243.9L2013.5,2243.1L2024,2243.3L2034.5,2241.9L2045,2244.4L2055.5,2244.5L2066,2241.1L2076.5,2239L2087,2248.2L2097.5,2251.3L2108,2238.3L2118.5,2244.9L2129,2248L2139.5,2251L2150,2254.1L2160.5,2254.7L2171,2256.2L2181.5,2255L2192,2250L2202.5,2252L2213,2252.2L2223.5,2254.7L2234,2252.3L2244.5,2254.1L2255,2261.1L2265.5,2255L2276,2255.6L2286.5,2258.5L2297,2253.7L2307.5,2256.9" fill="none" stroke="#c23a3a" stroke-width="2.2" stroke-linejoin="round"/>
<line x1="212" y1="148" x2="236" y2="148" stroke="#3a3a3a" stroke-width="3"/>
<line x1="221" y1="399" x2="236" y2="399" stroke="#3a3a3a" stroke-width="3"/>
<line x1="212" y1="648" x2="236" y2="648" stroke="#3a3a3a" stroke-width="3"/>
<line x1="212" y1="899" x2="236" y2="899" stroke="#3a3a3a" stroke-width="3"/>
<line x1="214" y1="1150" x2="236" y2="1150" stroke="#3a3a3a" stroke-width="3"/>
<line x1="580.4" y1="1152.5" x2="580.4" y2="1179.5" stroke="#3a3a3a" stroke-width="3"/>
<line x1="1276.5" y1="1152.5" x2="1276.5" y2="1179.5" stroke="#3a3a3a" stroke-width="3"/>
<line x1="1974" y1="1152.5" x2="1974" y2="1179.5" stroke="#3a3a3a" stroke-width="3"/>
<line x1="929" y1="1152.5" x2="929" y2="1162.5" stroke="#3a3a3a" stroke-width="3"/>
<line x1="1625" y1="1152.5" x2="1625" y2="1162.5" stroke="#3a3a3a" stroke-width="3"/>
<rect x="236" y="134.5" width="2077" height="1018" fill="none" stroke="#000" stroke-width="4.6"/>
<line x1="212" y1="1826" x2="236" y2="1826" stroke="#3a3a3a" stroke-width="3"/>
<line x1="212" y1="2165.8" x2="236" y2="2165.8" stroke="#3a3a3a" stroke-width="3"/>
<line x1="214" y1="2507" x2="236" y2="2507" stroke="#3a3a3a" stroke-width="3"/>
<line x1="755.8" y1="2509" x2="755.8" y2="2536" stroke="#3a3a3a" stroke-width="3"/>
<line x1="1280.4" y1="2509" x2="1280.4" y2="2536" stroke="#3a3a3a" stroke-width="3"/>
<line x1="1807" y1="2509" x2="1807" y2="2536" stroke="#3a3a3a" stroke-width="3"/>
<line x1="492.9" y1="2509" x2="492.9" y2="2519" stroke="#3a3a3a" stroke-width="3"/>
<line x1="1018" y1="2509" x2="1018" y2="2519" stroke="#3a3a3a" stroke-width="3"/>
<line x1="1541.5" y1="2509" x2="1541.5" y2="2519" stroke="#3a3a3a" stroke-width="3"/>
<line x1="2069.8" y1="2509" x2="2069.8" y2="2519" stroke="#3a3a3a" stroke-width="3"/>
<rect x="236" y="1491.3" width="2078" height="1017.7" fill="none" stroke="#000" stroke-width="4.6"/>
<path d="M586,43L587,54.5L589.2,57.5L592.8,57.5L595,54.5L596,43" fill="none" stroke="#7a7a7a" stroke-width="2.4" stroke-linejoin="round"/>
<line x1="591" y1="57" x2="591" y2="64" stroke="#666" stroke-width="3.4"/>
<line x1="591" y1="64" x2="591" y2="132" stroke="#f4d6ac" stroke-width="5"/>
<line x1="591" y1="64" x2="591" y2="132" stroke="#d49e66" stroke-width="2.4"/>
<path d="M1273,43L1274,54.5L1276.2,57.5L1279.8,57.5L1282,54.5L1283,43" fill="none" stroke="#7a7a7a" stroke-width="2.4" stroke-linejoin="round"/>
<line x1="1278" y1="57" x2="1278" y2="64" stroke="#666" stroke-width="3.4"/>
<line x1="1278" y1="64" x2="1278" y2="132" stroke="#f4d6ac" stroke-width="5"/>
<line x1="1278" y1="64" x2="1278" y2="132" stroke="#d49e66" stroke-width="2.4"/>
<path d="M1326.7,43L1327.7,54.5L1329.9,57.5L1333.5,57.5L1335.7,54.5L1336.7,43" fill="none" stroke="#7a7a7a" stroke-width="2.4" stroke-linejoin="round"/>
<line x1="1331.7" y1="57" x2="1331.7" y2="64" stroke="#666" stroke-width="3.4"/>
<line x1="1331.7" y1="64" x2="1331.7" y2="132" stroke="#f4d6ac" stroke-width="5"/>
<line x1="1331.7" y1="64" x2="1331.7" y2="132" stroke="#d49e66" stroke-width="2.4"/>
<path d="M722.1,1400L723.1,1411.5L725.3,1414.5L728.9,1414.5L731.1,1411.5L732.1,1400" fill="none" stroke="#7a7a7a" stroke-width="2.4" stroke-linejoin="round"/>
<line x1="727.1" y1="1414" x2="727.1" y2="1421" stroke="#666" stroke-width="3.4"/>
<line x1="727.1" y1="1421" x2="727.1" y2="1489" stroke="#f4d6ac" stroke-width="5"/>
<line x1="727.1" y1="1421" x2="727.1" y2="1489" stroke="#d49e66" stroke-width="2.4"/>
<path d="M941.9,1400L942.9,1411.5L945.1,1414.5L948.7,1414.5L950.9,1411.5L951.9,1400" fill="none" stroke="#7a7a7a" stroke-width="2.4" stroke-linejoin="round"/>
<line x1="946.9" y1="1414" x2="946.9" y2="1421" stroke="#666" stroke-width="3.4"/>
<line x1="946.9" y1="1421" x2="946.9" y2="1489" stroke="#f4d6ac" stroke-width="5"/>
<line x1="946.9" y1="1421" x2="946.9" y2="1489" stroke="#d49e66" stroke-width="2.4"/>
<path d="M1250.5,1400L1251.5,1411.5L1253.7,1414.5L1257.3,1414.5L1259.5,1411.5L1260.5,1400" fill="none" stroke="#7a7a7a" stroke-width="2.4" stroke-linejoin="round"/>
<line x1="1255.5" y1="1414" x2="1255.5" y2="1421" stroke="#666" stroke-width="3.4"/>
<line x1="1255.5" y1="1421" x2="1255.5" y2="1489" stroke="#f4d6ac" stroke-width="5"/>
<line x1="1255.5" y1="1421" x2="1255.5" y2="1489" stroke="#d49e66" stroke-width="2.4"/>
<path d="M1433,1400L1434,1411.5L1436.2,1414.5L1439.8,1414.5L1442,1411.5L1443,1400" fill="none" stroke="#7a7a7a" stroke-width="2.4" stroke-linejoin="round"/>
<line x1="1438" y1="1414" x2="1438" y2="1421" stroke="#666" stroke-width="3.4"/>
<line x1="1438" y1="1421" x2="1438" y2="1489" stroke="#f4d6ac" stroke-width="5"/>
<line x1="1438" y1="1421" x2="1438" y2="1489" stroke="#d49e66" stroke-width="2.4"/>
<text x="81" y="66.5" font-size="55" class="sb" fill="#000" textLength="44.5" lengthAdjust="spacingAndGlyphs">a)</text>
<text x="83" y="1389.5" font-size="55" class="sb" fill="#000" textLength="51" lengthAdjust="spacingAndGlyphs">b)</text>
<text x="80.6" y="157" font-size="50" class="sr" fill="#000" textLength="102.4" lengthAdjust="spacingAndGlyphs">6400</text>
<text x="89" y="390.4" font-size="50" class="sr" fill="#000" textLength="103" lengthAdjust="spacingAndGlyphs">3600</text>
<text x="96" y="651.6" font-size="50" class="sr" fill="#000" textLength="98" lengthAdjust="spacingAndGlyphs">1600</text>
<text x="118.5" y="891.5" font-size="50" class="sr" fill="#000" textLength="76.5" lengthAdjust="spacingAndGlyphs">400</text>
<text x="169" y="1141.5" font-size="50" class="sr" fill="#000" textLength="26" lengthAdjust="spacingAndGlyphs">0</text>
<text x="98.4" y="1810.5" font-size="50" class="sr" fill="#000" textLength="98.9" lengthAdjust="spacingAndGlyphs">1600</text>
<text x="114" y="2154.7" font-size="50" class="sr" fill="#000" textLength="77.7" lengthAdjust="spacingAndGlyphs">400</text>
<text x="167.6" y="2492.9" font-size="50" class="sr" fill="#000" textLength="25.9" lengthAdjust="spacingAndGlyphs">0</text>
<text x="553" y="1242" font-size="50" class="sr" fill="#000" textLength="53" lengthAdjust="spacingAndGlyphs">28</text>
<text x="1242" y="1236.5" font-size="50" class="sr" fill="#000" textLength="49.5" lengthAdjust="spacingAndGlyphs">30</text>
<text x="1941" y="1234.5" font-size="50" class="sr" fill="#000" textLength="51" lengthAdjust="spacingAndGlyphs">32</text>
<text x="723" y="2600" font-size="50" class="sr" fill="#000" textLength="51.5" lengthAdjust="spacingAndGlyphs">73</text>
<text x="1253" y="2586" font-size="50" class="sr" fill="#000" textLength="49" lengthAdjust="spacingAndGlyphs">74</text>
<text x="1774.7" y="2583.3" font-size="50" class="sr" fill="#000" textLength="50.3" lengthAdjust="spacingAndGlyphs">75</text>
<text x="856" y="1312" font-size="61" class="sm" fill="#000" textLength="846" lengthAdjust="spacing" style="stroke:#000;stroke-width:2px">Position [&#186;2Theta] (Copper (Cu))</text>
<text x="845" y="2639.5" font-size="61" class="sm" fill="#000" textLength="845.5" lengthAdjust="spacing" style="stroke:#000;stroke-width:2px">Position [&#186;2Theta] (Copper (Cu))</text>
<text class="sb" font-size="65" fill="#000" textLength="189" lengthAdjust="spacingAndGlyphs" transform="translate(67,573.5) rotate(-90)">Counts</text>
<text class="sb" font-size="65" fill="#000" textLength="189" lengthAdjust="spacingAndGlyphs" transform="translate(58,1853.5) rotate(-90)">Counts</text>
<text x="2201.4" y="207.4" font-size="58" class="sb" fill="#000" textLength="84.6" lengthAdjust="spacingAndGlyphs">t-m</text>
<text x="2205.4" y="1582.7" font-size="50" class="ss" fill="#000" textLength="60.6" lengthAdjust="spacingAndGlyphs">c-t</text>
<text x="1110" y="325" font-size="57" class="sbs" fill="#00a352" textLength="147" lengthAdjust="spacing">c(111)</text>
<text x="1401.8" y="860" font-size="57" class="sbs" fill="#7c7c7c" textLength="139" lengthAdjust="spacing">t(101)</text>
<text x="618.7" y="938.3" font-size="57" class="sbs" fill="#3434c4" textLength="190.3" lengthAdjust="spacing">m(-111)</text>
<text x="442" y="2076" font-size="57" class="sbs" fill="#3a3ac0" textLength="158.5" lengthAdjust="spacing">t<tspan font-size="35.3" font-weight="normal" stroke="#3a3ac0" stroke-width="1" dy="7">1</tspan><tspan dy="-7">(004)</tspan></text>
<text x="891.8" y="2049.4" font-size="57" class="sbs" fill="#00a352" textLength="160.7" lengthAdjust="spacing">t<tspan font-size="35.3" font-weight="normal" stroke="#00a352" stroke-width="1" dy="7">2</tspan><tspan dy="-7">(004)</tspan></text>
<text x="1161.4" y="1898.8" font-size="57" class="sbs" fill="#808080" textLength="138.9" lengthAdjust="spacing">t<tspan font-size="35.3" font-weight="normal" stroke="#808080" stroke-width="1" dy="7">2</tspan><tspan dy="-7">400)</tspan></text>
<text x="1670.8" y="2013.7" font-size="57" class="sbs" fill="#8a0a1e" textLength="158.7" lengthAdjust="spacing">t<tspan font-size="35.3" font-weight="normal" stroke="#8a0a1e" stroke-width="1" dy="7">1</tspan><tspan dy="-7">(400)</tspan></text>
<line x1="586.5" y1="127.7" x2="576.5" y2="1146" stroke="#f0bc32" stroke-width="4.6" stroke-dasharray="16 13.36"/>
<line x1="1277.6" y1="127.7" x2="1251.9" y2="1146" stroke="#f0bc32" stroke-width="4.6" stroke-dasharray="16 13.36"/>
<line x1="1327.8" y1="127.7" x2="1340.8" y2="1146" stroke="#f0bc32" stroke-width="4.6" stroke-dasharray="16 13.36"/>
<line x1="722.3" y1="1489" x2="722.3" y2="2506" stroke="#f0bc32" stroke-width="4.6" stroke-dasharray="15.6 13.8"/>
<line x1="945.3" y1="1489" x2="953.9" y2="2506" stroke="#f0bc32" stroke-width="4.6" stroke-dasharray="15.6 13.8"/>
<line x1="1251.6" y1="1489" x2="1260.8" y2="2506" stroke="#f0bc32" stroke-width="4.6" stroke-dasharray="15.6 13.8"/>
<line x1="1435" y1="1489" x2="1456" y2="2506" stroke="#f0bc32" stroke-width="4.6" stroke-dasharray="15.6 13.8"/>
</svg></body></html>
